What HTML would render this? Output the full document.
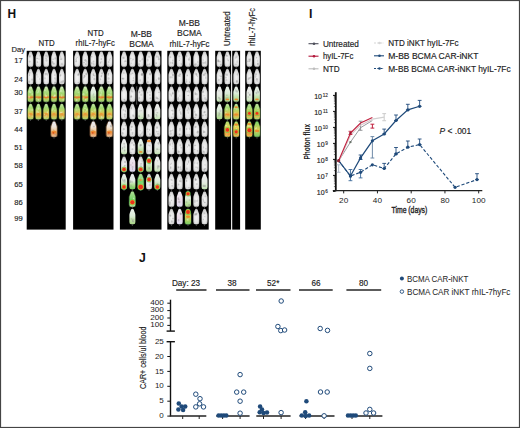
<!DOCTYPE html>
<html><head><meta charset="utf-8"><style>
html,body{margin:0;padding:0;background:#fff;}
svg{display:block;font-family:"Liberation Sans", sans-serif;}
</style></head><body>
<svg width="520" height="428" viewBox="0 0 520 428" font-family='"Liberation Sans", sans-serif'>
<defs>
<filter id="soft" x="-2%" y="-2%" width="104%" height="104%"><feGaussianBlur stdDeviation="0.3"/></filter>
<radialGradient id="gw" cx="0.5" cy="0.55" r="0.62">
 <stop offset="0" stop-color="#f4f4f4"/><stop offset="0.6" stop-color="#e2e2e2"/><stop offset="0.88" stop-color="#c2c2c2"/><stop offset="1" stop-color="#989898"/></radialGradient>
<linearGradient id="gwg" x1="0" y1="0" x2="0" y2="1">
 <stop offset="0" stop-color="#eaeaea"/><stop offset="0.45" stop-color="#e4ece4"/><stop offset="0.75" stop-color="#a8dc88"/><stop offset="1" stop-color="#70cc58"/></linearGradient>
<linearGradient id="gg" x1="0" y1="0" x2="0" y2="1">
 <stop offset="0" stop-color="#d8ecc8"/><stop offset="0.2" stop-color="#b8e090"/><stop offset="0.45" stop-color="#a2d872"/><stop offset="0.6" stop-color="#b4d062"/><stop offset="0.67" stop-color="#e0903a"/><stop offset="0.72" stop-color="#d88034"/><stop offset="0.78" stop-color="#b8cc58"/><stop offset="1" stop-color="#9cd072"/></linearGradient>
<linearGradient id="gk" x1="0" y1="0" x2="0" y2="1">
 <stop offset="0" stop-color="#ececec"/><stop offset="0.5" stop-color="#e6eae4"/><stop offset="0.85" stop-color="#d4e8c8"/><stop offset="1" stop-color="#b8dca8"/></linearGradient>
<linearGradient id="gn" x1="0" y1="0" x2="0" y2="1">
 <stop offset="0" stop-color="#ececf0"/><stop offset="0.5" stop-color="#ecdce8"/><stop offset="1" stop-color="#dcd8ec"/></linearGradient>
<linearGradient id="gq" x1="0" y1="0" x2="0" y2="1">
 <stop offset="0" stop-color="#eaf0ea"/><stop offset="0.45" stop-color="#dcecd8"/><stop offset="0.7" stop-color="#c0e0a8"/><stop offset="1" stop-color="#a8d488"/></linearGradient>
<linearGradient id="go" x1="0" y1="0" x2="0" y2="1">
 <stop offset="0" stop-color="#c4e6a4"/><stop offset="0.25" stop-color="#a2d872"/><stop offset="0.45" stop-color="#bcd462"/><stop offset="0.6" stop-color="#e0c052"/><stop offset="0.72" stop-color="#e0a444"/><stop offset="0.84" stop-color="#d4c455"/><stop offset="1" stop-color="#a4d474"/></linearGradient>
<linearGradient id="gp" x1="0" y1="0" x2="0" y2="1">
 <stop offset="0" stop-color="#e8e8f0"/><stop offset="0.35" stop-color="#f0e4d8"/><stop offset="0.6" stop-color="#f0c898"/><stop offset="0.8" stop-color="#e89858"/><stop offset="1" stop-color="#f0c8a0"/></linearGradient>
<linearGradient id="ggr" x1="0" y1="0" x2="0" y2="1">
 <stop offset="0" stop-color="#b0dc98"/><stop offset="0.5" stop-color="#78d468"/><stop offset="1" stop-color="#c0e4a8"/></linearGradient>
<linearGradient id="ggy" x1="0" y1="0" x2="0" y2="1">
 <stop offset="0" stop-color="#78d468"/><stop offset="0.5" stop-color="#d8d058"/><stop offset="1" stop-color="#78cc68"/></linearGradient>
<linearGradient id="gy" x1="0" y1="0" x2="0" y2="1">
 <stop offset="0" stop-color="#b0dc70"/><stop offset="0.35" stop-color="#e0d858"/><stop offset="0.6" stop-color="#f0b040"/><stop offset="0.85" stop-color="#f0a040"/><stop offset="1" stop-color="#e8c858"/></linearGradient>
</defs>
<rect x="0" y="0" width="520" height="428" fill="#fff"/>
<g filter="url(#soft)">
<rect x="26.7" y="50.8" width="39.00" height="178.80" fill="#000"/>
<path d="M29.48,51.80 Q30.60,51.30 31.72,51.80 L32.99,55.40 Q33.41,56.40 33.41,57.80 L33.41,64.40 Q33.41,66.80 31.86,66.80 L29.34,66.80 Q27.79,66.80 27.79,64.40 L27.79,57.80 Q27.79,56.40 28.21,55.40 Z" fill="url(#gw)"/>
<line x1="30.60" y1="66.60" x2="30.60" y2="68.60" stroke="#777" stroke-width="0.6"/>
<ellipse cx="30.00" cy="56.81" rx="0.89" ry="0.66" fill="#909090" opacity="0.38"/>
<ellipse cx="30.14" cy="55.88" rx="0.80" ry="0.63" fill="#909090" opacity="0.36"/>
<ellipse cx="29.14" cy="56.21" rx="0.75" ry="1.26" fill="#909090" opacity="0.28"/>
<ellipse cx="29.66" cy="61.57" rx="1.07" ry="1.06" fill="#909090" opacity="0.35"/>
<path d="M37.28,51.80 Q38.40,51.30 39.52,51.80 L40.79,55.40 Q41.21,56.40 41.21,57.80 L41.21,64.40 Q41.21,66.80 39.66,66.80 L37.14,66.80 Q35.59,66.80 35.59,64.40 L35.59,57.80 Q35.59,56.40 36.01,55.40 Z" fill="url(#gw)"/>
<line x1="38.40" y1="66.60" x2="38.40" y2="68.60" stroke="#777" stroke-width="0.6"/>
<ellipse cx="40.02" cy="55.77" rx="1.02" ry="0.83" fill="#909090" opacity="0.29"/>
<ellipse cx="37.10" cy="58.38" rx="0.99" ry="0.74" fill="#909090" opacity="0.40"/>
<ellipse cx="38.87" cy="59.02" rx="0.83" ry="0.65" fill="#909090" opacity="0.26"/>
<ellipse cx="37.40" cy="62.10" rx="0.76" ry="0.85" fill="#909090" opacity="0.40"/>
<path d="M45.08,51.80 Q46.20,51.30 47.32,51.80 L48.59,55.40 Q49.01,56.40 49.01,57.80 L49.01,64.40 Q49.01,66.80 47.46,66.80 L44.94,66.80 Q43.39,66.80 43.39,64.40 L43.39,57.80 Q43.39,56.40 43.81,55.40 Z" fill="url(#gw)"/>
<line x1="46.20" y1="66.60" x2="46.20" y2="68.60" stroke="#777" stroke-width="0.6"/>
<ellipse cx="46.04" cy="58.30" rx="0.98" ry="1.16" fill="#909090" opacity="0.31"/>
<ellipse cx="46.45" cy="60.55" rx="1.03" ry="1.18" fill="#909090" opacity="0.32"/>
<ellipse cx="47.83" cy="56.48" rx="0.75" ry="1.21" fill="#909090" opacity="0.29"/>
<ellipse cx="46.16" cy="55.69" rx="0.90" ry="1.21" fill="#909090" opacity="0.39"/>
<path d="M52.88,51.80 Q54.00,51.30 55.12,51.80 L56.39,55.40 Q56.81,56.40 56.81,57.80 L56.81,64.40 Q56.81,66.80 55.26,66.80 L52.74,66.80 Q51.19,66.80 51.19,64.40 L51.19,57.80 Q51.19,56.40 51.61,55.40 Z" fill="url(#gw)"/>
<line x1="54.00" y1="66.60" x2="54.00" y2="68.60" stroke="#777" stroke-width="0.6"/>
<ellipse cx="55.28" cy="58.44" rx="0.92" ry="1.08" fill="#909090" opacity="0.39"/>
<ellipse cx="53.85" cy="63.70" rx="1.07" ry="0.98" fill="#909090" opacity="0.42"/>
<ellipse cx="52.51" cy="62.31" rx="0.89" ry="1.39" fill="#909090" opacity="0.46"/>
<ellipse cx="53.27" cy="59.16" rx="0.90" ry="0.62" fill="#909090" opacity="0.37"/>
<path d="M60.68,51.80 Q61.80,51.30 62.92,51.80 L64.19,55.40 Q64.61,56.40 64.61,57.80 L64.61,64.40 Q64.61,66.80 63.06,66.80 L60.54,66.80 Q58.99,66.80 58.99,64.40 L58.99,57.80 Q58.99,56.40 59.41,55.40 Z" fill="url(#gw)"/>
<line x1="61.80" y1="66.60" x2="61.80" y2="68.60" stroke="#777" stroke-width="0.6"/>
<ellipse cx="60.67" cy="56.47" rx="0.54" ry="1.21" fill="#909090" opacity="0.28"/>
<ellipse cx="60.94" cy="59.21" rx="1.02" ry="0.66" fill="#909090" opacity="0.36"/>
<ellipse cx="61.97" cy="64.13" rx="0.99" ry="1.29" fill="#909090" opacity="0.32"/>
<ellipse cx="61.51" cy="58.89" rx="1.03" ry="1.37" fill="#909090" opacity="0.29"/>
<path d="M29.48,69.30 Q30.60,68.80 31.72,69.30 L32.99,72.90 Q33.41,73.90 33.41,75.30 L33.41,81.90 Q33.41,84.30 31.86,84.30 L29.34,84.30 Q27.79,84.30 27.79,81.90 L27.79,75.30 Q27.79,73.90 28.21,72.90 Z" fill="url(#gw)"/>
<line x1="30.60" y1="84.10" x2="30.60" y2="86.10" stroke="#777" stroke-width="0.6"/>
<ellipse cx="29.50" cy="75.12" rx="0.64" ry="0.99" fill="#909090" opacity="0.40"/>
<ellipse cx="29.79" cy="72.84" rx="0.75" ry="0.90" fill="#909090" opacity="0.39"/>
<ellipse cx="32.14" cy="79.70" rx="0.81" ry="1.09" fill="#909090" opacity="0.42"/>
<ellipse cx="29.08" cy="81.80" rx="0.97" ry="1.30" fill="#909090" opacity="0.45"/>
<path d="M37.28,69.30 Q38.40,68.80 39.52,69.30 L40.79,72.90 Q41.21,73.90 41.21,75.30 L41.21,81.90 Q41.21,84.30 39.66,84.30 L37.14,84.30 Q35.59,84.30 35.59,81.90 L35.59,75.30 Q35.59,73.90 36.01,72.90 Z" fill="url(#gw)"/>
<line x1="38.40" y1="84.10" x2="38.40" y2="86.10" stroke="#777" stroke-width="0.6"/>
<ellipse cx="38.03" cy="76.79" rx="0.56" ry="1.11" fill="#909090" opacity="0.27"/>
<ellipse cx="36.93" cy="74.89" rx="0.60" ry="0.87" fill="#909090" opacity="0.26"/>
<ellipse cx="36.70" cy="74.31" rx="0.56" ry="0.89" fill="#909090" opacity="0.26"/>
<ellipse cx="39.67" cy="78.94" rx="0.59" ry="0.80" fill="#909090" opacity="0.34"/>
<path d="M45.08,69.30 Q46.20,68.80 47.32,69.30 L48.59,72.90 Q49.01,73.90 49.01,75.30 L49.01,81.90 Q49.01,84.30 47.46,84.30 L44.94,84.30 Q43.39,84.30 43.39,81.90 L43.39,75.30 Q43.39,73.90 43.81,72.90 Z" fill="url(#gw)"/>
<line x1="46.20" y1="84.10" x2="46.20" y2="86.10" stroke="#777" stroke-width="0.6"/>
<ellipse cx="45.74" cy="74.03" rx="1.01" ry="1.39" fill="#909090" opacity="0.37"/>
<ellipse cx="46.15" cy="73.66" rx="0.56" ry="0.87" fill="#909090" opacity="0.32"/>
<ellipse cx="47.32" cy="74.41" rx="0.51" ry="1.36" fill="#909090" opacity="0.38"/>
<ellipse cx="45.00" cy="78.23" rx="0.52" ry="1.02" fill="#909090" opacity="0.49"/>
<path d="M52.88,69.30 Q54.00,68.80 55.12,69.30 L56.39,72.90 Q56.81,73.90 56.81,75.30 L56.81,81.90 Q56.81,84.30 55.26,84.30 L52.74,84.30 Q51.19,84.30 51.19,81.90 L51.19,75.30 Q51.19,73.90 51.61,72.90 Z" fill="url(#gw)"/>
<line x1="54.00" y1="84.10" x2="54.00" y2="86.10" stroke="#777" stroke-width="0.6"/>
<ellipse cx="55.24" cy="79.76" rx="0.66" ry="0.89" fill="#909090" opacity="0.29"/>
<ellipse cx="54.92" cy="78.13" rx="0.97" ry="0.86" fill="#909090" opacity="0.31"/>
<ellipse cx="55.06" cy="82.65" rx="1.01" ry="1.24" fill="#909090" opacity="0.45"/>
<ellipse cx="54.82" cy="75.07" rx="0.81" ry="0.88" fill="#909090" opacity="0.26"/>
<path d="M60.68,69.30 Q61.80,68.80 62.92,69.30 L64.19,72.90 Q64.61,73.90 64.61,75.30 L64.61,81.90 Q64.61,84.30 63.06,84.30 L60.54,84.30 Q58.99,84.30 58.99,81.90 L58.99,75.30 Q58.99,73.90 59.41,72.90 Z" fill="url(#gw)"/>
<line x1="61.80" y1="84.10" x2="61.80" y2="86.10" stroke="#777" stroke-width="0.6"/>
<ellipse cx="60.19" cy="75.59" rx="0.66" ry="1.15" fill="#909090" opacity="0.49"/>
<ellipse cx="61.62" cy="82.17" rx="1.09" ry="1.36" fill="#909090" opacity="0.34"/>
<ellipse cx="60.85" cy="75.07" rx="0.62" ry="0.76" fill="#909090" opacity="0.41"/>
<ellipse cx="63.16" cy="81.20" rx="0.79" ry="1.12" fill="#909090" opacity="0.45"/>
<path d="M29.20,86.50 Q30.60,86.00 32.00,86.50 L33.58,90.10 Q34.11,91.10 34.11,92.50 L34.11,99.90 Q34.11,102.30 32.18,102.30 L29.02,102.30 Q27.09,102.30 27.09,99.90 L27.09,92.50 Q27.09,91.10 27.62,90.10 Z" fill="#78cc58" opacity="0.3"/>
<path d="M29.48,86.80 Q30.60,86.30 31.72,86.80 L32.99,90.40 Q33.41,91.40 33.41,92.80 L33.41,99.40 Q33.41,101.80 31.86,101.80 L29.34,101.80 Q27.79,101.80 27.79,99.40 L27.79,92.80 Q27.79,91.40 28.21,90.40 Z" fill="url(#gg)"/>
<line x1="30.60" y1="101.60" x2="30.60" y2="103.60" stroke="#777" stroke-width="0.6"/>
<ellipse cx="29.19" cy="96.91" rx="1.05" ry="1.23" fill="#e8f4d8" opacity="0.44"/>
<ellipse cx="30.53" cy="92.09" rx="0.97" ry="0.87" fill="#e8f4d8" opacity="0.45"/>
<ellipse cx="32.20" cy="94.26" rx="0.74" ry="1.36" fill="#e8f4d8" opacity="0.43"/>
<ellipse cx="29.48" cy="91.57" rx="0.59" ry="1.32" fill="#e8f4d8" opacity="0.45"/>
<ellipse cx="30.60" cy="98.05" rx="1.30" ry="0.56" fill="#ec8a2c" opacity="0.95"/>
<path d="M37.00,86.50 Q38.40,86.00 39.80,86.50 L41.38,90.10 Q41.91,91.10 41.91,92.50 L41.91,99.90 Q41.91,102.30 39.98,102.30 L36.82,102.30 Q34.89,102.30 34.89,99.90 L34.89,92.50 Q34.89,91.10 35.42,90.10 Z" fill="#78cc58" opacity="0.3"/>
<path d="M37.28,86.80 Q38.40,86.30 39.52,86.80 L40.79,90.40 Q41.21,91.40 41.21,92.80 L41.21,99.40 Q41.21,101.80 39.66,101.80 L37.14,101.80 Q35.59,101.80 35.59,99.40 L35.59,92.80 Q35.59,91.40 36.01,90.40 Z" fill="url(#gg)"/>
<line x1="38.40" y1="101.60" x2="38.40" y2="103.60" stroke="#777" stroke-width="0.6"/>
<ellipse cx="37.20" cy="98.57" rx="1.09" ry="1.13" fill="#e8f4d8" opacity="0.34"/>
<ellipse cx="38.57" cy="91.61" rx="0.51" ry="1.38" fill="#e8f4d8" opacity="0.41"/>
<ellipse cx="38.49" cy="99.64" rx="0.76" ry="1.30" fill="#e8f4d8" opacity="0.46"/>
<ellipse cx="37.42" cy="92.82" rx="0.68" ry="0.79" fill="#e8f4d8" opacity="0.40"/>
<ellipse cx="38.40" cy="98.05" rx="1.30" ry="0.56" fill="#ec8a2c" opacity="0.95"/>
<path d="M44.80,86.50 Q46.20,86.00 47.60,86.50 L49.18,90.10 Q49.71,91.10 49.71,92.50 L49.71,99.90 Q49.71,102.30 47.78,102.30 L44.62,102.30 Q42.69,102.30 42.69,99.90 L42.69,92.50 Q42.69,91.10 43.22,90.10 Z" fill="#78cc58" opacity="0.3"/>
<path d="M45.08,86.80 Q46.20,86.30 47.32,86.80 L48.59,90.40 Q49.01,91.40 49.01,92.80 L49.01,99.40 Q49.01,101.80 47.46,101.80 L44.94,101.80 Q43.39,101.80 43.39,99.40 L43.39,92.80 Q43.39,91.40 43.81,90.40 Z" fill="url(#gg)"/>
<line x1="46.20" y1="101.60" x2="46.20" y2="103.60" stroke="#777" stroke-width="0.6"/>
<ellipse cx="45.38" cy="94.49" rx="0.58" ry="1.33" fill="#e8f4d8" opacity="0.34"/>
<ellipse cx="46.06" cy="96.13" rx="1.04" ry="0.94" fill="#e8f4d8" opacity="0.48"/>
<ellipse cx="46.21" cy="95.62" rx="0.81" ry="0.61" fill="#e8f4d8" opacity="0.36"/>
<ellipse cx="45.12" cy="90.34" rx="0.98" ry="0.74" fill="#e8f4d8" opacity="0.37"/>
<ellipse cx="46.20" cy="98.05" rx="1.30" ry="0.56" fill="#ec8a2c" opacity="0.95"/>
<path d="M52.60,86.50 Q54.00,86.00 55.40,86.50 L56.98,90.10 Q57.51,91.10 57.51,92.50 L57.51,99.90 Q57.51,102.30 55.58,102.30 L52.42,102.30 Q50.49,102.30 50.49,99.90 L50.49,92.50 Q50.49,91.10 51.02,90.10 Z" fill="#78cc58" opacity="0.3"/>
<path d="M52.88,86.80 Q54.00,86.30 55.12,86.80 L56.39,90.40 Q56.81,91.40 56.81,92.80 L56.81,99.40 Q56.81,101.80 55.26,101.80 L52.74,101.80 Q51.19,101.80 51.19,99.40 L51.19,92.80 Q51.19,91.40 51.61,90.40 Z" fill="url(#gg)"/>
<line x1="54.00" y1="101.60" x2="54.00" y2="103.60" stroke="#777" stroke-width="0.6"/>
<ellipse cx="54.77" cy="95.86" rx="0.70" ry="1.01" fill="#e8f4d8" opacity="0.39"/>
<ellipse cx="54.97" cy="91.36" rx="0.84" ry="0.80" fill="#e8f4d8" opacity="0.32"/>
<ellipse cx="54.93" cy="95.38" rx="0.84" ry="1.21" fill="#e8f4d8" opacity="0.48"/>
<ellipse cx="53.81" cy="96.43" rx="0.80" ry="1.01" fill="#e8f4d8" opacity="0.42"/>
<ellipse cx="54.00" cy="98.05" rx="1.30" ry="0.56" fill="#ec8a2c" opacity="0.95"/>
<path d="M60.40,86.50 Q61.80,86.00 63.20,86.50 L64.78,90.10 Q65.31,91.10 65.31,92.50 L65.31,99.90 Q65.31,102.30 63.38,102.30 L60.22,102.30 Q58.29,102.30 58.29,99.90 L58.29,92.50 Q58.29,91.10 58.82,90.10 Z" fill="#78cc58" opacity="0.3"/>
<path d="M60.68,86.80 Q61.80,86.30 62.92,86.80 L64.19,90.40 Q64.61,91.40 64.61,92.80 L64.61,99.40 Q64.61,101.80 63.06,101.80 L60.54,101.80 Q58.99,101.80 58.99,99.40 L58.99,92.80 Q58.99,91.40 59.41,90.40 Z" fill="url(#gg)"/>
<line x1="61.80" y1="101.60" x2="61.80" y2="103.60" stroke="#777" stroke-width="0.6"/>
<ellipse cx="61.64" cy="95.63" rx="0.79" ry="1.35" fill="#e8f4d8" opacity="0.42"/>
<ellipse cx="63.08" cy="99.72" rx="0.66" ry="1.05" fill="#e8f4d8" opacity="0.49"/>
<ellipse cx="62.96" cy="91.67" rx="0.57" ry="0.95" fill="#e8f4d8" opacity="0.27"/>
<ellipse cx="60.92" cy="91.03" rx="0.90" ry="1.23" fill="#e8f4d8" opacity="0.47"/>
<ellipse cx="61.80" cy="98.05" rx="1.30" ry="0.56" fill="#ec8a2c" opacity="0.95"/>
<path d="M29.20,104.00 Q30.60,103.50 32.00,104.00 L33.58,107.60 Q34.11,108.60 34.11,110.00 L34.11,117.40 Q34.11,119.80 32.18,119.80 L29.02,119.80 Q27.09,119.80 27.09,117.40 L27.09,110.00 Q27.09,108.60 27.62,107.60 Z" fill="#78cc58" opacity="0.3"/>
<path d="M29.48,104.30 Q30.60,103.80 31.72,104.30 L32.99,107.90 Q33.41,108.90 33.41,110.30 L33.41,116.90 Q33.41,119.30 31.86,119.30 L29.34,119.30 Q27.79,119.30 27.79,116.90 L27.79,110.30 Q27.79,108.90 28.21,107.90 Z" fill="url(#go)"/>
<line x1="30.60" y1="119.10" x2="30.60" y2="121.10" stroke="#777" stroke-width="0.6"/>
<ellipse cx="29.43" cy="114.96" rx="0.90" ry="0.71" fill="#e8f4d8" opacity="0.47"/>
<ellipse cx="32.19" cy="110.00" rx="1.07" ry="0.92" fill="#e8f4d8" opacity="0.37"/>
<ellipse cx="32.27" cy="116.12" rx="0.60" ry="0.95" fill="#e8f4d8" opacity="0.38"/>
<ellipse cx="30.05" cy="109.76" rx="0.69" ry="1.18" fill="#e8f4d8" opacity="0.25"/>
<ellipse cx="30.60" cy="113.90" rx="1.50" ry="0.72" fill="#ec8a2c" opacity="0.95"/>
<path d="M37.00,104.00 Q38.40,103.50 39.80,104.00 L41.38,107.60 Q41.91,108.60 41.91,110.00 L41.91,117.40 Q41.91,119.80 39.98,119.80 L36.82,119.80 Q34.89,119.80 34.89,117.40 L34.89,110.00 Q34.89,108.60 35.42,107.60 Z" fill="#78cc58" opacity="0.3"/>
<path d="M37.28,104.30 Q38.40,103.80 39.52,104.30 L40.79,107.90 Q41.21,108.90 41.21,110.30 L41.21,116.90 Q41.21,119.30 39.66,119.30 L37.14,119.30 Q35.59,119.30 35.59,116.90 L35.59,110.30 Q35.59,108.90 36.01,107.90 Z" fill="url(#go)"/>
<line x1="38.40" y1="119.10" x2="38.40" y2="121.10" stroke="#777" stroke-width="0.6"/>
<ellipse cx="38.58" cy="112.20" rx="0.51" ry="0.87" fill="#e8f4d8" opacity="0.41"/>
<ellipse cx="38.44" cy="108.44" rx="1.09" ry="1.23" fill="#e8f4d8" opacity="0.49"/>
<ellipse cx="37.06" cy="110.46" rx="0.52" ry="1.22" fill="#e8f4d8" opacity="0.32"/>
<ellipse cx="37.14" cy="112.02" rx="1.05" ry="1.26" fill="#e8f4d8" opacity="0.31"/>
<ellipse cx="38.40" cy="113.90" rx="1.50" ry="0.72" fill="#ec8a2c" opacity="0.95"/>
<path d="M44.80,104.00 Q46.20,103.50 47.60,104.00 L49.18,107.60 Q49.71,108.60 49.71,110.00 L49.71,117.40 Q49.71,119.80 47.78,119.80 L44.62,119.80 Q42.69,119.80 42.69,117.40 L42.69,110.00 Q42.69,108.60 43.22,107.60 Z" fill="#78cc58" opacity="0.3"/>
<path d="M45.08,104.30 Q46.20,103.80 47.32,104.30 L48.59,107.90 Q49.01,108.90 49.01,110.30 L49.01,116.90 Q49.01,119.30 47.46,119.30 L44.94,119.30 Q43.39,119.30 43.39,116.90 L43.39,110.30 Q43.39,108.90 43.81,107.90 Z" fill="url(#go)"/>
<line x1="46.20" y1="119.10" x2="46.20" y2="121.10" stroke="#777" stroke-width="0.6"/>
<ellipse cx="45.01" cy="116.99" rx="0.84" ry="1.16" fill="#e8f4d8" opacity="0.27"/>
<ellipse cx="44.70" cy="114.68" rx="0.76" ry="0.66" fill="#e8f4d8" opacity="0.48"/>
<ellipse cx="46.66" cy="115.82" rx="0.55" ry="1.28" fill="#e8f4d8" opacity="0.27"/>
<ellipse cx="47.43" cy="112.34" rx="0.70" ry="1.04" fill="#e8f4d8" opacity="0.48"/>
<ellipse cx="46.20" cy="113.90" rx="1.50" ry="0.72" fill="#ec8a2c" opacity="0.95"/>
<path d="M52.60,104.00 Q54.00,103.50 55.40,104.00 L56.98,107.60 Q57.51,108.60 57.51,110.00 L57.51,117.40 Q57.51,119.80 55.58,119.80 L52.42,119.80 Q50.49,119.80 50.49,117.40 L50.49,110.00 Q50.49,108.60 51.02,107.60 Z" fill="#78cc58" opacity="0.3"/>
<path d="M52.88,104.30 Q54.00,103.80 55.12,104.30 L56.39,107.90 Q56.81,108.90 56.81,110.30 L56.81,116.90 Q56.81,119.30 55.26,119.30 L52.74,119.30 Q51.19,119.30 51.19,116.90 L51.19,110.30 Q51.19,108.90 51.61,107.90 Z" fill="url(#go)"/>
<line x1="54.00" y1="119.10" x2="54.00" y2="121.10" stroke="#777" stroke-width="0.6"/>
<ellipse cx="53.21" cy="109.09" rx="0.82" ry="0.79" fill="#e8f4d8" opacity="0.28"/>
<ellipse cx="52.85" cy="108.30" rx="0.62" ry="0.85" fill="#e8f4d8" opacity="0.33"/>
<ellipse cx="54.88" cy="110.70" rx="0.80" ry="0.74" fill="#e8f4d8" opacity="0.34"/>
<ellipse cx="52.36" cy="110.30" rx="0.51" ry="1.19" fill="#e8f4d8" opacity="0.39"/>
<ellipse cx="54.00" cy="113.90" rx="1.50" ry="0.72" fill="#ec8a2c" opacity="0.95"/>
<path d="M60.40,104.00 Q61.80,103.50 63.20,104.00 L64.78,107.60 Q65.31,108.60 65.31,110.00 L65.31,117.40 Q65.31,119.80 63.38,119.80 L60.22,119.80 Q58.29,119.80 58.29,117.40 L58.29,110.00 Q58.29,108.60 58.82,107.60 Z" fill="#78cc58" opacity="0.3"/>
<path d="M60.68,104.30 Q61.80,103.80 62.92,104.30 L64.19,107.90 Q64.61,108.90 64.61,110.30 L64.61,116.90 Q64.61,119.30 63.06,119.30 L60.54,119.30 Q58.99,119.30 58.99,116.90 L58.99,110.30 Q58.99,108.90 59.41,107.90 Z" fill="url(#go)"/>
<line x1="61.80" y1="119.10" x2="61.80" y2="121.10" stroke="#777" stroke-width="0.6"/>
<ellipse cx="60.74" cy="112.55" rx="1.06" ry="0.69" fill="#e8f4d8" opacity="0.45"/>
<ellipse cx="61.57" cy="112.75" rx="1.00" ry="0.91" fill="#e8f4d8" opacity="0.38"/>
<ellipse cx="62.44" cy="117.62" rx="0.71" ry="1.27" fill="#e8f4d8" opacity="0.43"/>
<ellipse cx="62.26" cy="111.85" rx="0.71" ry="0.64" fill="#e8f4d8" opacity="0.28"/>
<ellipse cx="61.80" cy="113.90" rx="1.50" ry="0.72" fill="#ec8a2c" opacity="0.95"/>
<path d="M52.52,121.50 Q54.00,121.00 55.48,121.50 L57.15,125.10 Q57.71,126.10 57.71,127.50 L57.71,134.90 Q57.71,137.30 55.67,137.30 L52.33,137.30 Q50.29,137.30 50.29,134.90 L50.29,127.50 Q50.29,126.10 50.85,125.10 Z" fill="#f0b070" opacity="0.4"/>
<path d="M52.88,121.80 Q54.00,121.30 55.12,121.80 L56.39,125.40 Q56.81,126.40 56.81,127.80 L56.81,134.40 Q56.81,136.80 55.26,136.80 L52.74,136.80 Q51.19,136.80 51.19,134.40 L51.19,127.80 Q51.19,126.40 51.61,125.40 Z" fill="url(#gp)"/>
<line x1="54.00" y1="136.60" x2="54.00" y2="138.60" stroke="#777" stroke-width="0.6"/>
<ellipse cx="52.54" cy="132.71" rx="0.65" ry="0.73" fill="#909090" opacity="0.27"/>
<ellipse cx="55.16" cy="134.01" rx="0.90" ry="0.83" fill="#909090" opacity="0.31"/>
<ellipse cx="53.30" cy="129.89" rx="0.59" ry="0.96" fill="#909090" opacity="0.32"/>
<ellipse cx="55.57" cy="135.03" rx="0.83" ry="0.80" fill="#909090" opacity="0.49"/>
<ellipse cx="54.00" cy="132.00" rx="2.60" ry="1.60" fill="#ec8a2c" opacity="0.95"/>
<ellipse cx="53.40" cy="132.90" rx="0.90" ry="0.81" fill="#d84a20" opacity="0.9"/>
<rect x="73.1" y="50.8" width="40.40" height="178.80" fill="#000"/>
<path d="M75.98,51.80 Q77.14,51.30 78.30,51.80 L79.61,55.40 Q80.05,56.40 80.05,57.80 L80.05,64.40 Q80.05,66.80 78.45,66.80 L75.83,66.80 Q74.23,66.80 74.23,64.40 L74.23,57.80 Q74.23,56.40 74.67,55.40 Z" fill="url(#gw)"/>
<line x1="77.14" y1="66.60" x2="77.14" y2="68.60" stroke="#777" stroke-width="0.6"/>
<ellipse cx="76.49" cy="58.87" rx="0.50" ry="0.91" fill="#909090" opacity="0.37"/>
<ellipse cx="77.15" cy="57.31" rx="0.80" ry="0.60" fill="#909090" opacity="0.32"/>
<ellipse cx="75.75" cy="59.30" rx="0.53" ry="0.62" fill="#909090" opacity="0.33"/>
<ellipse cx="76.23" cy="61.16" rx="0.82" ry="1.20" fill="#909090" opacity="0.41"/>
<path d="M84.06,51.80 Q85.22,51.30 86.38,51.80 L87.69,55.40 Q88.13,56.40 88.13,57.80 L88.13,64.40 Q88.13,66.80 86.53,66.80 L83.91,66.80 Q82.31,66.80 82.31,64.40 L82.31,57.80 Q82.31,56.40 82.75,55.40 Z" fill="url(#gw)"/>
<line x1="85.22" y1="66.60" x2="85.22" y2="68.60" stroke="#777" stroke-width="0.6"/>
<ellipse cx="85.95" cy="64.09" rx="0.73" ry="0.86" fill="#909090" opacity="0.50"/>
<ellipse cx="84.03" cy="62.54" rx="0.89" ry="0.64" fill="#909090" opacity="0.46"/>
<ellipse cx="86.55" cy="61.57" rx="0.94" ry="1.25" fill="#909090" opacity="0.28"/>
<ellipse cx="85.30" cy="60.34" rx="1.00" ry="1.24" fill="#909090" opacity="0.46"/>
<path d="M92.14,51.80 Q93.30,51.30 94.46,51.80 L95.77,55.40 Q96.21,56.40 96.21,57.80 L96.21,64.40 Q96.21,66.80 94.61,66.80 L91.99,66.80 Q90.39,66.80 90.39,64.40 L90.39,57.80 Q90.39,56.40 90.83,55.40 Z" fill="url(#gw)"/>
<line x1="93.30" y1="66.60" x2="93.30" y2="68.60" stroke="#777" stroke-width="0.6"/>
<ellipse cx="93.59" cy="64.23" rx="0.91" ry="1.15" fill="#909090" opacity="0.31"/>
<ellipse cx="91.71" cy="56.63" rx="0.72" ry="0.68" fill="#909090" opacity="0.46"/>
<ellipse cx="93.50" cy="61.58" rx="0.88" ry="1.14" fill="#909090" opacity="0.37"/>
<ellipse cx="91.61" cy="63.28" rx="0.95" ry="1.00" fill="#909090" opacity="0.38"/>
<path d="M100.22,51.80 Q101.38,51.30 102.54,51.80 L103.85,55.40 Q104.29,56.40 104.29,57.80 L104.29,64.40 Q104.29,66.80 102.69,66.80 L100.07,66.80 Q98.47,66.80 98.47,64.40 L98.47,57.80 Q98.47,56.40 98.91,55.40 Z" fill="url(#gw)"/>
<line x1="101.38" y1="66.60" x2="101.38" y2="68.60" stroke="#777" stroke-width="0.6"/>
<ellipse cx="101.92" cy="55.96" rx="0.94" ry="0.80" fill="#909090" opacity="0.27"/>
<ellipse cx="100.58" cy="62.59" rx="0.62" ry="1.19" fill="#909090" opacity="0.49"/>
<ellipse cx="101.36" cy="59.13" rx="0.79" ry="1.15" fill="#909090" opacity="0.44"/>
<ellipse cx="101.78" cy="61.73" rx="0.55" ry="0.72" fill="#909090" opacity="0.31"/>
<path d="M108.30,51.80 Q109.46,51.30 110.62,51.80 L111.93,55.40 Q112.37,56.40 112.37,57.80 L112.37,64.40 Q112.37,66.80 110.77,66.80 L108.15,66.80 Q106.55,66.80 106.55,64.40 L106.55,57.80 Q106.55,56.40 106.99,55.40 Z" fill="url(#gw)"/>
<line x1="109.46" y1="66.60" x2="109.46" y2="68.60" stroke="#777" stroke-width="0.6"/>
<ellipse cx="110.29" cy="58.34" rx="0.84" ry="0.61" fill="#909090" opacity="0.27"/>
<ellipse cx="108.67" cy="62.02" rx="0.92" ry="1.14" fill="#909090" opacity="0.32"/>
<ellipse cx="109.52" cy="59.95" rx="0.78" ry="0.69" fill="#909090" opacity="0.47"/>
<ellipse cx="108.44" cy="65.08" rx="1.06" ry="0.61" fill="#909090" opacity="0.36"/>
<path d="M75.98,69.30 Q77.14,68.80 78.30,69.30 L79.61,72.90 Q80.05,73.90 80.05,75.30 L80.05,81.90 Q80.05,84.30 78.45,84.30 L75.83,84.30 Q74.23,84.30 74.23,81.90 L74.23,75.30 Q74.23,73.90 74.67,72.90 Z" fill="url(#gw)"/>
<line x1="77.14" y1="84.10" x2="77.14" y2="86.10" stroke="#777" stroke-width="0.6"/>
<ellipse cx="78.23" cy="82.48" rx="0.77" ry="0.81" fill="#909090" opacity="0.30"/>
<ellipse cx="78.65" cy="74.91" rx="0.85" ry="0.71" fill="#909090" opacity="0.38"/>
<ellipse cx="78.68" cy="74.13" rx="0.99" ry="1.01" fill="#909090" opacity="0.47"/>
<ellipse cx="77.83" cy="75.11" rx="1.04" ry="0.99" fill="#909090" opacity="0.26"/>
<path d="M84.06,69.30 Q85.22,68.80 86.38,69.30 L87.69,72.90 Q88.13,73.90 88.13,75.30 L88.13,81.90 Q88.13,84.30 86.53,84.30 L83.91,84.30 Q82.31,84.30 82.31,81.90 L82.31,75.30 Q82.31,73.90 82.75,72.90 Z" fill="url(#gw)"/>
<line x1="85.22" y1="84.10" x2="85.22" y2="86.10" stroke="#777" stroke-width="0.6"/>
<ellipse cx="83.53" cy="77.72" rx="0.77" ry="0.84" fill="#909090" opacity="0.29"/>
<ellipse cx="84.69" cy="75.96" rx="1.00" ry="0.60" fill="#909090" opacity="0.44"/>
<ellipse cx="86.37" cy="74.00" rx="1.06" ry="1.17" fill="#909090" opacity="0.48"/>
<ellipse cx="84.51" cy="76.52" rx="0.74" ry="1.40" fill="#909090" opacity="0.40"/>
<path d="M92.14,69.30 Q93.30,68.80 94.46,69.30 L95.77,72.90 Q96.21,73.90 96.21,75.30 L96.21,81.90 Q96.21,84.30 94.61,84.30 L91.99,84.30 Q90.39,84.30 90.39,81.90 L90.39,75.30 Q90.39,73.90 90.83,72.90 Z" fill="url(#gw)"/>
<line x1="93.30" y1="84.10" x2="93.30" y2="86.10" stroke="#777" stroke-width="0.6"/>
<ellipse cx="92.83" cy="77.08" rx="0.67" ry="0.64" fill="#909090" opacity="0.28"/>
<ellipse cx="94.44" cy="75.66" rx="1.06" ry="0.80" fill="#909090" opacity="0.32"/>
<ellipse cx="93.34" cy="74.70" rx="0.72" ry="1.36" fill="#909090" opacity="0.47"/>
<ellipse cx="94.36" cy="79.11" rx="1.05" ry="1.35" fill="#909090" opacity="0.39"/>
<path d="M100.22,69.30 Q101.38,68.80 102.54,69.30 L103.85,72.90 Q104.29,73.90 104.29,75.30 L104.29,81.90 Q104.29,84.30 102.69,84.30 L100.07,84.30 Q98.47,84.30 98.47,81.90 L98.47,75.30 Q98.47,73.90 98.91,72.90 Z" fill="url(#gw)"/>
<line x1="101.38" y1="84.10" x2="101.38" y2="86.10" stroke="#777" stroke-width="0.6"/>
<ellipse cx="102.13" cy="73.29" rx="0.94" ry="0.96" fill="#909090" opacity="0.44"/>
<ellipse cx="101.87" cy="75.66" rx="0.53" ry="1.34" fill="#909090" opacity="0.28"/>
<ellipse cx="101.29" cy="76.24" rx="0.68" ry="1.19" fill="#909090" opacity="0.49"/>
<ellipse cx="100.56" cy="79.36" rx="0.68" ry="1.05" fill="#909090" opacity="0.35"/>
<path d="M108.30,69.30 Q109.46,68.80 110.62,69.30 L111.93,72.90 Q112.37,73.90 112.37,75.30 L112.37,81.90 Q112.37,84.30 110.77,84.30 L108.15,84.30 Q106.55,84.30 106.55,81.90 L106.55,75.30 Q106.55,73.90 106.99,72.90 Z" fill="url(#gw)"/>
<line x1="109.46" y1="84.10" x2="109.46" y2="86.10" stroke="#777" stroke-width="0.6"/>
<ellipse cx="108.33" cy="74.42" rx="0.62" ry="1.32" fill="#909090" opacity="0.37"/>
<ellipse cx="108.51" cy="81.86" rx="1.10" ry="0.96" fill="#909090" opacity="0.28"/>
<ellipse cx="108.41" cy="73.71" rx="0.71" ry="0.67" fill="#909090" opacity="0.31"/>
<ellipse cx="108.64" cy="78.50" rx="1.03" ry="1.20" fill="#909090" opacity="0.35"/>
<path d="M75.70,86.50 Q77.14,86.00 78.58,86.50 L80.21,90.10 Q80.75,91.10 80.75,92.50 L80.75,99.90 Q80.75,102.30 78.76,102.30 L75.52,102.30 Q73.53,102.30 73.53,99.90 L73.53,92.50 Q73.53,91.10 74.07,90.10 Z" fill="#78cc58" opacity="0.3"/>
<path d="M75.98,86.80 Q77.14,86.30 78.30,86.80 L79.61,90.40 Q80.05,91.40 80.05,92.80 L80.05,99.40 Q80.05,101.80 78.45,101.80 L75.83,101.80 Q74.23,101.80 74.23,99.40 L74.23,92.80 Q74.23,91.40 74.67,90.40 Z" fill="url(#gg)"/>
<line x1="77.14" y1="101.60" x2="77.14" y2="103.60" stroke="#777" stroke-width="0.6"/>
<ellipse cx="76.85" cy="95.54" rx="0.73" ry="0.87" fill="#e8f4d8" opacity="0.27"/>
<ellipse cx="76.38" cy="99.98" rx="0.58" ry="1.00" fill="#e8f4d8" opacity="0.41"/>
<ellipse cx="78.37" cy="92.46" rx="0.66" ry="0.80" fill="#e8f4d8" opacity="0.35"/>
<ellipse cx="76.96" cy="99.84" rx="1.01" ry="1.30" fill="#e8f4d8" opacity="0.26"/>
<ellipse cx="77.14" cy="98.05" rx="1.30" ry="0.56" fill="#ec8a2c" opacity="0.95"/>
<path d="M83.78,86.50 Q85.22,86.00 86.66,86.50 L88.29,90.10 Q88.83,91.10 88.83,92.50 L88.83,99.90 Q88.83,102.30 86.84,102.30 L83.60,102.30 Q81.61,102.30 81.61,99.90 L81.61,92.50 Q81.61,91.10 82.15,90.10 Z" fill="#78cc58" opacity="0.3"/>
<path d="M84.06,86.80 Q85.22,86.30 86.38,86.80 L87.69,90.40 Q88.13,91.40 88.13,92.80 L88.13,99.40 Q88.13,101.80 86.53,101.80 L83.91,101.80 Q82.31,101.80 82.31,99.40 L82.31,92.80 Q82.31,91.40 82.75,90.40 Z" fill="url(#gg)"/>
<line x1="85.22" y1="101.60" x2="85.22" y2="103.60" stroke="#777" stroke-width="0.6"/>
<ellipse cx="83.63" cy="97.40" rx="1.04" ry="0.98" fill="#e8f4d8" opacity="0.40"/>
<ellipse cx="83.52" cy="94.22" rx="1.06" ry="1.26" fill="#e8f4d8" opacity="0.46"/>
<ellipse cx="86.83" cy="92.78" rx="0.57" ry="0.72" fill="#e8f4d8" opacity="0.38"/>
<ellipse cx="85.84" cy="99.71" rx="0.93" ry="1.12" fill="#e8f4d8" opacity="0.44"/>
<ellipse cx="85.22" cy="98.05" rx="1.30" ry="0.56" fill="#ec8a2c" opacity="0.95"/>
<path d="M92.14,86.80 Q93.30,86.30 94.46,86.80 L95.77,90.40 Q96.21,91.40 96.21,92.80 L96.21,99.40 Q96.21,101.80 94.61,101.80 L91.99,101.80 Q90.39,101.80 90.39,99.40 L90.39,92.80 Q90.39,91.40 90.83,90.40 Z" fill="url(#gq)"/>
<line x1="93.30" y1="101.60" x2="93.30" y2="103.60" stroke="#777" stroke-width="0.6"/>
<ellipse cx="93.15" cy="95.82" rx="0.52" ry="1.23" fill="#909090" opacity="0.31"/>
<ellipse cx="94.73" cy="96.76" rx="0.68" ry="0.70" fill="#909090" opacity="0.31"/>
<ellipse cx="93.76" cy="97.29" rx="0.57" ry="0.66" fill="#909090" opacity="0.38"/>
<ellipse cx="93.58" cy="94.18" rx="0.63" ry="1.08" fill="#909090" opacity="0.25"/>
<path d="M99.94,86.50 Q101.38,86.00 102.82,86.50 L104.45,90.10 Q104.99,91.10 104.99,92.50 L104.99,99.90 Q104.99,102.30 103.00,102.30 L99.76,102.30 Q97.77,102.30 97.77,99.90 L97.77,92.50 Q97.77,91.10 98.31,90.10 Z" fill="#78cc58" opacity="0.3"/>
<path d="M100.22,86.80 Q101.38,86.30 102.54,86.80 L103.85,90.40 Q104.29,91.40 104.29,92.80 L104.29,99.40 Q104.29,101.80 102.69,101.80 L100.07,101.80 Q98.47,101.80 98.47,99.40 L98.47,92.80 Q98.47,91.40 98.91,90.40 Z" fill="url(#gg)"/>
<line x1="101.38" y1="101.60" x2="101.38" y2="103.60" stroke="#777" stroke-width="0.6"/>
<ellipse cx="100.71" cy="94.91" rx="1.08" ry="1.12" fill="#e8f4d8" opacity="0.47"/>
<ellipse cx="101.30" cy="92.65" rx="0.65" ry="1.37" fill="#e8f4d8" opacity="0.43"/>
<ellipse cx="100.73" cy="90.52" rx="0.80" ry="1.14" fill="#e8f4d8" opacity="0.36"/>
<ellipse cx="100.55" cy="96.97" rx="1.06" ry="0.78" fill="#e8f4d8" opacity="0.26"/>
<ellipse cx="101.38" cy="98.05" rx="1.30" ry="0.56" fill="#ec8a2c" opacity="0.95"/>
<path d="M108.02,86.50 Q109.46,86.00 110.90,86.50 L112.53,90.10 Q113.07,91.10 113.07,92.50 L113.07,99.90 Q113.07,102.30 111.08,102.30 L107.84,102.30 Q105.85,102.30 105.85,99.90 L105.85,92.50 Q105.85,91.10 106.39,90.10 Z" fill="#78cc58" opacity="0.3"/>
<path d="M108.30,86.80 Q109.46,86.30 110.62,86.80 L111.93,90.40 Q112.37,91.40 112.37,92.80 L112.37,99.40 Q112.37,101.80 110.77,101.80 L108.15,101.80 Q106.55,101.80 106.55,99.40 L106.55,92.80 Q106.55,91.40 106.99,90.40 Z" fill="url(#gg)"/>
<line x1="109.46" y1="101.60" x2="109.46" y2="103.60" stroke="#777" stroke-width="0.6"/>
<ellipse cx="108.91" cy="94.51" rx="0.91" ry="0.76" fill="#e8f4d8" opacity="0.45"/>
<ellipse cx="110.27" cy="95.35" rx="0.62" ry="1.38" fill="#e8f4d8" opacity="0.33"/>
<ellipse cx="110.55" cy="92.61" rx="0.63" ry="1.21" fill="#e8f4d8" opacity="0.32"/>
<ellipse cx="111.00" cy="95.26" rx="0.61" ry="0.78" fill="#e8f4d8" opacity="0.35"/>
<ellipse cx="109.46" cy="98.05" rx="1.30" ry="0.56" fill="#ec8a2c" opacity="0.95"/>
<path d="M75.70,104.00 Q77.14,103.50 78.58,104.00 L80.21,107.60 Q80.75,108.60 80.75,110.00 L80.75,117.40 Q80.75,119.80 78.76,119.80 L75.52,119.80 Q73.53,119.80 73.53,117.40 L73.53,110.00 Q73.53,108.60 74.07,107.60 Z" fill="#78cc58" opacity="0.3"/>
<path d="M75.98,104.30 Q77.14,103.80 78.30,104.30 L79.61,107.90 Q80.05,108.90 80.05,110.30 L80.05,116.90 Q80.05,119.30 78.45,119.30 L75.83,119.30 Q74.23,119.30 74.23,116.90 L74.23,110.30 Q74.23,108.90 74.67,107.90 Z" fill="url(#go)"/>
<line x1="77.14" y1="119.10" x2="77.14" y2="121.10" stroke="#777" stroke-width="0.6"/>
<ellipse cx="77.70" cy="117.29" rx="0.59" ry="0.91" fill="#e8f4d8" opacity="0.30"/>
<ellipse cx="78.75" cy="109.22" rx="0.53" ry="0.65" fill="#e8f4d8" opacity="0.35"/>
<ellipse cx="78.49" cy="116.64" rx="0.94" ry="1.40" fill="#e8f4d8" opacity="0.48"/>
<ellipse cx="76.56" cy="109.66" rx="1.06" ry="1.20" fill="#e8f4d8" opacity="0.26"/>
<ellipse cx="77.14" cy="113.90" rx="1.50" ry="0.72" fill="#ec8a2c" opacity="0.95"/>
<path d="M83.78,104.00 Q85.22,103.50 86.66,104.00 L88.29,107.60 Q88.83,108.60 88.83,110.00 L88.83,117.40 Q88.83,119.80 86.84,119.80 L83.60,119.80 Q81.61,119.80 81.61,117.40 L81.61,110.00 Q81.61,108.60 82.15,107.60 Z" fill="#78cc58" opacity="0.3"/>
<path d="M84.06,104.30 Q85.22,103.80 86.38,104.30 L87.69,107.90 Q88.13,108.90 88.13,110.30 L88.13,116.90 Q88.13,119.30 86.53,119.30 L83.91,119.30 Q82.31,119.30 82.31,116.90 L82.31,110.30 Q82.31,108.90 82.75,107.90 Z" fill="url(#go)"/>
<line x1="85.22" y1="119.10" x2="85.22" y2="121.10" stroke="#777" stroke-width="0.6"/>
<ellipse cx="85.78" cy="111.59" rx="0.72" ry="0.87" fill="#e8f4d8" opacity="0.29"/>
<ellipse cx="83.53" cy="110.60" rx="0.71" ry="1.36" fill="#e8f4d8" opacity="0.28"/>
<ellipse cx="86.80" cy="109.87" rx="0.71" ry="1.26" fill="#e8f4d8" opacity="0.46"/>
<ellipse cx="84.99" cy="108.29" rx="0.78" ry="0.90" fill="#e8f4d8" opacity="0.48"/>
<ellipse cx="85.22" cy="113.90" rx="1.50" ry="0.72" fill="#ec8a2c" opacity="0.95"/>
<path d="M91.86,104.00 Q93.30,103.50 94.74,104.00 L96.37,107.60 Q96.91,108.60 96.91,110.00 L96.91,117.40 Q96.91,119.80 94.92,119.80 L91.68,119.80 Q89.69,119.80 89.69,117.40 L89.69,110.00 Q89.69,108.60 90.23,107.60 Z" fill="#78cc58" opacity="0.3"/>
<path d="M92.14,104.30 Q93.30,103.80 94.46,104.30 L95.77,107.90 Q96.21,108.90 96.21,110.30 L96.21,116.90 Q96.21,119.30 94.61,119.30 L91.99,119.30 Q90.39,119.30 90.39,116.90 L90.39,110.30 Q90.39,108.90 90.83,107.90 Z" fill="url(#go)"/>
<line x1="93.30" y1="119.10" x2="93.30" y2="121.10" stroke="#777" stroke-width="0.6"/>
<ellipse cx="92.26" cy="111.44" rx="1.04" ry="0.62" fill="#e8f4d8" opacity="0.35"/>
<ellipse cx="94.36" cy="115.47" rx="0.52" ry="0.63" fill="#e8f4d8" opacity="0.27"/>
<ellipse cx="94.73" cy="110.37" rx="0.95" ry="1.32" fill="#e8f4d8" opacity="0.33"/>
<ellipse cx="92.53" cy="117.38" rx="0.87" ry="0.81" fill="#e8f4d8" opacity="0.43"/>
<ellipse cx="93.30" cy="113.90" rx="1.50" ry="0.72" fill="#ec8a2c" opacity="0.95"/>
<path d="M99.94,104.00 Q101.38,103.50 102.82,104.00 L104.45,107.60 Q104.99,108.60 104.99,110.00 L104.99,117.40 Q104.99,119.80 103.00,119.80 L99.76,119.80 Q97.77,119.80 97.77,117.40 L97.77,110.00 Q97.77,108.60 98.31,107.60 Z" fill="#78cc58" opacity="0.3"/>
<path d="M100.22,104.30 Q101.38,103.80 102.54,104.30 L103.85,107.90 Q104.29,108.90 104.29,110.30 L104.29,116.90 Q104.29,119.30 102.69,119.30 L100.07,119.30 Q98.47,119.30 98.47,116.90 L98.47,110.30 Q98.47,108.90 98.91,107.90 Z" fill="url(#go)"/>
<line x1="101.38" y1="119.10" x2="101.38" y2="121.10" stroke="#777" stroke-width="0.6"/>
<ellipse cx="100.76" cy="110.56" rx="0.50" ry="1.20" fill="#e8f4d8" opacity="0.48"/>
<ellipse cx="101.84" cy="117.23" rx="0.51" ry="0.79" fill="#e8f4d8" opacity="0.37"/>
<ellipse cx="102.93" cy="117.34" rx="0.73" ry="0.80" fill="#e8f4d8" opacity="0.36"/>
<ellipse cx="101.36" cy="117.08" rx="0.61" ry="1.24" fill="#e8f4d8" opacity="0.43"/>
<ellipse cx="101.38" cy="113.90" rx="1.50" ry="0.72" fill="#ec8a2c" opacity="0.95"/>
<path d="M108.02,104.00 Q109.46,103.50 110.90,104.00 L112.53,107.60 Q113.07,108.60 113.07,110.00 L113.07,117.40 Q113.07,119.80 111.08,119.80 L107.84,119.80 Q105.85,119.80 105.85,117.40 L105.85,110.00 Q105.85,108.60 106.39,107.60 Z" fill="#78cc58" opacity="0.3"/>
<path d="M108.30,104.30 Q109.46,103.80 110.62,104.30 L111.93,107.90 Q112.37,108.90 112.37,110.30 L112.37,116.90 Q112.37,119.30 110.77,119.30 L108.15,119.30 Q106.55,119.30 106.55,116.90 L106.55,110.30 Q106.55,108.90 106.99,107.90 Z" fill="url(#go)"/>
<line x1="109.46" y1="119.10" x2="109.46" y2="121.10" stroke="#777" stroke-width="0.6"/>
<ellipse cx="110.56" cy="115.53" rx="0.86" ry="0.86" fill="#e8f4d8" opacity="0.33"/>
<ellipse cx="108.99" cy="115.62" rx="0.55" ry="0.76" fill="#e8f4d8" opacity="0.44"/>
<ellipse cx="108.60" cy="108.45" rx="0.52" ry="1.04" fill="#e8f4d8" opacity="0.33"/>
<ellipse cx="111.09" cy="116.63" rx="1.09" ry="0.81" fill="#e8f4d8" opacity="0.27"/>
<ellipse cx="109.46" cy="113.90" rx="1.50" ry="0.72" fill="#ec8a2c" opacity="0.95"/>
<path d="M91.78,121.50 Q93.30,121.00 94.82,121.50 L96.54,125.10 Q97.11,126.10 97.11,127.50 L97.11,134.90 Q97.11,137.30 95.01,137.30 L91.59,137.30 Q89.49,137.30 89.49,134.90 L89.49,127.50 Q89.49,126.10 90.06,125.10 Z" fill="#f0b070" opacity="0.4"/>
<path d="M92.14,121.80 Q93.30,121.30 94.46,121.80 L95.77,125.40 Q96.21,126.40 96.21,127.80 L96.21,134.40 Q96.21,136.80 94.61,136.80 L91.99,136.80 Q90.39,136.80 90.39,134.40 L90.39,127.80 Q90.39,126.40 90.83,125.40 Z" fill="url(#gp)"/>
<line x1="93.30" y1="136.60" x2="93.30" y2="138.60" stroke="#777" stroke-width="0.6"/>
<ellipse cx="91.93" cy="130.28" rx="0.93" ry="0.96" fill="#909090" opacity="0.31"/>
<ellipse cx="93.02" cy="131.50" rx="0.90" ry="1.20" fill="#909090" opacity="0.46"/>
<ellipse cx="93.86" cy="126.51" rx="1.00" ry="0.84" fill="#909090" opacity="0.39"/>
<ellipse cx="92.87" cy="132.68" rx="0.62" ry="0.80" fill="#909090" opacity="0.31"/>
<ellipse cx="93.30" cy="132.00" rx="2.60" ry="1.60" fill="#ec8a2c" opacity="0.95"/>
<ellipse cx="92.70" cy="132.90" rx="0.90" ry="0.81" fill="#d84a20" opacity="0.9"/>
<path d="M107.94,121.50 Q109.46,121.00 110.98,121.50 L112.70,125.10 Q113.27,126.10 113.27,127.50 L113.27,134.90 Q113.27,137.30 111.17,137.30 L107.75,137.30 Q105.65,137.30 105.65,134.90 L105.65,127.50 Q105.65,126.10 106.22,125.10 Z" fill="#f0b070" opacity="0.4"/>
<path d="M108.30,121.80 Q109.46,121.30 110.62,121.80 L111.93,125.40 Q112.37,126.40 112.37,127.80 L112.37,134.40 Q112.37,136.80 110.77,136.80 L108.15,136.80 Q106.55,136.80 106.55,134.40 L106.55,127.80 Q106.55,126.40 106.99,125.40 Z" fill="url(#gp)"/>
<line x1="109.46" y1="136.60" x2="109.46" y2="138.60" stroke="#777" stroke-width="0.6"/>
<ellipse cx="108.28" cy="134.14" rx="0.85" ry="0.86" fill="#909090" opacity="0.35"/>
<ellipse cx="111.13" cy="130.37" rx="0.64" ry="1.25" fill="#909090" opacity="0.41"/>
<ellipse cx="111.13" cy="126.32" rx="0.78" ry="1.26" fill="#909090" opacity="0.46"/>
<ellipse cx="110.87" cy="125.70" rx="0.68" ry="0.70" fill="#909090" opacity="0.30"/>
<ellipse cx="109.46" cy="132.00" rx="2.60" ry="1.60" fill="#ec8a2c" opacity="0.95"/>
<ellipse cx="108.86" cy="132.90" rx="0.90" ry="0.81" fill="#d84a20" opacity="0.9"/>
<rect x="119.9" y="50.8" width="41.60" height="178.80" fill="#000"/>
<path d="M122.86,51.80 Q124.06,51.30 125.26,51.80 L126.61,55.40 Q127.06,56.40 127.06,57.80 L127.06,64.40 Q127.06,66.80 125.41,66.80 L122.71,66.80 Q121.06,66.80 121.06,64.40 L121.06,57.80 Q121.06,56.40 121.51,55.40 Z" fill="url(#gw)"/>
<line x1="124.06" y1="66.60" x2="124.06" y2="68.60" stroke="#777" stroke-width="0.6"/>
<ellipse cx="125.67" cy="61.13" rx="1.06" ry="0.90" fill="#909090" opacity="0.47"/>
<ellipse cx="123.89" cy="57.90" rx="0.97" ry="1.36" fill="#909090" opacity="0.28"/>
<ellipse cx="124.39" cy="61.50" rx="0.63" ry="0.89" fill="#909090" opacity="0.29"/>
<ellipse cx="123.05" cy="57.85" rx="0.86" ry="1.12" fill="#909090" opacity="0.30"/>
<path d="M131.18,51.80 Q132.38,51.30 133.58,51.80 L134.93,55.40 Q135.38,56.40 135.38,57.80 L135.38,64.40 Q135.38,66.80 133.73,66.80 L131.03,66.80 Q129.38,66.80 129.38,64.40 L129.38,57.80 Q129.38,56.40 129.83,55.40 Z" fill="url(#gw)"/>
<line x1="132.38" y1="66.60" x2="132.38" y2="68.60" stroke="#777" stroke-width="0.6"/>
<ellipse cx="130.72" cy="58.57" rx="0.91" ry="0.75" fill="#909090" opacity="0.33"/>
<ellipse cx="131.37" cy="63.25" rx="0.83" ry="0.65" fill="#909090" opacity="0.28"/>
<ellipse cx="132.02" cy="60.80" rx="0.88" ry="0.67" fill="#909090" opacity="0.29"/>
<ellipse cx="133.04" cy="59.40" rx="0.67" ry="0.85" fill="#909090" opacity="0.49"/>
<path d="M139.50,51.80 Q140.70,51.30 141.90,51.80 L143.25,55.40 Q143.70,56.40 143.70,57.80 L143.70,64.40 Q143.70,66.80 142.05,66.80 L139.35,66.80 Q137.70,66.80 137.70,64.40 L137.70,57.80 Q137.70,56.40 138.15,55.40 Z" fill="url(#gw)"/>
<line x1="140.70" y1="66.60" x2="140.70" y2="68.60" stroke="#777" stroke-width="0.6"/>
<ellipse cx="140.06" cy="60.97" rx="0.71" ry="0.93" fill="#909090" opacity="0.47"/>
<ellipse cx="142.39" cy="58.94" rx="0.62" ry="1.18" fill="#909090" opacity="0.30"/>
<ellipse cx="139.02" cy="64.32" rx="0.75" ry="1.26" fill="#909090" opacity="0.35"/>
<ellipse cx="142.00" cy="59.91" rx="0.60" ry="0.61" fill="#909090" opacity="0.39"/>
<path d="M147.82,51.80 Q149.02,51.30 150.22,51.80 L151.57,55.40 Q152.02,56.40 152.02,57.80 L152.02,64.40 Q152.02,66.80 150.37,66.80 L147.67,66.80 Q146.02,66.80 146.02,64.40 L146.02,57.80 Q146.02,56.40 146.47,55.40 Z" fill="url(#gw)"/>
<line x1="149.02" y1="66.60" x2="149.02" y2="68.60" stroke="#777" stroke-width="0.6"/>
<ellipse cx="149.50" cy="64.40" rx="0.55" ry="1.10" fill="#909090" opacity="0.34"/>
<ellipse cx="149.04" cy="56.76" rx="0.67" ry="1.02" fill="#909090" opacity="0.48"/>
<ellipse cx="147.69" cy="60.21" rx="0.98" ry="1.37" fill="#909090" opacity="0.30"/>
<ellipse cx="147.75" cy="64.73" rx="1.09" ry="0.99" fill="#909090" opacity="0.26"/>
<path d="M156.14,51.80 Q157.34,51.30 158.54,51.80 L159.89,55.40 Q160.34,56.40 160.34,57.80 L160.34,64.40 Q160.34,66.80 158.69,66.80 L155.99,66.80 Q154.34,66.80 154.34,64.40 L154.34,57.80 Q154.34,56.40 154.79,55.40 Z" fill="url(#gw)"/>
<line x1="157.34" y1="66.60" x2="157.34" y2="68.60" stroke="#777" stroke-width="0.6"/>
<ellipse cx="158.79" cy="59.18" rx="1.04" ry="1.10" fill="#909090" opacity="0.46"/>
<ellipse cx="156.18" cy="63.16" rx="0.63" ry="0.92" fill="#909090" opacity="0.46"/>
<ellipse cx="158.46" cy="57.13" rx="0.63" ry="0.92" fill="#909090" opacity="0.38"/>
<ellipse cx="156.94" cy="56.53" rx="0.65" ry="1.18" fill="#909090" opacity="0.47"/>
<path d="M122.86,69.30 Q124.06,68.80 125.26,69.30 L126.61,72.90 Q127.06,73.90 127.06,75.30 L127.06,81.90 Q127.06,84.30 125.41,84.30 L122.71,84.30 Q121.06,84.30 121.06,81.90 L121.06,75.30 Q121.06,73.90 121.51,72.90 Z" fill="url(#gw)"/>
<line x1="124.06" y1="84.10" x2="124.06" y2="86.10" stroke="#777" stroke-width="0.6"/>
<ellipse cx="122.50" cy="78.42" rx="0.95" ry="0.63" fill="#909090" opacity="0.46"/>
<ellipse cx="122.76" cy="78.80" rx="0.83" ry="1.10" fill="#909090" opacity="0.33"/>
<ellipse cx="123.79" cy="78.63" rx="0.76" ry="1.13" fill="#909090" opacity="0.36"/>
<ellipse cx="123.85" cy="73.03" rx="0.87" ry="0.99" fill="#909090" opacity="0.31"/>
<path d="M131.18,69.30 Q132.38,68.80 133.58,69.30 L134.93,72.90 Q135.38,73.90 135.38,75.30 L135.38,81.90 Q135.38,84.30 133.73,84.30 L131.03,84.30 Q129.38,84.30 129.38,81.90 L129.38,75.30 Q129.38,73.90 129.83,72.90 Z" fill="url(#gw)"/>
<line x1="132.38" y1="84.10" x2="132.38" y2="86.10" stroke="#777" stroke-width="0.6"/>
<ellipse cx="133.28" cy="80.60" rx="0.77" ry="0.74" fill="#909090" opacity="0.37"/>
<ellipse cx="131.04" cy="74.08" rx="0.76" ry="0.67" fill="#909090" opacity="0.36"/>
<ellipse cx="132.41" cy="73.21" rx="0.88" ry="0.67" fill="#909090" opacity="0.43"/>
<ellipse cx="133.32" cy="77.91" rx="0.53" ry="1.00" fill="#909090" opacity="0.34"/>
<path d="M139.50,69.30 Q140.70,68.80 141.90,69.30 L143.25,72.90 Q143.70,73.90 143.70,75.30 L143.70,81.90 Q143.70,84.30 142.05,84.30 L139.35,84.30 Q137.70,84.30 137.70,81.90 L137.70,75.30 Q137.70,73.90 138.15,72.90 Z" fill="url(#gw)"/>
<line x1="140.70" y1="84.10" x2="140.70" y2="86.10" stroke="#777" stroke-width="0.6"/>
<ellipse cx="142.23" cy="74.16" rx="1.01" ry="1.40" fill="#909090" opacity="0.43"/>
<ellipse cx="141.77" cy="74.74" rx="1.09" ry="0.99" fill="#909090" opacity="0.49"/>
<ellipse cx="142.11" cy="74.45" rx="0.97" ry="1.34" fill="#909090" opacity="0.27"/>
<ellipse cx="140.19" cy="80.36" rx="0.60" ry="1.32" fill="#909090" opacity="0.32"/>
<path d="M147.82,69.30 Q149.02,68.80 150.22,69.30 L151.57,72.90 Q152.02,73.90 152.02,75.30 L152.02,81.90 Q152.02,84.30 150.37,84.30 L147.67,84.30 Q146.02,84.30 146.02,81.90 L146.02,75.30 Q146.02,73.90 146.47,72.90 Z" fill="url(#gw)"/>
<line x1="149.02" y1="84.10" x2="149.02" y2="86.10" stroke="#777" stroke-width="0.6"/>
<ellipse cx="150.09" cy="74.24" rx="0.80" ry="1.34" fill="#909090" opacity="0.30"/>
<ellipse cx="148.21" cy="77.86" rx="0.69" ry="0.63" fill="#909090" opacity="0.30"/>
<ellipse cx="147.87" cy="82.16" rx="0.91" ry="1.32" fill="#909090" opacity="0.29"/>
<ellipse cx="149.99" cy="73.95" rx="0.82" ry="1.11" fill="#909090" opacity="0.34"/>
<path d="M156.14,69.30 Q157.34,68.80 158.54,69.30 L159.89,72.90 Q160.34,73.90 160.34,75.30 L160.34,81.90 Q160.34,84.30 158.69,84.30 L155.99,84.30 Q154.34,84.30 154.34,81.90 L154.34,75.30 Q154.34,73.90 154.79,72.90 Z" fill="url(#gw)"/>
<line x1="157.34" y1="84.10" x2="157.34" y2="86.10" stroke="#777" stroke-width="0.6"/>
<ellipse cx="158.61" cy="78.35" rx="0.85" ry="1.31" fill="#909090" opacity="0.28"/>
<ellipse cx="159.02" cy="79.10" rx="0.74" ry="1.24" fill="#909090" opacity="0.32"/>
<ellipse cx="159.01" cy="78.57" rx="0.72" ry="1.21" fill="#909090" opacity="0.36"/>
<ellipse cx="156.24" cy="80.24" rx="0.53" ry="1.26" fill="#909090" opacity="0.31"/>
<path d="M122.86,86.80 Q124.06,86.30 125.26,86.80 L126.61,90.40 Q127.06,91.40 127.06,92.80 L127.06,99.40 Q127.06,101.80 125.41,101.80 L122.71,101.80 Q121.06,101.80 121.06,99.40 L121.06,92.80 Q121.06,91.40 121.51,90.40 Z" fill="url(#gw)"/>
<line x1="124.06" y1="101.60" x2="124.06" y2="103.60" stroke="#777" stroke-width="0.6"/>
<ellipse cx="124.53" cy="100.14" rx="0.85" ry="1.13" fill="#909090" opacity="0.33"/>
<ellipse cx="122.37" cy="90.64" rx="0.59" ry="1.09" fill="#909090" opacity="0.36"/>
<ellipse cx="124.10" cy="99.26" rx="0.58" ry="0.78" fill="#909090" opacity="0.41"/>
<ellipse cx="122.44" cy="90.33" rx="0.71" ry="0.69" fill="#909090" opacity="0.34"/>
<path d="M131.18,86.80 Q132.38,86.30 133.58,86.80 L134.93,90.40 Q135.38,91.40 135.38,92.80 L135.38,99.40 Q135.38,101.80 133.73,101.80 L131.03,101.80 Q129.38,101.80 129.38,99.40 L129.38,92.80 Q129.38,91.40 129.83,90.40 Z" fill="url(#gw)"/>
<line x1="132.38" y1="101.60" x2="132.38" y2="103.60" stroke="#777" stroke-width="0.6"/>
<ellipse cx="131.44" cy="96.14" rx="0.85" ry="0.76" fill="#909090" opacity="0.41"/>
<ellipse cx="132.29" cy="91.65" rx="1.06" ry="0.79" fill="#909090" opacity="0.29"/>
<ellipse cx="131.01" cy="96.68" rx="1.02" ry="1.23" fill="#909090" opacity="0.35"/>
<ellipse cx="131.58" cy="90.41" rx="0.89" ry="1.05" fill="#909090" opacity="0.34"/>
<path d="M139.50,86.80 Q140.70,86.30 141.90,86.80 L143.25,90.40 Q143.70,91.40 143.70,92.80 L143.70,99.40 Q143.70,101.80 142.05,101.80 L139.35,101.80 Q137.70,101.80 137.70,99.40 L137.70,92.80 Q137.70,91.40 138.15,90.40 Z" fill="url(#gw)"/>
<line x1="140.70" y1="101.60" x2="140.70" y2="103.60" stroke="#777" stroke-width="0.6"/>
<ellipse cx="141.20" cy="94.74" rx="1.06" ry="1.19" fill="#909090" opacity="0.31"/>
<ellipse cx="142.07" cy="90.74" rx="0.82" ry="0.92" fill="#909090" opacity="0.31"/>
<ellipse cx="139.20" cy="98.09" rx="0.51" ry="1.04" fill="#909090" opacity="0.49"/>
<ellipse cx="139.48" cy="92.30" rx="0.86" ry="1.01" fill="#909090" opacity="0.41"/>
<path d="M147.82,86.80 Q149.02,86.30 150.22,86.80 L151.57,90.40 Q152.02,91.40 152.02,92.80 L152.02,99.40 Q152.02,101.80 150.37,101.80 L147.67,101.80 Q146.02,101.80 146.02,99.40 L146.02,92.80 Q146.02,91.40 146.47,90.40 Z" fill="url(#gw)"/>
<line x1="149.02" y1="101.60" x2="149.02" y2="103.60" stroke="#777" stroke-width="0.6"/>
<ellipse cx="150.09" cy="92.05" rx="0.69" ry="0.84" fill="#909090" opacity="0.26"/>
<ellipse cx="150.34" cy="98.13" rx="0.93" ry="0.61" fill="#909090" opacity="0.46"/>
<ellipse cx="149.85" cy="94.95" rx="0.95" ry="0.96" fill="#909090" opacity="0.31"/>
<ellipse cx="147.68" cy="92.62" rx="0.52" ry="0.87" fill="#909090" opacity="0.44"/>
<path d="M156.14,86.80 Q157.34,86.30 158.54,86.80 L159.89,90.40 Q160.34,91.40 160.34,92.80 L160.34,99.40 Q160.34,101.80 158.69,101.80 L155.99,101.80 Q154.34,101.80 154.34,99.40 L154.34,92.80 Q154.34,91.40 154.79,90.40 Z" fill="url(#gw)"/>
<line x1="157.34" y1="101.60" x2="157.34" y2="103.60" stroke="#777" stroke-width="0.6"/>
<ellipse cx="158.00" cy="98.75" rx="0.93" ry="0.81" fill="#909090" opacity="0.39"/>
<ellipse cx="157.12" cy="98.18" rx="0.81" ry="0.81" fill="#909090" opacity="0.41"/>
<ellipse cx="158.92" cy="92.47" rx="1.03" ry="0.61" fill="#909090" opacity="0.32"/>
<ellipse cx="156.44" cy="97.74" rx="1.07" ry="1.20" fill="#909090" opacity="0.33"/>
<path d="M122.86,104.30 Q124.06,103.80 125.26,104.30 L126.61,107.90 Q127.06,108.90 127.06,110.30 L127.06,116.90 Q127.06,119.30 125.41,119.30 L122.71,119.30 Q121.06,119.30 121.06,116.90 L121.06,110.30 Q121.06,108.90 121.51,107.90 Z" fill="url(#gw)"/>
<line x1="124.06" y1="119.10" x2="124.06" y2="121.10" stroke="#777" stroke-width="0.6"/>
<ellipse cx="125.35" cy="111.09" rx="0.64" ry="1.33" fill="#909090" opacity="0.41"/>
<ellipse cx="124.72" cy="114.45" rx="1.09" ry="0.98" fill="#909090" opacity="0.46"/>
<ellipse cx="124.73" cy="116.38" rx="0.76" ry="1.18" fill="#909090" opacity="0.39"/>
<ellipse cx="123.41" cy="109.92" rx="0.87" ry="0.66" fill="#909090" opacity="0.48"/>
<path d="M131.18,104.30 Q132.38,103.80 133.58,104.30 L134.93,107.90 Q135.38,108.90 135.38,110.30 L135.38,116.90 Q135.38,119.30 133.73,119.30 L131.03,119.30 Q129.38,119.30 129.38,116.90 L129.38,110.30 Q129.38,108.90 129.83,107.90 Z" fill="url(#gw)"/>
<line x1="132.38" y1="119.10" x2="132.38" y2="121.10" stroke="#777" stroke-width="0.6"/>
<ellipse cx="131.17" cy="108.07" rx="0.56" ry="1.34" fill="#909090" opacity="0.34"/>
<ellipse cx="131.16" cy="108.09" rx="0.52" ry="1.15" fill="#909090" opacity="0.41"/>
<ellipse cx="133.05" cy="115.17" rx="0.54" ry="1.07" fill="#909090" opacity="0.34"/>
<ellipse cx="133.46" cy="116.00" rx="1.03" ry="0.65" fill="#909090" opacity="0.47"/>
<path d="M139.50,104.30 Q140.70,103.80 141.90,104.30 L143.25,107.90 Q143.70,108.90 143.70,110.30 L143.70,116.90 Q143.70,119.30 142.05,119.30 L139.35,119.30 Q137.70,119.30 137.70,116.90 L137.70,110.30 Q137.70,108.90 138.15,107.90 Z" fill="url(#gk)"/>
<line x1="140.70" y1="119.10" x2="140.70" y2="121.10" stroke="#777" stroke-width="0.6"/>
<ellipse cx="142.11" cy="117.24" rx="0.56" ry="0.76" fill="#909090" opacity="0.28"/>
<ellipse cx="139.12" cy="116.28" rx="0.99" ry="1.11" fill="#909090" opacity="0.46"/>
<ellipse cx="141.15" cy="110.67" rx="0.56" ry="0.68" fill="#909090" opacity="0.44"/>
<ellipse cx="139.70" cy="110.99" rx="0.75" ry="0.62" fill="#909090" opacity="0.31"/>
<path d="M147.82,104.30 Q149.02,103.80 150.22,104.30 L151.57,107.90 Q152.02,108.90 152.02,110.30 L152.02,116.90 Q152.02,119.30 150.37,119.30 L147.67,119.30 Q146.02,119.30 146.02,116.90 L146.02,110.30 Q146.02,108.90 146.47,107.90 Z" fill="url(#gw)"/>
<line x1="149.02" y1="119.10" x2="149.02" y2="121.10" stroke="#777" stroke-width="0.6"/>
<ellipse cx="148.28" cy="114.96" rx="0.72" ry="0.86" fill="#909090" opacity="0.49"/>
<ellipse cx="149.03" cy="116.31" rx="0.87" ry="0.62" fill="#909090" opacity="0.35"/>
<ellipse cx="148.80" cy="115.53" rx="0.71" ry="1.16" fill="#909090" opacity="0.38"/>
<ellipse cx="148.06" cy="116.42" rx="0.55" ry="1.26" fill="#909090" opacity="0.29"/>
<path d="M156.14,104.30 Q157.34,103.80 158.54,104.30 L159.89,107.90 Q160.34,108.90 160.34,110.30 L160.34,116.90 Q160.34,119.30 158.69,119.30 L155.99,119.30 Q154.34,119.30 154.34,116.90 L154.34,110.30 Q154.34,108.90 154.79,107.90 Z" fill="url(#gk)"/>
<line x1="157.34" y1="119.10" x2="157.34" y2="121.10" stroke="#777" stroke-width="0.6"/>
<ellipse cx="155.64" cy="109.82" rx="0.96" ry="1.38" fill="#909090" opacity="0.25"/>
<ellipse cx="157.31" cy="112.71" rx="0.98" ry="0.75" fill="#909090" opacity="0.37"/>
<ellipse cx="156.82" cy="116.12" rx="0.66" ry="1.36" fill="#909090" opacity="0.32"/>
<ellipse cx="156.37" cy="114.79" rx="0.80" ry="0.69" fill="#909090" opacity="0.41"/>
<path d="M122.86,121.80 Q124.06,121.30 125.26,121.80 L126.61,125.40 Q127.06,126.40 127.06,127.80 L127.06,134.40 Q127.06,136.80 125.41,136.80 L122.71,136.80 Q121.06,136.80 121.06,134.40 L121.06,127.80 Q121.06,126.40 121.51,125.40 Z" fill="url(#gw)"/>
<line x1="124.06" y1="136.60" x2="124.06" y2="138.60" stroke="#777" stroke-width="0.6"/>
<ellipse cx="122.64" cy="133.18" rx="0.92" ry="1.23" fill="#909090" opacity="0.41"/>
<ellipse cx="123.57" cy="129.31" rx="0.74" ry="1.31" fill="#909090" opacity="0.27"/>
<ellipse cx="125.38" cy="125.55" rx="0.62" ry="0.81" fill="#909090" opacity="0.48"/>
<ellipse cx="124.06" cy="129.09" rx="1.03" ry="0.79" fill="#909090" opacity="0.37"/>
<path d="M131.18,121.80 Q132.38,121.30 133.58,121.80 L134.93,125.40 Q135.38,126.40 135.38,127.80 L135.38,134.40 Q135.38,136.80 133.73,136.80 L131.03,136.80 Q129.38,136.80 129.38,134.40 L129.38,127.80 Q129.38,126.40 129.83,125.40 Z" fill="url(#gw)"/>
<line x1="132.38" y1="136.60" x2="132.38" y2="138.60" stroke="#777" stroke-width="0.6"/>
<ellipse cx="132.49" cy="132.84" rx="0.95" ry="1.12" fill="#909090" opacity="0.34"/>
<ellipse cx="131.79" cy="126.85" rx="1.01" ry="1.13" fill="#909090" opacity="0.44"/>
<ellipse cx="131.26" cy="129.69" rx="0.96" ry="1.06" fill="#909090" opacity="0.28"/>
<ellipse cx="132.25" cy="134.15" rx="0.64" ry="0.75" fill="#909090" opacity="0.33"/>
<path d="M139.50,121.80 Q140.70,121.30 141.90,121.80 L143.25,125.40 Q143.70,126.40 143.70,127.80 L143.70,134.40 Q143.70,136.80 142.05,136.80 L139.35,136.80 Q137.70,136.80 137.70,134.40 L137.70,127.80 Q137.70,126.40 138.15,125.40 Z" fill="url(#gw)"/>
<line x1="140.70" y1="136.60" x2="140.70" y2="138.60" stroke="#777" stroke-width="0.6"/>
<ellipse cx="141.39" cy="133.74" rx="0.59" ry="0.72" fill="#909090" opacity="0.31"/>
<ellipse cx="140.11" cy="130.52" rx="0.60" ry="0.86" fill="#909090" opacity="0.30"/>
<ellipse cx="142.32" cy="132.59" rx="0.56" ry="1.37" fill="#909090" opacity="0.28"/>
<ellipse cx="140.31" cy="135.14" rx="0.98" ry="1.19" fill="#909090" opacity="0.36"/>
<path d="M147.82,121.80 Q149.02,121.30 150.22,121.80 L151.57,125.40 Q152.02,126.40 152.02,127.80 L152.02,134.40 Q152.02,136.80 150.37,136.80 L147.67,136.80 Q146.02,136.80 146.02,134.40 L146.02,127.80 Q146.02,126.40 146.47,125.40 Z" fill="url(#gw)"/>
<line x1="149.02" y1="136.60" x2="149.02" y2="138.60" stroke="#777" stroke-width="0.6"/>
<ellipse cx="147.99" cy="131.68" rx="0.56" ry="0.77" fill="#909090" opacity="0.35"/>
<ellipse cx="147.44" cy="129.29" rx="0.97" ry="1.15" fill="#909090" opacity="0.38"/>
<ellipse cx="149.47" cy="129.93" rx="0.59" ry="1.08" fill="#909090" opacity="0.35"/>
<ellipse cx="149.84" cy="134.38" rx="0.76" ry="1.06" fill="#909090" opacity="0.44"/>
<path d="M156.14,121.80 Q157.34,121.30 158.54,121.80 L159.89,125.40 Q160.34,126.40 160.34,127.80 L160.34,134.40 Q160.34,136.80 158.69,136.80 L155.99,136.80 Q154.34,136.80 154.34,134.40 L154.34,127.80 Q154.34,126.40 154.79,125.40 Z" fill="url(#gw)"/>
<line x1="157.34" y1="136.60" x2="157.34" y2="138.60" stroke="#777" stroke-width="0.6"/>
<ellipse cx="157.07" cy="127.59" rx="0.93" ry="1.30" fill="#909090" opacity="0.44"/>
<ellipse cx="158.02" cy="133.82" rx="0.91" ry="1.11" fill="#909090" opacity="0.36"/>
<ellipse cx="156.70" cy="131.58" rx="0.56" ry="0.94" fill="#909090" opacity="0.45"/>
<ellipse cx="158.06" cy="131.60" rx="0.65" ry="0.94" fill="#909090" opacity="0.36"/>
<path d="M122.86,139.30 Q124.06,138.80 125.26,139.30 L126.61,142.90 Q127.06,143.90 127.06,145.30 L127.06,151.90 Q127.06,154.30 125.41,154.30 L122.71,154.30 Q121.06,154.30 121.06,151.90 L121.06,145.30 Q121.06,143.90 121.51,142.90 Z" fill="url(#gk)"/>
<line x1="124.06" y1="154.10" x2="124.06" y2="156.10" stroke="#777" stroke-width="0.6"/>
<ellipse cx="124.47" cy="146.89" rx="0.91" ry="1.34" fill="#909090" opacity="0.30"/>
<ellipse cx="124.59" cy="150.58" rx="0.73" ry="0.99" fill="#909090" opacity="0.49"/>
<ellipse cx="122.49" cy="148.23" rx="0.60" ry="1.23" fill="#909090" opacity="0.49"/>
<ellipse cx="124.13" cy="143.81" rx="0.84" ry="1.03" fill="#909090" opacity="0.43"/>
<path d="M131.18,139.30 Q132.38,138.80 133.58,139.30 L134.93,142.90 Q135.38,143.90 135.38,145.30 L135.38,151.90 Q135.38,154.30 133.73,154.30 L131.03,154.30 Q129.38,154.30 129.38,151.90 L129.38,145.30 Q129.38,143.90 129.83,142.90 Z" fill="url(#gw)"/>
<line x1="132.38" y1="154.10" x2="132.38" y2="156.10" stroke="#777" stroke-width="0.6"/>
<ellipse cx="132.42" cy="149.19" rx="1.00" ry="1.02" fill="#909090" opacity="0.35"/>
<ellipse cx="133.90" cy="144.90" rx="0.91" ry="0.91" fill="#909090" opacity="0.44"/>
<ellipse cx="131.10" cy="152.64" rx="0.71" ry="0.65" fill="#909090" opacity="0.32"/>
<ellipse cx="132.04" cy="142.93" rx="0.75" ry="0.94" fill="#909090" opacity="0.42"/>
<path d="M139.50,139.30 Q140.70,138.80 141.90,139.30 L143.25,142.90 Q143.70,143.90 143.70,145.30 L143.70,151.90 Q143.70,154.30 142.05,154.30 L139.35,154.30 Q137.70,154.30 137.70,151.90 L137.70,145.30 Q137.70,143.90 138.15,142.90 Z" fill="url(#gq)"/>
<line x1="140.70" y1="154.10" x2="140.70" y2="156.10" stroke="#777" stroke-width="0.6"/>
<ellipse cx="140.20" cy="145.45" rx="0.63" ry="1.19" fill="#909090" opacity="0.48"/>
<ellipse cx="140.79" cy="144.99" rx="0.98" ry="0.91" fill="#909090" opacity="0.30"/>
<ellipse cx="139.44" cy="150.57" rx="0.99" ry="1.11" fill="#909090" opacity="0.37"/>
<ellipse cx="140.91" cy="145.06" rx="1.08" ry="0.88" fill="#909090" opacity="0.41"/>
<ellipse cx="140.70" cy="151.90" rx="1.80" ry="0.96" fill="#ec8a2c" opacity="0.95"/>
<path d="M147.82,139.30 Q149.02,138.80 150.22,139.30 L151.57,142.90 Q152.02,143.90 152.02,145.30 L152.02,151.90 Q152.02,154.30 150.37,154.30 L147.67,154.30 Q146.02,154.30 146.02,151.90 L146.02,145.30 Q146.02,143.90 146.47,142.90 Z" fill="url(#gw)"/>
<line x1="149.02" y1="154.10" x2="149.02" y2="156.10" stroke="#777" stroke-width="0.6"/>
<ellipse cx="150.10" cy="150.96" rx="0.78" ry="0.84" fill="#909090" opacity="0.39"/>
<ellipse cx="147.75" cy="151.14" rx="0.71" ry="1.28" fill="#909090" opacity="0.32"/>
<ellipse cx="148.60" cy="145.34" rx="0.76" ry="0.75" fill="#909090" opacity="0.25"/>
<ellipse cx="149.77" cy="145.61" rx="0.65" ry="0.84" fill="#909090" opacity="0.37"/>
<ellipse cx="149.02" cy="140.95" rx="2.20" ry="1.28" fill="#ec8a2c" opacity="0.95"/>
<path d="M156.14,139.30 Q157.34,138.80 158.54,139.30 L159.89,142.90 Q160.34,143.90 160.34,145.30 L160.34,151.90 Q160.34,154.30 158.69,154.30 L155.99,154.30 Q154.34,154.30 154.34,151.90 L154.34,145.30 Q154.34,143.90 154.79,142.90 Z" fill="url(#gk)"/>
<line x1="157.34" y1="154.10" x2="157.34" y2="156.10" stroke="#777" stroke-width="0.6"/>
<ellipse cx="157.10" cy="149.17" rx="0.90" ry="0.89" fill="#909090" opacity="0.48"/>
<ellipse cx="158.55" cy="143.37" rx="1.00" ry="1.32" fill="#909090" opacity="0.45"/>
<ellipse cx="156.12" cy="151.11" rx="0.88" ry="0.61" fill="#909090" opacity="0.25"/>
<ellipse cx="158.88" cy="149.36" rx="0.65" ry="0.68" fill="#909090" opacity="0.29"/>
<path d="M122.86,156.80 Q124.06,156.30 125.26,156.80 L126.61,160.40 Q127.06,161.40 127.06,162.80 L127.06,169.40 Q127.06,171.80 125.41,171.80 L122.71,171.80 Q121.06,171.80 121.06,169.40 L121.06,162.80 Q121.06,161.40 121.51,160.40 Z" fill="url(#gw)"/>
<line x1="124.06" y1="171.60" x2="124.06" y2="173.60" stroke="#777" stroke-width="0.6"/>
<ellipse cx="123.15" cy="168.06" rx="0.71" ry="0.72" fill="#909090" opacity="0.48"/>
<ellipse cx="125.05" cy="161.98" rx="1.03" ry="1.09" fill="#909090" opacity="0.45"/>
<ellipse cx="124.63" cy="169.24" rx="0.97" ry="1.27" fill="#909090" opacity="0.30"/>
<ellipse cx="124.72" cy="165.61" rx="0.95" ry="0.95" fill="#909090" opacity="0.47"/>
<ellipse cx="124.06" cy="169.40" rx="2.70" ry="2.90" fill="#58d050" opacity="0.75"/>
<ellipse cx="124.06" cy="169.40" rx="2.20" ry="2.20" fill="#f0a030"/>
<ellipse cx="124.06" cy="169.40" rx="1.70" ry="1.70" fill="#e8321c"/>
<path d="M131.18,156.80 Q132.38,156.30 133.58,156.80 L134.93,160.40 Q135.38,161.40 135.38,162.80 L135.38,169.40 Q135.38,171.80 133.73,171.80 L131.03,171.80 Q129.38,171.80 129.38,169.40 L129.38,162.80 Q129.38,161.40 129.83,160.40 Z" fill="url(#gn)"/>
<line x1="132.38" y1="171.60" x2="132.38" y2="173.60" stroke="#777" stroke-width="0.6"/>
<ellipse cx="132.57" cy="162.94" rx="0.64" ry="0.71" fill="#909090" opacity="0.37"/>
<ellipse cx="130.88" cy="164.97" rx="0.59" ry="0.99" fill="#909090" opacity="0.37"/>
<ellipse cx="132.51" cy="168.93" rx="0.50" ry="1.27" fill="#909090" opacity="0.37"/>
<ellipse cx="132.59" cy="166.95" rx="1.00" ry="0.90" fill="#909090" opacity="0.35"/>
<path d="M139.50,156.80 Q140.70,156.30 141.90,156.80 L143.25,160.40 Q143.70,161.40 143.70,162.80 L143.70,169.40 Q143.70,171.80 142.05,171.80 L139.35,171.80 Q137.70,171.80 137.70,169.40 L137.70,162.80 Q137.70,161.40 138.15,160.40 Z" fill="url(#gw)"/>
<line x1="140.70" y1="171.60" x2="140.70" y2="173.60" stroke="#777" stroke-width="0.6"/>
<ellipse cx="142.27" cy="161.05" rx="0.88" ry="1.11" fill="#909090" opacity="0.26"/>
<ellipse cx="141.07" cy="167.13" rx="1.06" ry="0.86" fill="#909090" opacity="0.50"/>
<ellipse cx="140.74" cy="165.15" rx="1.04" ry="0.63" fill="#909090" opacity="0.43"/>
<ellipse cx="141.13" cy="163.69" rx="1.02" ry="0.89" fill="#909090" opacity="0.37"/>
<ellipse cx="140.70" cy="169.40" rx="2.70" ry="2.90" fill="#58d050" opacity="0.75"/>
<ellipse cx="140.70" cy="169.40" rx="2.20" ry="2.20" fill="#f0a030"/>
<ellipse cx="140.70" cy="169.40" rx="1.70" ry="1.70" fill="#e8321c"/>
<path d="M147.82,156.80 Q149.02,156.30 150.22,156.80 L151.57,160.40 Q152.02,161.40 152.02,162.80 L152.02,169.40 Q152.02,171.80 150.37,171.80 L147.67,171.80 Q146.02,171.80 146.02,169.40 L146.02,162.80 Q146.02,161.40 146.47,160.40 Z" fill="url(#gq)"/>
<line x1="149.02" y1="171.60" x2="149.02" y2="173.60" stroke="#777" stroke-width="0.6"/>
<ellipse cx="149.11" cy="168.01" rx="0.63" ry="0.95" fill="#909090" opacity="0.36"/>
<ellipse cx="149.20" cy="168.57" rx="0.68" ry="1.26" fill="#909090" opacity="0.35"/>
<ellipse cx="149.03" cy="163.02" rx="0.80" ry="1.38" fill="#909090" opacity="0.41"/>
<ellipse cx="150.01" cy="163.61" rx="0.69" ry="0.84" fill="#909090" opacity="0.40"/>
<ellipse cx="149.02" cy="160.85" rx="2.90" ry="3.10" fill="#58d050" opacity="0.75"/>
<ellipse cx="149.02" cy="160.85" rx="2.40" ry="2.40" fill="#f0a030"/>
<ellipse cx="149.02" cy="160.85" rx="1.90" ry="1.90" fill="#e8321c"/>
<path d="M156.14,156.80 Q157.34,156.30 158.54,156.80 L159.89,160.40 Q160.34,161.40 160.34,162.80 L160.34,169.40 Q160.34,171.80 158.69,171.80 L155.99,171.80 Q154.34,171.80 154.34,169.40 L154.34,162.80 Q154.34,161.40 154.79,160.40 Z" fill="url(#gk)"/>
<line x1="157.34" y1="171.60" x2="157.34" y2="173.60" stroke="#777" stroke-width="0.6"/>
<ellipse cx="157.80" cy="168.14" rx="0.52" ry="1.18" fill="#909090" opacity="0.47"/>
<ellipse cx="157.49" cy="160.80" rx="0.68" ry="0.60" fill="#909090" opacity="0.30"/>
<ellipse cx="158.77" cy="166.39" rx="0.89" ry="1.23" fill="#909090" opacity="0.48"/>
<ellipse cx="157.72" cy="166.47" rx="0.88" ry="1.16" fill="#909090" opacity="0.40"/>
<path d="M122.86,174.30 Q124.06,173.80 125.26,174.30 L126.61,177.90 Q127.06,178.90 127.06,180.30 L127.06,186.90 Q127.06,189.30 125.41,189.30 L122.71,189.30 Q121.06,189.30 121.06,186.90 L121.06,180.30 Q121.06,178.90 121.51,177.90 Z" fill="url(#gq)"/>
<line x1="124.06" y1="189.10" x2="124.06" y2="191.10" stroke="#777" stroke-width="0.6"/>
<ellipse cx="124.68" cy="179.93" rx="0.90" ry="0.97" fill="#909090" opacity="0.44"/>
<ellipse cx="122.70" cy="179.61" rx="0.52" ry="1.22" fill="#909090" opacity="0.48"/>
<ellipse cx="124.59" cy="181.49" rx="0.99" ry="1.23" fill="#909090" opacity="0.39"/>
<ellipse cx="123.24" cy="180.82" rx="0.75" ry="0.85" fill="#909090" opacity="0.36"/>
<ellipse cx="124.06" cy="187.05" rx="2.70" ry="2.90" fill="#58d050" opacity="0.75"/>
<ellipse cx="124.06" cy="187.05" rx="2.20" ry="2.20" fill="#f0a030"/>
<ellipse cx="124.06" cy="187.05" rx="1.70" ry="1.70" fill="#e8321c"/>
<path d="M131.18,174.30 Q132.38,173.80 133.58,174.30 L134.93,177.90 Q135.38,178.90 135.38,180.30 L135.38,186.90 Q135.38,189.30 133.73,189.30 L131.03,189.30 Q129.38,189.30 129.38,186.90 L129.38,180.30 Q129.38,178.90 129.83,177.90 Z" fill="url(#gwg)"/>
<line x1="132.38" y1="189.10" x2="132.38" y2="191.10" stroke="#777" stroke-width="0.6"/>
<ellipse cx="132.86" cy="187.14" rx="0.53" ry="1.05" fill="#909090" opacity="0.26"/>
<ellipse cx="131.08" cy="185.90" rx="0.85" ry="1.33" fill="#909090" opacity="0.36"/>
<ellipse cx="130.73" cy="181.67" rx="0.86" ry="1.35" fill="#909090" opacity="0.50"/>
<ellipse cx="132.30" cy="181.92" rx="0.56" ry="1.12" fill="#909090" opacity="0.30"/>
<path d="M139.22,174.00 Q140.70,173.50 142.18,174.00 L143.84,177.60 Q144.40,178.60 144.40,180.00 L144.40,187.40 Q144.40,189.80 142.36,189.80 L139.04,189.80 Q137.00,189.80 137.00,187.40 L137.00,180.00 Q137.00,178.60 137.56,177.60 Z" fill="#78cc58" opacity="0.3"/>
<path d="M139.50,174.30 Q140.70,173.80 141.90,174.30 L143.25,177.90 Q143.70,178.90 143.70,180.30 L143.70,186.90 Q143.70,189.30 142.05,189.30 L139.35,189.30 Q137.70,189.30 137.70,186.90 L137.70,180.30 Q137.70,178.90 138.15,177.90 Z" fill="url(#ggr)"/>
<line x1="140.70" y1="189.10" x2="140.70" y2="191.10" stroke="#777" stroke-width="0.6"/>
<ellipse cx="139.52" cy="177.96" rx="0.50" ry="1.15" fill="#e8f4d8" opacity="0.28"/>
<ellipse cx="142.29" cy="178.68" rx="1.02" ry="0.70" fill="#e8f4d8" opacity="0.25"/>
<ellipse cx="141.45" cy="180.22" rx="0.94" ry="0.75" fill="#e8f4d8" opacity="0.26"/>
<ellipse cx="141.63" cy="184.94" rx="1.01" ry="1.18" fill="#e8f4d8" opacity="0.27"/>
<ellipse cx="140.70" cy="180.00" rx="1.60" ry="0.80" fill="#ec8a2c" opacity="0.95"/>
<ellipse cx="140.70" cy="187.05" rx="3.00" ry="3.50" fill="#58d050" opacity="0.75"/>
<ellipse cx="140.70" cy="187.05" rx="2.80" ry="2.80" fill="#f0a030"/>
<ellipse cx="140.70" cy="187.05" rx="2.30" ry="2.30" fill="#e8321c"/>
<path d="M147.82,174.30 Q149.02,173.80 150.22,174.30 L151.57,177.90 Q152.02,178.90 152.02,180.30 L152.02,186.90 Q152.02,189.30 150.37,189.30 L147.67,189.30 Q146.02,189.30 146.02,186.90 L146.02,180.30 Q146.02,178.90 146.47,177.90 Z" fill="url(#gw)"/>
<line x1="149.02" y1="189.10" x2="149.02" y2="191.10" stroke="#777" stroke-width="0.6"/>
<ellipse cx="149.46" cy="184.89" rx="0.78" ry="1.35" fill="#909090" opacity="0.31"/>
<ellipse cx="150.60" cy="184.97" rx="0.51" ry="0.61" fill="#909090" opacity="0.41"/>
<ellipse cx="150.10" cy="178.60" rx="0.69" ry="1.18" fill="#909090" opacity="0.29"/>
<ellipse cx="150.25" cy="182.66" rx="0.54" ry="0.89" fill="#909090" opacity="0.39"/>
<ellipse cx="149.02" cy="179.55" rx="2.70" ry="2.90" fill="#58d050" opacity="0.75"/>
<ellipse cx="149.02" cy="179.55" rx="2.20" ry="2.20" fill="#f0a030"/>
<ellipse cx="149.02" cy="179.55" rx="1.70" ry="1.70" fill="#e8321c"/>
<path d="M156.14,174.30 Q157.34,173.80 158.54,174.30 L159.89,177.90 Q160.34,178.90 160.34,180.30 L160.34,186.90 Q160.34,189.30 158.69,189.30 L155.99,189.30 Q154.34,189.30 154.34,186.90 L154.34,180.30 Q154.34,178.90 154.79,177.90 Z" fill="url(#gq)"/>
<line x1="157.34" y1="189.10" x2="157.34" y2="191.10" stroke="#777" stroke-width="0.6"/>
<ellipse cx="157.13" cy="184.57" rx="0.59" ry="1.24" fill="#909090" opacity="0.34"/>
<ellipse cx="157.83" cy="184.10" rx="0.75" ry="0.91" fill="#909090" opacity="0.45"/>
<ellipse cx="158.85" cy="185.65" rx="0.84" ry="0.83" fill="#909090" opacity="0.27"/>
<ellipse cx="158.95" cy="184.83" rx="1.00" ry="0.87" fill="#909090" opacity="0.40"/>
<ellipse cx="157.34" cy="187.05" rx="2.70" ry="2.90" fill="#58d050" opacity="0.75"/>
<ellipse cx="157.34" cy="187.05" rx="2.20" ry="2.20" fill="#f0a030"/>
<ellipse cx="157.34" cy="187.05" rx="1.70" ry="1.70" fill="#e8321c"/>
<path d="M130.90,191.50 Q132.38,191.00 133.86,191.50 L135.52,195.10 Q136.08,196.10 136.08,197.50 L136.08,204.90 Q136.08,207.30 134.04,207.30 L130.72,207.30 Q128.68,207.30 128.68,204.90 L128.68,197.50 Q128.68,196.10 129.24,195.10 Z" fill="#78cc58" opacity="0.3"/>
<path d="M131.18,191.80 Q132.38,191.30 133.58,191.80 L134.93,195.40 Q135.38,196.40 135.38,197.80 L135.38,204.40 Q135.38,206.80 133.73,206.80 L131.03,206.80 Q129.38,206.80 129.38,204.40 L129.38,197.80 Q129.38,196.40 129.83,195.40 Z" fill="url(#ggr)"/>
<line x1="132.38" y1="206.60" x2="132.38" y2="208.60" stroke="#777" stroke-width="0.6"/>
<ellipse cx="134.00" cy="203.61" rx="0.86" ry="0.85" fill="#e8f4d8" opacity="0.36"/>
<ellipse cx="133.70" cy="199.07" rx="0.91" ry="1.08" fill="#e8f4d8" opacity="0.47"/>
<ellipse cx="133.43" cy="198.13" rx="0.50" ry="0.81" fill="#e8f4d8" opacity="0.36"/>
<ellipse cx="132.67" cy="203.46" rx="1.03" ry="0.63" fill="#e8f4d8" opacity="0.46"/>
<ellipse cx="132.38" cy="202.30" rx="3.00" ry="3.20" fill="#58d050" opacity="0.75"/>
<ellipse cx="132.38" cy="202.30" rx="2.50" ry="2.50" fill="#f0a030"/>
<ellipse cx="132.38" cy="202.30" rx="2.00" ry="2.00" fill="#e8321c"/>
<path d="M131.18,209.30 Q132.38,208.80 133.58,209.30 L134.93,212.90 Q135.38,213.90 135.38,215.30 L135.38,221.90 Q135.38,224.30 133.73,224.30 L131.03,224.30 Q129.38,224.30 129.38,221.90 L129.38,215.30 Q129.38,213.90 129.83,212.90 Z" fill="url(#gq)"/>
<line x1="132.38" y1="224.10" x2="132.38" y2="226.10" stroke="#777" stroke-width="0.6"/>
<ellipse cx="133.44" cy="221.47" rx="0.84" ry="0.82" fill="#909090" opacity="0.46"/>
<ellipse cx="133.42" cy="219.65" rx="1.05" ry="0.88" fill="#909090" opacity="0.27"/>
<ellipse cx="132.56" cy="220.77" rx="0.62" ry="1.20" fill="#909090" opacity="0.48"/>
<ellipse cx="131.48" cy="218.87" rx="0.91" ry="0.97" fill="#909090" opacity="0.30"/>
<rect x="167.3" y="50.8" width="41.40" height="178.80" fill="#000"/>
<path d="M170.25,51.80 Q171.44,51.30 172.63,51.80 L173.97,55.40 Q174.42,56.40 174.42,57.80 L174.42,64.40 Q174.42,66.80 172.78,66.80 L170.10,66.80 Q168.46,66.80 168.46,64.40 L168.46,57.80 Q168.46,56.40 168.91,55.40 Z" fill="url(#gw)"/>
<line x1="171.44" y1="66.60" x2="171.44" y2="68.60" stroke="#777" stroke-width="0.6"/>
<ellipse cx="170.61" cy="62.81" rx="0.97" ry="0.97" fill="#909090" opacity="0.27"/>
<ellipse cx="172.48" cy="63.02" rx="0.64" ry="1.06" fill="#909090" opacity="0.47"/>
<ellipse cx="172.75" cy="60.52" rx="0.79" ry="1.07" fill="#909090" opacity="0.30"/>
<ellipse cx="170.39" cy="57.11" rx="0.92" ry="0.89" fill="#909090" opacity="0.39"/>
<path d="M178.53,51.80 Q179.72,51.30 180.91,51.80 L182.25,55.40 Q182.70,56.40 182.70,57.80 L182.70,64.40 Q182.70,66.80 181.06,66.80 L178.38,66.80 Q176.74,66.80 176.74,64.40 L176.74,57.80 Q176.74,56.40 177.19,55.40 Z" fill="url(#gw)"/>
<line x1="179.72" y1="66.60" x2="179.72" y2="68.60" stroke="#777" stroke-width="0.6"/>
<ellipse cx="179.39" cy="60.47" rx="0.59" ry="0.64" fill="#909090" opacity="0.50"/>
<ellipse cx="179.29" cy="56.36" rx="0.88" ry="1.23" fill="#909090" opacity="0.29"/>
<ellipse cx="180.05" cy="58.75" rx="0.81" ry="0.62" fill="#909090" opacity="0.26"/>
<ellipse cx="181.39" cy="63.96" rx="0.79" ry="1.05" fill="#909090" opacity="0.32"/>
<path d="M186.81,51.80 Q188.00,51.30 189.19,51.80 L190.53,55.40 Q190.98,56.40 190.98,57.80 L190.98,64.40 Q190.98,66.80 189.34,66.80 L186.66,66.80 Q185.02,66.80 185.02,64.40 L185.02,57.80 Q185.02,56.40 185.47,55.40 Z" fill="url(#gw)"/>
<line x1="188.00" y1="66.60" x2="188.00" y2="68.60" stroke="#777" stroke-width="0.6"/>
<ellipse cx="188.95" cy="59.56" rx="1.07" ry="1.21" fill="#909090" opacity="0.45"/>
<ellipse cx="189.58" cy="57.84" rx="0.52" ry="0.76" fill="#909090" opacity="0.30"/>
<ellipse cx="186.58" cy="55.81" rx="0.83" ry="1.30" fill="#909090" opacity="0.36"/>
<ellipse cx="189.52" cy="64.40" rx="0.54" ry="1.08" fill="#909090" opacity="0.35"/>
<path d="M195.09,51.80 Q196.28,51.30 197.47,51.80 L198.81,55.40 Q199.26,56.40 199.26,57.80 L199.26,64.40 Q199.26,66.80 197.62,66.80 L194.94,66.80 Q193.30,66.80 193.30,64.40 L193.30,57.80 Q193.30,56.40 193.75,55.40 Z" fill="url(#gw)"/>
<line x1="196.28" y1="66.60" x2="196.28" y2="68.60" stroke="#777" stroke-width="0.6"/>
<ellipse cx="194.99" cy="64.89" rx="0.65" ry="1.05" fill="#909090" opacity="0.41"/>
<ellipse cx="197.83" cy="62.00" rx="0.74" ry="0.96" fill="#909090" opacity="0.29"/>
<ellipse cx="197.86" cy="65.22" rx="0.63" ry="0.63" fill="#909090" opacity="0.31"/>
<ellipse cx="195.78" cy="64.33" rx="1.04" ry="1.27" fill="#909090" opacity="0.26"/>
<path d="M203.37,51.80 Q204.56,51.30 205.75,51.80 L207.09,55.40 Q207.54,56.40 207.54,57.80 L207.54,64.40 Q207.54,66.80 205.90,66.80 L203.22,66.80 Q201.58,66.80 201.58,64.40 L201.58,57.80 Q201.58,56.40 202.03,55.40 Z" fill="url(#gw)"/>
<line x1="204.56" y1="66.60" x2="204.56" y2="68.60" stroke="#777" stroke-width="0.6"/>
<ellipse cx="205.53" cy="62.40" rx="0.89" ry="1.39" fill="#909090" opacity="0.26"/>
<ellipse cx="203.35" cy="62.85" rx="1.06" ry="1.14" fill="#909090" opacity="0.32"/>
<ellipse cx="204.87" cy="62.88" rx="0.56" ry="0.86" fill="#909090" opacity="0.31"/>
<ellipse cx="203.28" cy="60.11" rx="0.60" ry="0.79" fill="#909090" opacity="0.29"/>
<path d="M170.25,69.30 Q171.44,68.80 172.63,69.30 L173.97,72.90 Q174.42,73.90 174.42,75.30 L174.42,81.90 Q174.42,84.30 172.78,84.30 L170.10,84.30 Q168.46,84.30 168.46,81.90 L168.46,75.30 Q168.46,73.90 168.91,72.90 Z" fill="url(#gw)"/>
<line x1="171.44" y1="84.10" x2="171.44" y2="86.10" stroke="#777" stroke-width="0.6"/>
<ellipse cx="172.04" cy="72.93" rx="0.93" ry="0.76" fill="#909090" opacity="0.26"/>
<ellipse cx="172.89" cy="75.01" rx="1.06" ry="1.29" fill="#909090" opacity="0.47"/>
<ellipse cx="170.22" cy="77.27" rx="0.56" ry="1.34" fill="#909090" opacity="0.46"/>
<ellipse cx="171.88" cy="77.32" rx="0.70" ry="1.26" fill="#909090" opacity="0.37"/>
<path d="M178.53,69.30 Q179.72,68.80 180.91,69.30 L182.25,72.90 Q182.70,73.90 182.70,75.30 L182.70,81.90 Q182.70,84.30 181.06,84.30 L178.38,84.30 Q176.74,84.30 176.74,81.90 L176.74,75.30 Q176.74,73.90 177.19,72.90 Z" fill="url(#gw)"/>
<line x1="179.72" y1="84.10" x2="179.72" y2="86.10" stroke="#777" stroke-width="0.6"/>
<ellipse cx="180.16" cy="74.23" rx="0.63" ry="0.65" fill="#909090" opacity="0.43"/>
<ellipse cx="179.90" cy="74.25" rx="1.02" ry="0.81" fill="#909090" opacity="0.35"/>
<ellipse cx="178.55" cy="75.51" rx="1.00" ry="0.87" fill="#909090" opacity="0.29"/>
<ellipse cx="179.69" cy="75.98" rx="1.04" ry="0.69" fill="#909090" opacity="0.49"/>
<path d="M186.81,69.30 Q188.00,68.80 189.19,69.30 L190.53,72.90 Q190.98,73.90 190.98,75.30 L190.98,81.90 Q190.98,84.30 189.34,84.30 L186.66,84.30 Q185.02,84.30 185.02,81.90 L185.02,75.30 Q185.02,73.90 185.47,72.90 Z" fill="url(#gw)"/>
<line x1="188.00" y1="84.10" x2="188.00" y2="86.10" stroke="#777" stroke-width="0.6"/>
<ellipse cx="186.49" cy="81.75" rx="0.90" ry="0.77" fill="#909090" opacity="0.37"/>
<ellipse cx="187.27" cy="75.38" rx="0.62" ry="0.89" fill="#909090" opacity="0.50"/>
<ellipse cx="189.69" cy="82.05" rx="0.56" ry="0.83" fill="#909090" opacity="0.47"/>
<ellipse cx="186.50" cy="80.06" rx="0.68" ry="1.38" fill="#909090" opacity="0.25"/>
<path d="M195.09,69.30 Q196.28,68.80 197.47,69.30 L198.81,72.90 Q199.26,73.90 199.26,75.30 L199.26,81.90 Q199.26,84.30 197.62,84.30 L194.94,84.30 Q193.30,84.30 193.30,81.90 L193.30,75.30 Q193.30,73.90 193.75,72.90 Z" fill="url(#gw)"/>
<line x1="196.28" y1="84.10" x2="196.28" y2="86.10" stroke="#777" stroke-width="0.6"/>
<ellipse cx="197.32" cy="76.21" rx="0.58" ry="0.60" fill="#909090" opacity="0.46"/>
<ellipse cx="196.37" cy="74.66" rx="0.76" ry="1.33" fill="#909090" opacity="0.30"/>
<ellipse cx="196.52" cy="74.18" rx="0.61" ry="1.22" fill="#909090" opacity="0.43"/>
<ellipse cx="195.25" cy="73.59" rx="0.55" ry="1.09" fill="#909090" opacity="0.37"/>
<path d="M203.37,69.30 Q204.56,68.80 205.75,69.30 L207.09,72.90 Q207.54,73.90 207.54,75.30 L207.54,81.90 Q207.54,84.30 205.90,84.30 L203.22,84.30 Q201.58,84.30 201.58,81.90 L201.58,75.30 Q201.58,73.90 202.03,72.90 Z" fill="url(#gw)"/>
<line x1="204.56" y1="84.10" x2="204.56" y2="86.10" stroke="#777" stroke-width="0.6"/>
<ellipse cx="203.79" cy="74.86" rx="0.87" ry="1.17" fill="#909090" opacity="0.45"/>
<ellipse cx="204.84" cy="74.82" rx="0.54" ry="1.19" fill="#909090" opacity="0.35"/>
<ellipse cx="205.31" cy="73.35" rx="0.99" ry="0.87" fill="#909090" opacity="0.46"/>
<ellipse cx="205.80" cy="77.73" rx="0.51" ry="1.33" fill="#909090" opacity="0.37"/>
<path d="M170.25,86.80 Q171.44,86.30 172.63,86.80 L173.97,90.40 Q174.42,91.40 174.42,92.80 L174.42,99.40 Q174.42,101.80 172.78,101.80 L170.10,101.80 Q168.46,101.80 168.46,99.40 L168.46,92.80 Q168.46,91.40 168.91,90.40 Z" fill="url(#gw)"/>
<line x1="171.44" y1="101.60" x2="171.44" y2="103.60" stroke="#777" stroke-width="0.6"/>
<ellipse cx="172.70" cy="92.96" rx="0.61" ry="1.27" fill="#909090" opacity="0.34"/>
<ellipse cx="170.30" cy="94.01" rx="0.86" ry="0.60" fill="#909090" opacity="0.38"/>
<ellipse cx="171.26" cy="95.46" rx="0.57" ry="1.17" fill="#909090" opacity="0.45"/>
<ellipse cx="172.68" cy="93.51" rx="0.93" ry="0.91" fill="#909090" opacity="0.44"/>
<path d="M178.53,86.80 Q179.72,86.30 180.91,86.80 L182.25,90.40 Q182.70,91.40 182.70,92.80 L182.70,99.40 Q182.70,101.80 181.06,101.80 L178.38,101.80 Q176.74,101.80 176.74,99.40 L176.74,92.80 Q176.74,91.40 177.19,90.40 Z" fill="url(#gw)"/>
<line x1="179.72" y1="101.60" x2="179.72" y2="103.60" stroke="#777" stroke-width="0.6"/>
<ellipse cx="178.23" cy="99.03" rx="1.07" ry="1.00" fill="#909090" opacity="0.38"/>
<ellipse cx="179.82" cy="95.67" rx="0.51" ry="1.37" fill="#909090" opacity="0.31"/>
<ellipse cx="178.64" cy="91.33" rx="0.65" ry="1.25" fill="#909090" opacity="0.26"/>
<ellipse cx="178.35" cy="97.29" rx="0.62" ry="0.61" fill="#909090" opacity="0.40"/>
<path d="M186.81,86.80 Q188.00,86.30 189.19,86.80 L190.53,90.40 Q190.98,91.40 190.98,92.80 L190.98,99.40 Q190.98,101.80 189.34,101.80 L186.66,101.80 Q185.02,101.80 185.02,99.40 L185.02,92.80 Q185.02,91.40 185.47,90.40 Z" fill="url(#gw)"/>
<line x1="188.00" y1="101.60" x2="188.00" y2="103.60" stroke="#777" stroke-width="0.6"/>
<ellipse cx="188.26" cy="95.53" rx="0.92" ry="0.68" fill="#909090" opacity="0.47"/>
<ellipse cx="188.74" cy="90.75" rx="0.57" ry="0.99" fill="#909090" opacity="0.38"/>
<ellipse cx="187.25" cy="91.52" rx="0.74" ry="0.71" fill="#909090" opacity="0.40"/>
<ellipse cx="189.23" cy="91.77" rx="0.84" ry="1.20" fill="#909090" opacity="0.29"/>
<path d="M195.09,86.80 Q196.28,86.30 197.47,86.80 L198.81,90.40 Q199.26,91.40 199.26,92.80 L199.26,99.40 Q199.26,101.80 197.62,101.80 L194.94,101.80 Q193.30,101.80 193.30,99.40 L193.30,92.80 Q193.30,91.40 193.75,90.40 Z" fill="url(#gw)"/>
<line x1="196.28" y1="101.60" x2="196.28" y2="103.60" stroke="#777" stroke-width="0.6"/>
<ellipse cx="197.39" cy="99.68" rx="0.73" ry="0.94" fill="#909090" opacity="0.46"/>
<ellipse cx="196.37" cy="94.26" rx="1.06" ry="1.22" fill="#909090" opacity="0.33"/>
<ellipse cx="195.40" cy="93.65" rx="0.76" ry="1.38" fill="#909090" opacity="0.45"/>
<ellipse cx="197.68" cy="98.45" rx="1.01" ry="0.64" fill="#909090" opacity="0.38"/>
<path d="M203.37,86.80 Q204.56,86.30 205.75,86.80 L207.09,90.40 Q207.54,91.40 207.54,92.80 L207.54,99.40 Q207.54,101.80 205.90,101.80 L203.22,101.80 Q201.58,101.80 201.58,99.40 L201.58,92.80 Q201.58,91.40 202.03,90.40 Z" fill="url(#gw)"/>
<line x1="204.56" y1="101.60" x2="204.56" y2="103.60" stroke="#777" stroke-width="0.6"/>
<ellipse cx="206.12" cy="99.64" rx="0.65" ry="0.94" fill="#909090" opacity="0.41"/>
<ellipse cx="204.10" cy="95.61" rx="0.54" ry="0.95" fill="#909090" opacity="0.38"/>
<ellipse cx="202.93" cy="91.69" rx="1.08" ry="1.22" fill="#909090" opacity="0.48"/>
<ellipse cx="205.01" cy="98.39" rx="1.03" ry="1.31" fill="#909090" opacity="0.26"/>
<path d="M170.25,104.30 Q171.44,103.80 172.63,104.30 L173.97,107.90 Q174.42,108.90 174.42,110.30 L174.42,116.90 Q174.42,119.30 172.78,119.30 L170.10,119.30 Q168.46,119.30 168.46,116.90 L168.46,110.30 Q168.46,108.90 168.91,107.90 Z" fill="url(#gw)"/>
<line x1="171.44" y1="119.10" x2="171.44" y2="121.10" stroke="#777" stroke-width="0.6"/>
<ellipse cx="171.92" cy="110.46" rx="0.91" ry="0.82" fill="#909090" opacity="0.39"/>
<ellipse cx="172.88" cy="114.01" rx="0.65" ry="1.02" fill="#909090" opacity="0.36"/>
<ellipse cx="172.97" cy="110.68" rx="0.68" ry="1.12" fill="#909090" opacity="0.28"/>
<ellipse cx="171.76" cy="117.36" rx="0.81" ry="0.81" fill="#909090" opacity="0.37"/>
<path d="M178.53,104.30 Q179.72,103.80 180.91,104.30 L182.25,107.90 Q182.70,108.90 182.70,110.30 L182.70,116.90 Q182.70,119.30 181.06,119.30 L178.38,119.30 Q176.74,119.30 176.74,116.90 L176.74,110.30 Q176.74,108.90 177.19,107.90 Z" fill="url(#gw)"/>
<line x1="179.72" y1="119.10" x2="179.72" y2="121.10" stroke="#777" stroke-width="0.6"/>
<ellipse cx="179.84" cy="109.28" rx="0.57" ry="0.71" fill="#909090" opacity="0.32"/>
<ellipse cx="179.40" cy="110.68" rx="0.65" ry="0.67" fill="#909090" opacity="0.39"/>
<ellipse cx="180.88" cy="113.90" rx="0.84" ry="1.12" fill="#909090" opacity="0.30"/>
<ellipse cx="180.44" cy="112.41" rx="0.83" ry="1.09" fill="#909090" opacity="0.37"/>
<path d="M186.81,104.30 Q188.00,103.80 189.19,104.30 L190.53,107.90 Q190.98,108.90 190.98,110.30 L190.98,116.90 Q190.98,119.30 189.34,119.30 L186.66,119.30 Q185.02,119.30 185.02,116.90 L185.02,110.30 Q185.02,108.90 185.47,107.90 Z" fill="url(#gw)"/>
<line x1="188.00" y1="119.10" x2="188.00" y2="121.10" stroke="#777" stroke-width="0.6"/>
<ellipse cx="187.36" cy="110.22" rx="0.63" ry="1.01" fill="#909090" opacity="0.35"/>
<ellipse cx="188.29" cy="107.92" rx="0.71" ry="1.29" fill="#909090" opacity="0.31"/>
<ellipse cx="188.19" cy="112.71" rx="0.67" ry="1.39" fill="#909090" opacity="0.32"/>
<ellipse cx="188.93" cy="109.39" rx="0.54" ry="1.30" fill="#909090" opacity="0.36"/>
<path d="M195.09,104.30 Q196.28,103.80 197.47,104.30 L198.81,107.90 Q199.26,108.90 199.26,110.30 L199.26,116.90 Q199.26,119.30 197.62,119.30 L194.94,119.30 Q193.30,119.30 193.30,116.90 L193.30,110.30 Q193.30,108.90 193.75,107.90 Z" fill="url(#gw)"/>
<line x1="196.28" y1="119.10" x2="196.28" y2="121.10" stroke="#777" stroke-width="0.6"/>
<ellipse cx="194.79" cy="111.68" rx="0.76" ry="1.19" fill="#909090" opacity="0.28"/>
<ellipse cx="195.35" cy="117.39" rx="0.94" ry="0.72" fill="#909090" opacity="0.33"/>
<ellipse cx="195.78" cy="114.55" rx="0.87" ry="1.28" fill="#909090" opacity="0.46"/>
<ellipse cx="196.34" cy="115.19" rx="0.95" ry="1.21" fill="#909090" opacity="0.37"/>
<path d="M203.37,104.30 Q204.56,103.80 205.75,104.30 L207.09,107.90 Q207.54,108.90 207.54,110.30 L207.54,116.90 Q207.54,119.30 205.90,119.30 L203.22,119.30 Q201.58,119.30 201.58,116.90 L201.58,110.30 Q201.58,108.90 202.03,107.90 Z" fill="url(#gw)"/>
<line x1="204.56" y1="119.10" x2="204.56" y2="121.10" stroke="#777" stroke-width="0.6"/>
<ellipse cx="205.53" cy="114.89" rx="1.05" ry="0.70" fill="#909090" opacity="0.47"/>
<ellipse cx="202.87" cy="115.46" rx="0.85" ry="1.00" fill="#909090" opacity="0.49"/>
<ellipse cx="204.80" cy="111.98" rx="0.97" ry="1.30" fill="#909090" opacity="0.40"/>
<ellipse cx="204.15" cy="112.32" rx="0.77" ry="1.18" fill="#909090" opacity="0.32"/>
<path d="M170.25,121.80 Q171.44,121.30 172.63,121.80 L173.97,125.40 Q174.42,126.40 174.42,127.80 L174.42,134.40 Q174.42,136.80 172.78,136.80 L170.10,136.80 Q168.46,136.80 168.46,134.40 L168.46,127.80 Q168.46,126.40 168.91,125.40 Z" fill="url(#gw)"/>
<line x1="171.44" y1="136.60" x2="171.44" y2="138.60" stroke="#777" stroke-width="0.6"/>
<ellipse cx="171.07" cy="130.85" rx="0.73" ry="0.86" fill="#909090" opacity="0.45"/>
<ellipse cx="172.63" cy="130.30" rx="0.77" ry="0.75" fill="#909090" opacity="0.33"/>
<ellipse cx="170.23" cy="131.05" rx="0.85" ry="0.67" fill="#909090" opacity="0.48"/>
<ellipse cx="170.84" cy="133.73" rx="1.00" ry="1.37" fill="#909090" opacity="0.30"/>
<path d="M178.53,121.80 Q179.72,121.30 180.91,121.80 L182.25,125.40 Q182.70,126.40 182.70,127.80 L182.70,134.40 Q182.70,136.80 181.06,136.80 L178.38,136.80 Q176.74,136.80 176.74,134.40 L176.74,127.80 Q176.74,126.40 177.19,125.40 Z" fill="url(#gw)"/>
<line x1="179.72" y1="136.60" x2="179.72" y2="138.60" stroke="#777" stroke-width="0.6"/>
<ellipse cx="179.47" cy="134.41" rx="0.51" ry="0.64" fill="#909090" opacity="0.39"/>
<ellipse cx="179.71" cy="134.50" rx="0.96" ry="1.03" fill="#909090" opacity="0.50"/>
<ellipse cx="179.78" cy="130.47" rx="0.91" ry="0.91" fill="#909090" opacity="0.34"/>
<ellipse cx="180.04" cy="128.81" rx="1.07" ry="1.14" fill="#909090" opacity="0.38"/>
<path d="M186.81,121.80 Q188.00,121.30 189.19,121.80 L190.53,125.40 Q190.98,126.40 190.98,127.80 L190.98,134.40 Q190.98,136.80 189.34,136.80 L186.66,136.80 Q185.02,136.80 185.02,134.40 L185.02,127.80 Q185.02,126.40 185.47,125.40 Z" fill="url(#gw)"/>
<line x1="188.00" y1="136.60" x2="188.00" y2="138.60" stroke="#777" stroke-width="0.6"/>
<ellipse cx="186.64" cy="129.04" rx="0.74" ry="1.05" fill="#909090" opacity="0.39"/>
<ellipse cx="189.29" cy="134.94" rx="0.79" ry="0.95" fill="#909090" opacity="0.41"/>
<ellipse cx="189.69" cy="128.73" rx="0.82" ry="1.25" fill="#909090" opacity="0.29"/>
<ellipse cx="187.38" cy="135.08" rx="1.00" ry="1.01" fill="#909090" opacity="0.28"/>
<path d="M195.09,121.80 Q196.28,121.30 197.47,121.80 L198.81,125.40 Q199.26,126.40 199.26,127.80 L199.26,134.40 Q199.26,136.80 197.62,136.80 L194.94,136.80 Q193.30,136.80 193.30,134.40 L193.30,127.80 Q193.30,126.40 193.75,125.40 Z" fill="url(#gw)"/>
<line x1="196.28" y1="136.60" x2="196.28" y2="138.60" stroke="#777" stroke-width="0.6"/>
<ellipse cx="197.62" cy="132.20" rx="0.99" ry="1.39" fill="#909090" opacity="0.47"/>
<ellipse cx="196.01" cy="126.86" rx="0.67" ry="1.01" fill="#909090" opacity="0.38"/>
<ellipse cx="195.22" cy="127.12" rx="0.88" ry="1.08" fill="#909090" opacity="0.34"/>
<ellipse cx="197.96" cy="131.67" rx="0.53" ry="0.93" fill="#909090" opacity="0.45"/>
<path d="M203.37,121.80 Q204.56,121.30 205.75,121.80 L207.09,125.40 Q207.54,126.40 207.54,127.80 L207.54,134.40 Q207.54,136.80 205.90,136.80 L203.22,136.80 Q201.58,136.80 201.58,134.40 L201.58,127.80 Q201.58,126.40 202.03,125.40 Z" fill="url(#gw)"/>
<line x1="204.56" y1="136.60" x2="204.56" y2="138.60" stroke="#777" stroke-width="0.6"/>
<ellipse cx="203.90" cy="132.21" rx="0.50" ry="0.84" fill="#909090" opacity="0.46"/>
<ellipse cx="204.85" cy="131.98" rx="0.62" ry="1.00" fill="#909090" opacity="0.39"/>
<ellipse cx="203.76" cy="131.77" rx="0.82" ry="1.40" fill="#909090" opacity="0.39"/>
<ellipse cx="204.26" cy="126.52" rx="0.59" ry="1.21" fill="#909090" opacity="0.28"/>
<path d="M170.25,139.30 Q171.44,138.80 172.63,139.30 L173.97,142.90 Q174.42,143.90 174.42,145.30 L174.42,151.90 Q174.42,154.30 172.78,154.30 L170.10,154.30 Q168.46,154.30 168.46,151.90 L168.46,145.30 Q168.46,143.90 168.91,142.90 Z" fill="url(#gw)"/>
<line x1="171.44" y1="154.10" x2="171.44" y2="156.10" stroke="#777" stroke-width="0.6"/>
<ellipse cx="170.08" cy="144.51" rx="0.81" ry="1.26" fill="#909090" opacity="0.40"/>
<ellipse cx="172.48" cy="143.42" rx="0.51" ry="1.22" fill="#909090" opacity="0.33"/>
<ellipse cx="172.17" cy="146.34" rx="0.60" ry="0.81" fill="#909090" opacity="0.27"/>
<ellipse cx="172.81" cy="148.62" rx="0.71" ry="0.96" fill="#909090" opacity="0.35"/>
<path d="M178.53,139.30 Q179.72,138.80 180.91,139.30 L182.25,142.90 Q182.70,143.90 182.70,145.30 L182.70,151.90 Q182.70,154.30 181.06,154.30 L178.38,154.30 Q176.74,154.30 176.74,151.90 L176.74,145.30 Q176.74,143.90 177.19,142.90 Z" fill="url(#gw)"/>
<line x1="179.72" y1="154.10" x2="179.72" y2="156.10" stroke="#777" stroke-width="0.6"/>
<ellipse cx="178.21" cy="151.71" rx="0.85" ry="1.37" fill="#909090" opacity="0.36"/>
<ellipse cx="180.13" cy="145.29" rx="0.53" ry="1.34" fill="#909090" opacity="0.46"/>
<ellipse cx="179.09" cy="151.79" rx="0.99" ry="0.84" fill="#909090" opacity="0.40"/>
<ellipse cx="181.28" cy="147.76" rx="1.07" ry="0.79" fill="#909090" opacity="0.35"/>
<path d="M186.81,139.30 Q188.00,138.80 189.19,139.30 L190.53,142.90 Q190.98,143.90 190.98,145.30 L190.98,151.90 Q190.98,154.30 189.34,154.30 L186.66,154.30 Q185.02,154.30 185.02,151.90 L185.02,145.30 Q185.02,143.90 185.47,142.90 Z" fill="url(#gw)"/>
<line x1="188.00" y1="154.10" x2="188.00" y2="156.10" stroke="#777" stroke-width="0.6"/>
<ellipse cx="188.74" cy="145.01" rx="0.69" ry="1.30" fill="#909090" opacity="0.37"/>
<ellipse cx="189.00" cy="145.23" rx="0.60" ry="0.89" fill="#909090" opacity="0.30"/>
<ellipse cx="189.60" cy="145.71" rx="0.84" ry="0.69" fill="#909090" opacity="0.38"/>
<ellipse cx="187.61" cy="146.83" rx="0.54" ry="0.70" fill="#909090" opacity="0.46"/>
<path d="M195.09,139.30 Q196.28,138.80 197.47,139.30 L198.81,142.90 Q199.26,143.90 199.26,145.30 L199.26,151.90 Q199.26,154.30 197.62,154.30 L194.94,154.30 Q193.30,154.30 193.30,151.90 L193.30,145.30 Q193.30,143.90 193.75,142.90 Z" fill="url(#gw)"/>
<line x1="196.28" y1="154.10" x2="196.28" y2="156.10" stroke="#777" stroke-width="0.6"/>
<ellipse cx="195.77" cy="145.25" rx="0.61" ry="0.83" fill="#909090" opacity="0.31"/>
<ellipse cx="194.70" cy="149.44" rx="0.70" ry="0.72" fill="#909090" opacity="0.43"/>
<ellipse cx="194.89" cy="145.50" rx="1.00" ry="0.70" fill="#909090" opacity="0.36"/>
<ellipse cx="197.42" cy="150.85" rx="0.60" ry="0.88" fill="#909090" opacity="0.43"/>
<path d="M203.37,139.30 Q204.56,138.80 205.75,139.30 L207.09,142.90 Q207.54,143.90 207.54,145.30 L207.54,151.90 Q207.54,154.30 205.90,154.30 L203.22,154.30 Q201.58,154.30 201.58,151.90 L201.58,145.30 Q201.58,143.90 202.03,142.90 Z" fill="url(#gw)"/>
<line x1="204.56" y1="154.10" x2="204.56" y2="156.10" stroke="#777" stroke-width="0.6"/>
<ellipse cx="204.14" cy="152.38" rx="0.62" ry="1.36" fill="#909090" opacity="0.38"/>
<ellipse cx="203.63" cy="147.33" rx="0.58" ry="1.17" fill="#909090" opacity="0.32"/>
<ellipse cx="205.92" cy="148.68" rx="0.72" ry="0.80" fill="#909090" opacity="0.40"/>
<ellipse cx="203.58" cy="151.52" rx="0.57" ry="1.01" fill="#909090" opacity="0.39"/>
<path d="M170.25,156.80 Q171.44,156.30 172.63,156.80 L173.97,160.40 Q174.42,161.40 174.42,162.80 L174.42,169.40 Q174.42,171.80 172.78,171.80 L170.10,171.80 Q168.46,171.80 168.46,169.40 L168.46,162.80 Q168.46,161.40 168.91,160.40 Z" fill="url(#gw)"/>
<line x1="171.44" y1="171.60" x2="171.44" y2="173.60" stroke="#777" stroke-width="0.6"/>
<ellipse cx="170.66" cy="168.02" rx="0.73" ry="1.13" fill="#909090" opacity="0.39"/>
<ellipse cx="170.80" cy="164.20" rx="0.55" ry="0.74" fill="#909090" opacity="0.46"/>
<ellipse cx="170.83" cy="166.93" rx="0.57" ry="1.05" fill="#909090" opacity="0.34"/>
<ellipse cx="171.44" cy="163.27" rx="0.54" ry="0.85" fill="#909090" opacity="0.31"/>
<path d="M178.53,156.80 Q179.72,156.30 180.91,156.80 L182.25,160.40 Q182.70,161.40 182.70,162.80 L182.70,169.40 Q182.70,171.80 181.06,171.80 L178.38,171.80 Q176.74,171.80 176.74,169.40 L176.74,162.80 Q176.74,161.40 177.19,160.40 Z" fill="url(#gw)"/>
<line x1="179.72" y1="171.60" x2="179.72" y2="173.60" stroke="#777" stroke-width="0.6"/>
<ellipse cx="178.45" cy="167.47" rx="0.67" ry="0.92" fill="#909090" opacity="0.48"/>
<ellipse cx="180.65" cy="169.13" rx="1.02" ry="0.71" fill="#909090" opacity="0.32"/>
<ellipse cx="178.12" cy="167.10" rx="0.90" ry="0.88" fill="#909090" opacity="0.35"/>
<ellipse cx="180.26" cy="167.29" rx="0.65" ry="1.28" fill="#909090" opacity="0.34"/>
<path d="M186.81,156.80 Q188.00,156.30 189.19,156.80 L190.53,160.40 Q190.98,161.40 190.98,162.80 L190.98,169.40 Q190.98,171.80 189.34,171.80 L186.66,171.80 Q185.02,171.80 185.02,169.40 L185.02,162.80 Q185.02,161.40 185.47,160.40 Z" fill="url(#gw)"/>
<line x1="188.00" y1="171.60" x2="188.00" y2="173.60" stroke="#777" stroke-width="0.6"/>
<ellipse cx="188.44" cy="162.12" rx="0.57" ry="1.33" fill="#909090" opacity="0.43"/>
<ellipse cx="188.72" cy="160.70" rx="0.52" ry="0.73" fill="#909090" opacity="0.30"/>
<ellipse cx="187.33" cy="164.11" rx="0.52" ry="0.85" fill="#909090" opacity="0.41"/>
<ellipse cx="186.91" cy="168.69" rx="0.84" ry="1.17" fill="#909090" opacity="0.31"/>
<path d="M195.09,156.80 Q196.28,156.30 197.47,156.80 L198.81,160.40 Q199.26,161.40 199.26,162.80 L199.26,169.40 Q199.26,171.80 197.62,171.80 L194.94,171.80 Q193.30,171.80 193.30,169.40 L193.30,162.80 Q193.30,161.40 193.75,160.40 Z" fill="url(#gw)"/>
<line x1="196.28" y1="171.60" x2="196.28" y2="173.60" stroke="#777" stroke-width="0.6"/>
<ellipse cx="196.06" cy="167.14" rx="0.71" ry="0.60" fill="#909090" opacity="0.46"/>
<ellipse cx="197.22" cy="163.16" rx="0.53" ry="1.28" fill="#909090" opacity="0.40"/>
<ellipse cx="194.74" cy="162.74" rx="0.57" ry="1.23" fill="#909090" opacity="0.30"/>
<ellipse cx="197.69" cy="167.80" rx="0.55" ry="1.16" fill="#909090" opacity="0.35"/>
<path d="M203.37,156.80 Q204.56,156.30 205.75,156.80 L207.09,160.40 Q207.54,161.40 207.54,162.80 L207.54,169.40 Q207.54,171.80 205.90,171.80 L203.22,171.80 Q201.58,171.80 201.58,169.40 L201.58,162.80 Q201.58,161.40 202.03,160.40 Z" fill="url(#gw)"/>
<line x1="204.56" y1="171.60" x2="204.56" y2="173.60" stroke="#777" stroke-width="0.6"/>
<ellipse cx="205.40" cy="168.59" rx="0.67" ry="0.67" fill="#909090" opacity="0.49"/>
<ellipse cx="204.30" cy="169.60" rx="0.91" ry="1.19" fill="#909090" opacity="0.46"/>
<ellipse cx="205.00" cy="164.83" rx="0.53" ry="1.16" fill="#909090" opacity="0.36"/>
<ellipse cx="204.60" cy="169.58" rx="0.58" ry="1.21" fill="#909090" opacity="0.26"/>
<path d="M170.25,174.30 Q171.44,173.80 172.63,174.30 L173.97,177.90 Q174.42,178.90 174.42,180.30 L174.42,186.90 Q174.42,189.30 172.78,189.30 L170.10,189.30 Q168.46,189.30 168.46,186.90 L168.46,180.30 Q168.46,178.90 168.91,177.90 Z" fill="url(#gw)"/>
<line x1="171.44" y1="189.10" x2="171.44" y2="191.10" stroke="#777" stroke-width="0.6"/>
<ellipse cx="172.13" cy="185.86" rx="0.66" ry="1.04" fill="#909090" opacity="0.49"/>
<ellipse cx="171.91" cy="183.24" rx="0.65" ry="0.65" fill="#909090" opacity="0.34"/>
<ellipse cx="171.14" cy="179.81" rx="0.69" ry="0.71" fill="#909090" opacity="0.43"/>
<ellipse cx="172.02" cy="180.18" rx="0.65" ry="1.01" fill="#909090" opacity="0.36"/>
<path d="M178.53,174.30 Q179.72,173.80 180.91,174.30 L182.25,177.90 Q182.70,178.90 182.70,180.30 L182.70,186.90 Q182.70,189.30 181.06,189.30 L178.38,189.30 Q176.74,189.30 176.74,186.90 L176.74,180.30 Q176.74,178.90 177.19,177.90 Z" fill="url(#gw)"/>
<line x1="179.72" y1="189.10" x2="179.72" y2="191.10" stroke="#777" stroke-width="0.6"/>
<ellipse cx="181.20" cy="181.31" rx="0.68" ry="1.31" fill="#909090" opacity="0.29"/>
<ellipse cx="179.94" cy="181.14" rx="0.99" ry="1.04" fill="#909090" opacity="0.44"/>
<ellipse cx="178.60" cy="184.47" rx="0.86" ry="0.97" fill="#909090" opacity="0.44"/>
<ellipse cx="180.85" cy="178.94" rx="0.67" ry="0.89" fill="#909090" opacity="0.30"/>
<path d="M186.81,174.30 Q188.00,173.80 189.19,174.30 L190.53,177.90 Q190.98,178.90 190.98,180.30 L190.98,186.90 Q190.98,189.30 189.34,189.30 L186.66,189.30 Q185.02,189.30 185.02,186.90 L185.02,180.30 Q185.02,178.90 185.47,177.90 Z" fill="url(#gw)"/>
<line x1="188.00" y1="189.10" x2="188.00" y2="191.10" stroke="#777" stroke-width="0.6"/>
<ellipse cx="186.51" cy="180.61" rx="0.62" ry="1.16" fill="#909090" opacity="0.36"/>
<ellipse cx="186.68" cy="181.04" rx="0.78" ry="0.89" fill="#909090" opacity="0.29"/>
<ellipse cx="186.54" cy="177.91" rx="1.10" ry="1.20" fill="#909090" opacity="0.27"/>
<ellipse cx="188.74" cy="187.60" rx="0.84" ry="0.69" fill="#909090" opacity="0.37"/>
<path d="M195.09,174.30 Q196.28,173.80 197.47,174.30 L198.81,177.90 Q199.26,178.90 199.26,180.30 L199.26,186.90 Q199.26,189.30 197.62,189.30 L194.94,189.30 Q193.30,189.30 193.30,186.90 L193.30,180.30 Q193.30,178.90 193.75,177.90 Z" fill="url(#gw)"/>
<line x1="196.28" y1="189.10" x2="196.28" y2="191.10" stroke="#777" stroke-width="0.6"/>
<ellipse cx="196.06" cy="179.70" rx="0.83" ry="0.61" fill="#909090" opacity="0.48"/>
<ellipse cx="196.77" cy="184.08" rx="1.06" ry="1.12" fill="#909090" opacity="0.31"/>
<ellipse cx="195.42" cy="179.19" rx="0.52" ry="1.22" fill="#909090" opacity="0.46"/>
<ellipse cx="195.59" cy="179.66" rx="0.88" ry="1.28" fill="#909090" opacity="0.48"/>
<path d="M203.37,174.30 Q204.56,173.80 205.75,174.30 L207.09,177.90 Q207.54,178.90 207.54,180.30 L207.54,186.90 Q207.54,189.30 205.90,189.30 L203.22,189.30 Q201.58,189.30 201.58,186.90 L201.58,180.30 Q201.58,178.90 202.03,177.90 Z" fill="url(#gk)"/>
<line x1="204.56" y1="189.10" x2="204.56" y2="191.10" stroke="#777" stroke-width="0.6"/>
<ellipse cx="203.43" cy="185.65" rx="1.00" ry="1.19" fill="#909090" opacity="0.33"/>
<ellipse cx="203.49" cy="186.05" rx="0.69" ry="0.89" fill="#909090" opacity="0.39"/>
<ellipse cx="204.12" cy="186.11" rx="0.64" ry="0.63" fill="#909090" opacity="0.39"/>
<ellipse cx="205.00" cy="186.00" rx="0.92" ry="1.32" fill="#909090" opacity="0.49"/>
<path d="M170.25,191.80 Q171.44,191.30 172.63,191.80 L173.97,195.40 Q174.42,196.40 174.42,197.80 L174.42,204.40 Q174.42,206.80 172.78,206.80 L170.10,206.80 Q168.46,206.80 168.46,204.40 L168.46,197.80 Q168.46,196.40 168.91,195.40 Z" fill="url(#gw)"/>
<line x1="171.44" y1="206.60" x2="171.44" y2="208.60" stroke="#777" stroke-width="0.6"/>
<ellipse cx="171.42" cy="200.30" rx="0.59" ry="0.84" fill="#909090" opacity="0.40"/>
<ellipse cx="170.01" cy="202.18" rx="0.60" ry="0.95" fill="#909090" opacity="0.49"/>
<ellipse cx="170.04" cy="195.70" rx="0.76" ry="0.75" fill="#909090" opacity="0.43"/>
<ellipse cx="169.75" cy="203.71" rx="1.01" ry="1.23" fill="#909090" opacity="0.36"/>
<path d="M178.53,191.80 Q179.72,191.30 180.91,191.80 L182.25,195.40 Q182.70,196.40 182.70,197.80 L182.70,204.40 Q182.70,206.80 181.06,206.80 L178.38,206.80 Q176.74,206.80 176.74,204.40 L176.74,197.80 Q176.74,196.40 177.19,195.40 Z" fill="url(#gn)"/>
<line x1="179.72" y1="206.60" x2="179.72" y2="208.60" stroke="#777" stroke-width="0.6"/>
<ellipse cx="178.98" cy="201.92" rx="0.81" ry="0.94" fill="#909090" opacity="0.33"/>
<ellipse cx="179.51" cy="201.96" rx="1.00" ry="1.32" fill="#909090" opacity="0.29"/>
<ellipse cx="179.03" cy="199.73" rx="0.84" ry="0.88" fill="#909090" opacity="0.30"/>
<ellipse cx="178.31" cy="198.54" rx="0.78" ry="1.38" fill="#909090" opacity="0.48"/>
<path d="M186.81,191.80 Q188.00,191.30 189.19,191.80 L190.53,195.40 Q190.98,196.40 190.98,197.80 L190.98,204.40 Q190.98,206.80 189.34,206.80 L186.66,206.80 Q185.02,206.80 185.02,204.40 L185.02,197.80 Q185.02,196.40 185.47,195.40 Z" fill="url(#gq)"/>
<line x1="188.00" y1="206.60" x2="188.00" y2="208.60" stroke="#777" stroke-width="0.6"/>
<ellipse cx="189.24" cy="205.04" rx="1.08" ry="1.10" fill="#909090" opacity="0.45"/>
<ellipse cx="186.50" cy="202.06" rx="0.87" ry="0.84" fill="#909090" opacity="0.39"/>
<ellipse cx="189.54" cy="200.11" rx="0.89" ry="0.84" fill="#909090" opacity="0.34"/>
<ellipse cx="189.31" cy="195.58" rx="0.61" ry="1.14" fill="#909090" opacity="0.36"/>
<ellipse cx="188.00" cy="193.75" rx="2.60" ry="2.80" fill="#58d050" opacity="0.75"/>
<ellipse cx="188.00" cy="193.75" rx="2.10" ry="2.10" fill="#f0a030"/>
<ellipse cx="188.00" cy="193.75" rx="1.60" ry="1.60" fill="#e8321c"/>
<path d="M195.09,191.80 Q196.28,191.30 197.47,191.80 L198.81,195.40 Q199.26,196.40 199.26,197.80 L199.26,204.40 Q199.26,206.80 197.62,206.80 L194.94,206.80 Q193.30,206.80 193.30,204.40 L193.30,197.80 Q193.30,196.40 193.75,195.40 Z" fill="url(#gw)"/>
<line x1="196.28" y1="206.60" x2="196.28" y2="208.60" stroke="#777" stroke-width="0.6"/>
<ellipse cx="194.87" cy="201.90" rx="0.72" ry="1.06" fill="#909090" opacity="0.35"/>
<ellipse cx="196.38" cy="200.95" rx="0.74" ry="0.69" fill="#909090" opacity="0.30"/>
<ellipse cx="197.61" cy="200.78" rx="0.57" ry="1.29" fill="#909090" opacity="0.31"/>
<ellipse cx="194.90" cy="200.61" rx="0.65" ry="0.99" fill="#909090" opacity="0.39"/>
<path d="M203.37,191.80 Q204.56,191.30 205.75,191.80 L207.09,195.40 Q207.54,196.40 207.54,197.80 L207.54,204.40 Q207.54,206.80 205.90,206.80 L203.22,206.80 Q201.58,206.80 201.58,204.40 L201.58,197.80 Q201.58,196.40 202.03,195.40 Z" fill="url(#gw)"/>
<line x1="204.56" y1="206.60" x2="204.56" y2="208.60" stroke="#777" stroke-width="0.6"/>
<ellipse cx="203.63" cy="201.03" rx="0.57" ry="1.01" fill="#909090" opacity="0.40"/>
<ellipse cx="203.13" cy="199.38" rx="0.54" ry="0.95" fill="#909090" opacity="0.47"/>
<ellipse cx="204.73" cy="202.45" rx="0.95" ry="0.69" fill="#909090" opacity="0.50"/>
<ellipse cx="205.31" cy="196.32" rx="1.00" ry="0.91" fill="#909090" opacity="0.29"/>
<path d="M170.25,209.30 Q171.44,208.80 172.63,209.30 L173.97,212.90 Q174.42,213.90 174.42,215.30 L174.42,221.90 Q174.42,224.30 172.78,224.30 L170.10,224.30 Q168.46,224.30 168.46,221.90 L168.46,215.30 Q168.46,213.90 168.91,212.90 Z" fill="url(#gw)"/>
<line x1="171.44" y1="224.10" x2="171.44" y2="226.10" stroke="#777" stroke-width="0.6"/>
<ellipse cx="173.00" cy="218.43" rx="0.96" ry="0.71" fill="#909090" opacity="0.44"/>
<ellipse cx="169.94" cy="215.17" rx="0.72" ry="0.61" fill="#909090" opacity="0.40"/>
<ellipse cx="170.46" cy="215.80" rx="0.92" ry="0.94" fill="#909090" opacity="0.47"/>
<ellipse cx="171.85" cy="221.52" rx="0.84" ry="1.33" fill="#909090" opacity="0.47"/>
<path d="M178.53,209.30 Q179.72,208.80 180.91,209.30 L182.25,212.90 Q182.70,213.90 182.70,215.30 L182.70,221.90 Q182.70,224.30 181.06,224.30 L178.38,224.30 Q176.74,224.30 176.74,221.90 L176.74,215.30 Q176.74,213.90 177.19,212.90 Z" fill="url(#gn)"/>
<line x1="179.72" y1="224.10" x2="179.72" y2="226.10" stroke="#777" stroke-width="0.6"/>
<ellipse cx="178.59" cy="220.25" rx="0.70" ry="1.21" fill="#909090" opacity="0.42"/>
<ellipse cx="180.83" cy="214.03" rx="0.72" ry="1.19" fill="#909090" opacity="0.49"/>
<ellipse cx="180.47" cy="213.24" rx="0.86" ry="0.68" fill="#909090" opacity="0.39"/>
<ellipse cx="180.75" cy="213.93" rx="1.06" ry="1.14" fill="#909090" opacity="0.31"/>
<path d="M186.53,209.00 Q188.00,208.50 189.47,209.00 L191.13,212.60 Q191.68,213.60 191.68,215.00 L191.68,222.40 Q191.68,224.80 189.66,224.80 L186.34,224.80 Q184.32,224.80 184.32,222.40 L184.32,215.00 Q184.32,213.60 184.87,212.60 Z" fill="#78cc58" opacity="0.3"/>
<path d="M186.81,209.30 Q188.00,208.80 189.19,209.30 L190.53,212.90 Q190.98,213.90 190.98,215.30 L190.98,221.90 Q190.98,224.30 189.34,224.30 L186.66,224.30 Q185.02,224.30 185.02,221.90 L185.02,215.30 Q185.02,213.90 185.47,212.90 Z" fill="url(#ggy)"/>
<line x1="188.00" y1="224.10" x2="188.00" y2="226.10" stroke="#777" stroke-width="0.6"/>
<ellipse cx="186.96" cy="217.27" rx="1.00" ry="1.07" fill="#e8f4d8" opacity="0.28"/>
<ellipse cx="186.37" cy="213.90" rx="0.98" ry="0.75" fill="#e8f4d8" opacity="0.39"/>
<ellipse cx="187.29" cy="219.67" rx="0.73" ry="0.72" fill="#e8f4d8" opacity="0.47"/>
<ellipse cx="188.13" cy="219.70" rx="0.98" ry="1.36" fill="#e8f4d8" opacity="0.25"/>
<ellipse cx="188.00" cy="212.00" rx="2.90" ry="3.10" fill="#58d050" opacity="0.75"/>
<ellipse cx="188.00" cy="212.00" rx="2.40" ry="2.40" fill="#f0a030"/>
<ellipse cx="188.00" cy="212.00" rx="1.90" ry="1.90" fill="#e8321c"/>
<ellipse cx="188.00" cy="216.80" rx="2.10" ry="1.20" fill="#ec8a2c" opacity="0.95"/>
<path d="M195.09,209.30 Q196.28,208.80 197.47,209.30 L198.81,212.90 Q199.26,213.90 199.26,215.30 L199.26,221.90 Q199.26,224.30 197.62,224.30 L194.94,224.30 Q193.30,224.30 193.30,221.90 L193.30,215.30 Q193.30,213.90 193.75,212.90 Z" fill="url(#gw)"/>
<line x1="196.28" y1="224.10" x2="196.28" y2="226.10" stroke="#777" stroke-width="0.6"/>
<ellipse cx="195.74" cy="214.31" rx="0.80" ry="1.30" fill="#909090" opacity="0.45"/>
<ellipse cx="194.70" cy="214.62" rx="0.99" ry="1.14" fill="#909090" opacity="0.35"/>
<ellipse cx="196.20" cy="214.38" rx="1.01" ry="0.91" fill="#909090" opacity="0.47"/>
<ellipse cx="196.66" cy="213.56" rx="0.70" ry="0.77" fill="#909090" opacity="0.47"/>
<path d="M203.37,209.30 Q204.56,208.80 205.75,209.30 L207.09,212.90 Q207.54,213.90 207.54,215.30 L207.54,221.90 Q207.54,224.30 205.90,224.30 L203.22,224.30 Q201.58,224.30 201.58,221.90 L201.58,215.30 Q201.58,213.90 202.03,212.90 Z" fill="url(#gw)"/>
<line x1="204.56" y1="224.10" x2="204.56" y2="226.10" stroke="#777" stroke-width="0.6"/>
<ellipse cx="204.86" cy="213.24" rx="0.60" ry="0.89" fill="#909090" opacity="0.37"/>
<ellipse cx="204.82" cy="216.68" rx="0.71" ry="0.60" fill="#909090" opacity="0.39"/>
<ellipse cx="203.99" cy="213.01" rx="0.78" ry="1.39" fill="#909090" opacity="0.26"/>
<ellipse cx="203.36" cy="219.51" rx="0.66" ry="0.82" fill="#909090" opacity="0.38"/>
<rect x="215.2" y="50.8" width="15.90" height="178.80" fill="#000"/>
<path d="M218.34,51.80 Q219.50,51.30 220.66,51.80 L221.97,55.40 Q222.40,56.40 222.40,57.80 L222.40,64.40 Q222.40,66.80 220.81,66.80 L218.19,66.80 Q216.60,66.80 216.60,64.40 L216.60,57.80 Q216.60,56.40 217.03,55.40 Z" fill="url(#gw)"/>
<line x1="219.50" y1="66.60" x2="219.50" y2="68.60" stroke="#777" stroke-width="0.6"/>
<ellipse cx="218.69" cy="60.99" rx="0.82" ry="1.37" fill="#909090" opacity="0.50"/>
<ellipse cx="217.92" cy="60.91" rx="0.96" ry="1.30" fill="#909090" opacity="0.44"/>
<ellipse cx="219.95" cy="61.65" rx="0.72" ry="0.83" fill="#909090" opacity="0.45"/>
<ellipse cx="220.77" cy="64.69" rx="0.91" ry="0.84" fill="#909090" opacity="0.44"/>
<path d="M226.24,51.80 Q227.40,51.30 228.56,51.80 L229.87,55.40 Q230.30,56.40 230.30,57.80 L230.30,64.40 Q230.30,66.80 228.71,66.80 L226.09,66.80 Q224.50,66.80 224.50,64.40 L224.50,57.80 Q224.50,56.40 224.94,55.40 Z" fill="url(#gw)"/>
<line x1="227.40" y1="66.60" x2="227.40" y2="68.60" stroke="#777" stroke-width="0.6"/>
<ellipse cx="228.21" cy="60.39" rx="0.88" ry="0.88" fill="#909090" opacity="0.39"/>
<ellipse cx="227.08" cy="55.90" rx="0.70" ry="0.86" fill="#909090" opacity="0.50"/>
<ellipse cx="227.34" cy="58.97" rx="0.65" ry="0.79" fill="#909090" opacity="0.34"/>
<ellipse cx="226.16" cy="55.37" rx="1.02" ry="0.96" fill="#909090" opacity="0.36"/>
<path d="M218.34,69.30 Q219.50,68.80 220.66,69.30 L221.97,72.90 Q222.40,73.90 222.40,75.30 L222.40,81.90 Q222.40,84.30 220.81,84.30 L218.19,84.30 Q216.60,84.30 216.60,81.90 L216.60,75.30 Q216.60,73.90 217.03,72.90 Z" fill="url(#gw)"/>
<line x1="219.50" y1="84.10" x2="219.50" y2="86.10" stroke="#777" stroke-width="0.6"/>
<ellipse cx="219.73" cy="75.82" rx="0.60" ry="0.65" fill="#909090" opacity="0.33"/>
<ellipse cx="218.85" cy="80.07" rx="0.83" ry="1.35" fill="#909090" opacity="0.34"/>
<ellipse cx="220.93" cy="78.63" rx="0.55" ry="0.74" fill="#909090" opacity="0.40"/>
<ellipse cx="221.16" cy="76.37" rx="0.96" ry="0.94" fill="#909090" opacity="0.47"/>
<path d="M226.24,69.30 Q227.40,68.80 228.56,69.30 L229.87,72.90 Q230.30,73.90 230.30,75.30 L230.30,81.90 Q230.30,84.30 228.71,84.30 L226.09,84.30 Q224.50,84.30 224.50,81.90 L224.50,75.30 Q224.50,73.90 224.94,72.90 Z" fill="url(#gw)"/>
<line x1="227.40" y1="84.10" x2="227.40" y2="86.10" stroke="#777" stroke-width="0.6"/>
<ellipse cx="225.93" cy="77.65" rx="1.04" ry="0.82" fill="#909090" opacity="0.31"/>
<ellipse cx="225.78" cy="74.45" rx="0.66" ry="1.16" fill="#909090" opacity="0.30"/>
<ellipse cx="227.06" cy="74.80" rx="0.86" ry="1.29" fill="#909090" opacity="0.41"/>
<ellipse cx="226.37" cy="80.14" rx="1.08" ry="1.08" fill="#909090" opacity="0.27"/>
<path d="M218.34,86.80 Q219.50,86.30 220.66,86.80 L221.97,90.40 Q222.40,91.40 222.40,92.80 L222.40,99.40 Q222.40,101.80 220.81,101.80 L218.19,101.80 Q216.60,101.80 216.60,99.40 L216.60,92.80 Q216.60,91.40 217.03,90.40 Z" fill="url(#gk)"/>
<line x1="219.50" y1="101.60" x2="219.50" y2="103.60" stroke="#777" stroke-width="0.6"/>
<ellipse cx="220.55" cy="99.06" rx="0.70" ry="0.71" fill="#909090" opacity="0.30"/>
<ellipse cx="219.63" cy="99.05" rx="0.88" ry="1.34" fill="#909090" opacity="0.30"/>
<ellipse cx="218.91" cy="97.79" rx="0.89" ry="0.92" fill="#909090" opacity="0.42"/>
<ellipse cx="218.95" cy="90.87" rx="0.75" ry="0.64" fill="#909090" opacity="0.41"/>
<path d="M226.24,86.80 Q227.40,86.30 228.56,86.80 L229.87,90.40 Q230.30,91.40 230.30,92.80 L230.30,99.40 Q230.30,101.80 228.71,101.80 L226.09,101.80 Q224.50,101.80 224.50,99.40 L224.50,92.80 Q224.50,91.40 224.94,90.40 Z" fill="url(#gq)"/>
<line x1="227.40" y1="101.60" x2="227.40" y2="103.60" stroke="#777" stroke-width="0.6"/>
<ellipse cx="226.84" cy="95.24" rx="0.86" ry="0.81" fill="#909090" opacity="0.37"/>
<ellipse cx="225.75" cy="99.55" rx="0.84" ry="1.39" fill="#909090" opacity="0.26"/>
<ellipse cx="227.79" cy="97.54" rx="0.70" ry="0.67" fill="#909090" opacity="0.29"/>
<ellipse cx="226.19" cy="97.97" rx="0.55" ry="1.25" fill="#909090" opacity="0.36"/>
<ellipse cx="227.40" cy="99.40" rx="1.80" ry="0.96" fill="#ec8a2c" opacity="0.95"/>
<path d="M218.34,104.30 Q219.50,103.80 220.66,104.30 L221.97,107.90 Q222.40,108.90 222.40,110.30 L222.40,116.90 Q222.40,119.30 220.81,119.30 L218.19,119.30 Q216.60,119.30 216.60,116.90 L216.60,110.30 Q216.60,108.90 217.03,107.90 Z" fill="url(#gq)"/>
<line x1="219.50" y1="119.10" x2="219.50" y2="121.10" stroke="#777" stroke-width="0.6"/>
<ellipse cx="219.63" cy="113.68" rx="0.83" ry="1.13" fill="#909090" opacity="0.40"/>
<ellipse cx="218.92" cy="115.21" rx="0.65" ry="1.17" fill="#909090" opacity="0.44"/>
<ellipse cx="220.44" cy="110.89" rx="0.96" ry="1.38" fill="#909090" opacity="0.36"/>
<ellipse cx="218.75" cy="113.03" rx="1.06" ry="0.71" fill="#909090" opacity="0.25"/>
<path d="M225.96,104.00 Q227.40,103.50 228.84,104.00 L230.46,107.60 Q231.00,108.60 231.00,110.00 L231.00,117.40 Q231.00,119.80 229.02,119.80 L225.78,119.80 Q223.80,119.80 223.80,117.40 L223.80,110.00 Q223.80,108.60 224.34,107.60 Z" fill="#78cc58" opacity="0.3"/>
<path d="M226.24,104.30 Q227.40,103.80 228.56,104.30 L229.87,107.90 Q230.30,108.90 230.30,110.30 L230.30,116.90 Q230.30,119.30 228.71,119.30 L226.09,119.30 Q224.50,119.30 224.50,116.90 L224.50,110.30 Q224.50,108.90 224.94,107.90 Z" fill="url(#go)"/>
<line x1="227.40" y1="119.10" x2="227.40" y2="121.10" stroke="#777" stroke-width="0.6"/>
<ellipse cx="227.32" cy="114.35" rx="0.96" ry="0.89" fill="#e8f4d8" opacity="0.50"/>
<ellipse cx="226.48" cy="115.37" rx="0.55" ry="0.62" fill="#e8f4d8" opacity="0.28"/>
<ellipse cx="225.90" cy="112.82" rx="0.83" ry="0.75" fill="#e8f4d8" opacity="0.48"/>
<ellipse cx="226.94" cy="109.29" rx="0.61" ry="1.19" fill="#e8f4d8" opacity="0.48"/>
<ellipse cx="227.40" cy="114.50" rx="1.90" ry="1.04" fill="#ec8a2c" opacity="0.95"/>
<path d="M225.96,121.50 Q227.40,121.00 228.84,121.50 L230.46,125.10 Q231.00,126.10 231.00,127.50 L231.00,134.90 Q231.00,137.30 229.02,137.30 L225.78,137.30 Q223.80,137.30 223.80,134.90 L223.80,127.50 Q223.80,126.10 224.34,125.10 Z" fill="#78cc58" opacity="0.3"/>
<path d="M226.24,121.80 Q227.40,121.30 228.56,121.80 L229.87,125.40 Q230.30,126.40 230.30,127.80 L230.30,134.40 Q230.30,136.80 228.71,136.80 L226.09,136.80 Q224.50,136.80 224.50,134.40 L224.50,127.80 Q224.50,126.40 224.94,125.40 Z" fill="url(#gy)"/>
<line x1="227.40" y1="136.60" x2="227.40" y2="138.60" stroke="#777" stroke-width="0.6"/>
<ellipse cx="226.25" cy="125.59" rx="0.97" ry="0.79" fill="#e8f4d8" opacity="0.50"/>
<ellipse cx="227.40" cy="131.66" rx="0.71" ry="1.24" fill="#e8f4d8" opacity="0.37"/>
<ellipse cx="226.80" cy="134.34" rx="0.56" ry="1.19" fill="#e8f4d8" opacity="0.27"/>
<ellipse cx="227.89" cy="129.32" rx="1.02" ry="0.65" fill="#e8f4d8" opacity="0.39"/>
<ellipse cx="227.40" cy="129.90" rx="2.80" ry="3.00" fill="#58d050" opacity="0.75"/>
<ellipse cx="227.40" cy="129.90" rx="2.30" ry="2.30" fill="#f0a030"/>
<ellipse cx="227.40" cy="129.90" rx="1.80" ry="1.80" fill="#e8321c"/>
<rect x="232.2" y="50.8" width="7.90" height="178.80" fill="#000"/>
<path d="M235.04,51.80 Q236.20,51.30 237.36,51.80 L238.66,55.40 Q239.10,56.40 239.10,57.80 L239.10,64.40 Q239.10,66.80 237.50,66.80 L234.89,66.80 Q233.30,66.80 233.30,64.40 L233.30,57.80 Q233.30,56.40 233.73,55.40 Z" fill="url(#gw)"/>
<line x1="236.20" y1="66.60" x2="236.20" y2="68.60" stroke="#777" stroke-width="0.6"/>
<ellipse cx="235.89" cy="64.49" rx="1.07" ry="1.10" fill="#909090" opacity="0.31"/>
<ellipse cx="235.36" cy="57.92" rx="0.76" ry="0.79" fill="#909090" opacity="0.30"/>
<ellipse cx="237.08" cy="61.73" rx="0.68" ry="1.40" fill="#909090" opacity="0.30"/>
<ellipse cx="236.44" cy="56.87" rx="1.02" ry="1.30" fill="#909090" opacity="0.32"/>
<path d="M235.04,69.30 Q236.20,68.80 237.36,69.30 L238.66,72.90 Q239.10,73.90 239.10,75.30 L239.10,81.90 Q239.10,84.30 237.50,84.30 L234.89,84.30 Q233.30,84.30 233.30,81.90 L233.30,75.30 Q233.30,73.90 233.73,72.90 Z" fill="url(#gw)"/>
<line x1="236.20" y1="84.10" x2="236.20" y2="86.10" stroke="#777" stroke-width="0.6"/>
<ellipse cx="237.06" cy="81.03" rx="0.67" ry="0.87" fill="#909090" opacity="0.37"/>
<ellipse cx="237.53" cy="74.42" rx="0.91" ry="1.08" fill="#909090" opacity="0.36"/>
<ellipse cx="236.47" cy="81.63" rx="0.63" ry="1.31" fill="#909090" opacity="0.34"/>
<ellipse cx="237.15" cy="81.43" rx="0.61" ry="1.29" fill="#909090" opacity="0.50"/>
<path d="M235.04,86.80 Q236.20,86.30 237.36,86.80 L238.66,90.40 Q239.10,91.40 239.10,92.80 L239.10,99.40 Q239.10,101.80 237.50,101.80 L234.89,101.80 Q233.30,101.80 233.30,99.40 L233.30,92.80 Q233.30,91.40 233.73,90.40 Z" fill="url(#gq)"/>
<line x1="236.20" y1="101.60" x2="236.20" y2="103.60" stroke="#777" stroke-width="0.6"/>
<ellipse cx="235.51" cy="90.54" rx="0.57" ry="1.38" fill="#909090" opacity="0.25"/>
<ellipse cx="237.60" cy="91.81" rx="0.94" ry="0.68" fill="#909090" opacity="0.29"/>
<ellipse cx="236.82" cy="91.20" rx="0.70" ry="1.33" fill="#909090" opacity="0.43"/>
<ellipse cx="237.50" cy="100.10" rx="0.52" ry="0.79" fill="#909090" opacity="0.45"/>
<ellipse cx="236.20" cy="99.40" rx="1.80" ry="0.96" fill="#ec8a2c" opacity="0.95"/>
<path d="M234.76,104.00 Q236.20,103.50 237.64,104.00 L239.26,107.60 Q239.80,108.60 239.80,110.00 L239.80,117.40 Q239.80,119.80 237.82,119.80 L234.58,119.80 Q232.60,119.80 232.60,117.40 L232.60,110.00 Q232.60,108.60 233.14,107.60 Z" fill="#78cc58" opacity="0.3"/>
<path d="M235.04,104.30 Q236.20,103.80 237.36,104.30 L238.66,107.90 Q239.10,108.90 239.10,110.30 L239.10,116.90 Q239.10,119.30 237.50,119.30 L234.89,119.30 Q233.30,119.30 233.30,116.90 L233.30,110.30 Q233.30,108.90 233.73,107.90 Z" fill="url(#go)"/>
<line x1="236.20" y1="119.10" x2="236.20" y2="121.10" stroke="#777" stroke-width="0.6"/>
<ellipse cx="236.84" cy="108.18" rx="0.80" ry="0.79" fill="#e8f4d8" opacity="0.36"/>
<ellipse cx="234.86" cy="108.00" rx="1.09" ry="0.85" fill="#e8f4d8" opacity="0.47"/>
<ellipse cx="234.91" cy="112.67" rx="0.58" ry="0.94" fill="#e8f4d8" opacity="0.29"/>
<ellipse cx="236.83" cy="109.28" rx="0.94" ry="1.00" fill="#e8f4d8" opacity="0.28"/>
<ellipse cx="236.20" cy="107.30" rx="1.80" ry="0.96" fill="#ec8a2c" opacity="0.95"/>
<ellipse cx="236.20" cy="114.50" rx="1.90" ry="1.04" fill="#ec8a2c" opacity="0.95"/>
<path d="M234.76,121.50 Q236.20,121.00 237.64,121.50 L239.26,125.10 Q239.80,126.10 239.80,127.50 L239.80,134.90 Q239.80,137.30 237.82,137.30 L234.58,137.30 Q232.60,137.30 232.60,134.90 L232.60,127.50 Q232.60,126.10 233.14,125.10 Z" fill="#78cc58" opacity="0.3"/>
<path d="M235.04,121.80 Q236.20,121.30 237.36,121.80 L238.66,125.40 Q239.10,126.40 239.10,127.80 L239.10,134.40 Q239.10,136.80 237.50,136.80 L234.89,136.80 Q233.30,136.80 233.30,134.40 L233.30,127.80 Q233.30,126.40 233.73,125.40 Z" fill="url(#gy)"/>
<line x1="236.20" y1="136.60" x2="236.20" y2="138.60" stroke="#777" stroke-width="0.6"/>
<ellipse cx="235.70" cy="130.26" rx="1.05" ry="0.88" fill="#e8f4d8" opacity="0.30"/>
<ellipse cx="237.79" cy="134.13" rx="0.94" ry="0.82" fill="#e8f4d8" opacity="0.29"/>
<ellipse cx="235.40" cy="125.99" rx="0.53" ry="1.01" fill="#e8f4d8" opacity="0.35"/>
<ellipse cx="236.39" cy="128.93" rx="0.51" ry="1.15" fill="#e8f4d8" opacity="0.41"/>
<ellipse cx="236.20" cy="124.65" rx="2.00" ry="1.12" fill="#ec8a2c" opacity="0.95"/>
<ellipse cx="236.20" cy="131.85" rx="2.60" ry="2.80" fill="#58d050" opacity="0.75"/>
<ellipse cx="236.20" cy="131.85" rx="2.10" ry="2.10" fill="#f0a030"/>
<ellipse cx="236.20" cy="131.85" rx="1.60" ry="1.60" fill="#e8321c"/>
<rect x="245.2" y="50.8" width="15.60" height="178.80" fill="#000"/>
<path d="M248.24,51.80 Q249.40,51.30 250.56,51.80 L251.87,55.40 Q252.30,56.40 252.30,57.80 L252.30,64.40 Q252.30,66.80 250.71,66.80 L248.09,66.80 Q246.50,66.80 246.50,64.40 L246.50,57.80 Q246.50,56.40 246.94,55.40 Z" fill="url(#gw)"/>
<line x1="249.40" y1="66.60" x2="249.40" y2="68.60" stroke="#777" stroke-width="0.6"/>
<ellipse cx="249.55" cy="60.79" rx="0.91" ry="1.39" fill="#909090" opacity="0.47"/>
<ellipse cx="250.14" cy="59.29" rx="0.69" ry="0.94" fill="#909090" opacity="0.49"/>
<ellipse cx="249.02" cy="59.15" rx="0.75" ry="0.71" fill="#909090" opacity="0.50"/>
<ellipse cx="247.72" cy="61.38" rx="1.06" ry="0.80" fill="#909090" opacity="0.40"/>
<path d="M255.84,51.80 Q257.00,51.30 258.16,51.80 L259.46,55.40 Q259.90,56.40 259.90,57.80 L259.90,64.40 Q259.90,66.80 258.31,66.80 L255.69,66.80 Q254.10,66.80 254.10,64.40 L254.10,57.80 Q254.10,56.40 254.53,55.40 Z" fill="url(#gw)"/>
<line x1="257.00" y1="66.60" x2="257.00" y2="68.60" stroke="#777" stroke-width="0.6"/>
<ellipse cx="256.58" cy="57.71" rx="0.62" ry="0.69" fill="#909090" opacity="0.46"/>
<ellipse cx="257.97" cy="64.39" rx="0.53" ry="1.16" fill="#909090" opacity="0.33"/>
<ellipse cx="257.50" cy="60.79" rx="0.69" ry="1.38" fill="#909090" opacity="0.25"/>
<ellipse cx="257.84" cy="63.83" rx="0.81" ry="1.07" fill="#909090" opacity="0.50"/>
<path d="M248.24,69.30 Q249.40,68.80 250.56,69.30 L251.87,72.90 Q252.30,73.90 252.30,75.30 L252.30,81.90 Q252.30,84.30 250.71,84.30 L248.09,84.30 Q246.50,84.30 246.50,81.90 L246.50,75.30 Q246.50,73.90 246.94,72.90 Z" fill="url(#gw)"/>
<line x1="249.40" y1="84.10" x2="249.40" y2="86.10" stroke="#777" stroke-width="0.6"/>
<ellipse cx="248.50" cy="79.10" rx="0.95" ry="0.90" fill="#909090" opacity="0.43"/>
<ellipse cx="249.04" cy="78.06" rx="0.87" ry="1.14" fill="#909090" opacity="0.33"/>
<ellipse cx="249.84" cy="78.23" rx="0.63" ry="1.09" fill="#909090" opacity="0.32"/>
<ellipse cx="250.79" cy="77.53" rx="0.93" ry="1.02" fill="#909090" opacity="0.37"/>
<path d="M255.84,69.30 Q257.00,68.80 258.16,69.30 L259.46,72.90 Q259.90,73.90 259.90,75.30 L259.90,81.90 Q259.90,84.30 258.31,84.30 L255.69,84.30 Q254.10,84.30 254.10,81.90 L254.10,75.30 Q254.10,73.90 254.53,72.90 Z" fill="url(#gw)"/>
<line x1="257.00" y1="84.10" x2="257.00" y2="86.10" stroke="#777" stroke-width="0.6"/>
<ellipse cx="256.05" cy="74.22" rx="1.06" ry="1.02" fill="#909090" opacity="0.38"/>
<ellipse cx="257.09" cy="80.93" rx="0.64" ry="0.74" fill="#909090" opacity="0.46"/>
<ellipse cx="256.87" cy="79.21" rx="1.00" ry="1.32" fill="#909090" opacity="0.47"/>
<ellipse cx="255.45" cy="76.61" rx="1.00" ry="1.25" fill="#909090" opacity="0.28"/>
<path d="M248.24,86.80 Q249.40,86.30 250.56,86.80 L251.87,90.40 Q252.30,91.40 252.30,92.80 L252.30,99.40 Q252.30,101.80 250.71,101.80 L248.09,101.80 Q246.50,101.80 246.50,99.40 L246.50,92.80 Q246.50,91.40 246.94,90.40 Z" fill="url(#gk)"/>
<line x1="249.40" y1="101.60" x2="249.40" y2="103.60" stroke="#777" stroke-width="0.6"/>
<ellipse cx="248.22" cy="92.81" rx="0.56" ry="0.89" fill="#909090" opacity="0.45"/>
<ellipse cx="249.47" cy="94.83" rx="0.55" ry="0.92" fill="#909090" opacity="0.50"/>
<ellipse cx="250.06" cy="94.79" rx="0.79" ry="1.24" fill="#909090" opacity="0.44"/>
<ellipse cx="248.21" cy="97.10" rx="0.72" ry="1.02" fill="#909090" opacity="0.31"/>
<path d="M255.84,86.80 Q257.00,86.30 258.16,86.80 L259.46,90.40 Q259.90,91.40 259.90,92.80 L259.90,99.40 Q259.90,101.80 258.31,101.80 L255.69,101.80 Q254.10,101.80 254.10,99.40 L254.10,92.80 Q254.10,91.40 254.53,90.40 Z" fill="url(#gq)"/>
<line x1="257.00" y1="101.60" x2="257.00" y2="103.60" stroke="#777" stroke-width="0.6"/>
<ellipse cx="256.56" cy="93.70" rx="0.73" ry="0.61" fill="#909090" opacity="0.30"/>
<ellipse cx="257.24" cy="90.88" rx="0.61" ry="1.17" fill="#909090" opacity="0.32"/>
<ellipse cx="256.40" cy="92.72" rx="1.00" ry="0.67" fill="#909090" opacity="0.41"/>
<ellipse cx="258.22" cy="92.32" rx="0.75" ry="1.23" fill="#909090" opacity="0.40"/>
<ellipse cx="257.00" cy="99.40" rx="1.80" ry="0.96" fill="#ec8a2c" opacity="0.95"/>
<path d="M247.96,104.00 Q249.40,103.50 250.84,104.00 L252.46,107.60 Q253.00,108.60 253.00,110.00 L253.00,117.40 Q253.00,119.80 251.02,119.80 L247.78,119.80 Q245.80,119.80 245.80,117.40 L245.80,110.00 Q245.80,108.60 246.34,107.60 Z" fill="#78cc58" opacity="0.3"/>
<path d="M248.24,104.30 Q249.40,103.80 250.56,104.30 L251.87,107.90 Q252.30,108.90 252.30,110.30 L252.30,116.90 Q252.30,119.30 250.71,119.30 L248.09,119.30 Q246.50,119.30 246.50,116.90 L246.50,110.30 Q246.50,108.90 246.94,107.90 Z" fill="url(#go)"/>
<line x1="249.40" y1="119.10" x2="249.40" y2="121.10" stroke="#777" stroke-width="0.6"/>
<ellipse cx="248.96" cy="108.24" rx="0.77" ry="0.89" fill="#e8f4d8" opacity="0.43"/>
<ellipse cx="248.70" cy="111.88" rx="0.89" ry="1.25" fill="#e8f4d8" opacity="0.34"/>
<ellipse cx="249.01" cy="113.59" rx="1.05" ry="0.75" fill="#e8f4d8" opacity="0.49"/>
<ellipse cx="250.12" cy="111.52" rx="0.90" ry="0.86" fill="#e8f4d8" opacity="0.27"/>
<ellipse cx="249.40" cy="113.45" rx="2.40" ry="2.60" fill="#58d050" opacity="0.75"/>
<ellipse cx="249.40" cy="113.45" rx="1.90" ry="1.90" fill="#f0a030"/>
<ellipse cx="249.40" cy="113.45" rx="1.40" ry="1.40" fill="#e8321c"/>
<path d="M255.56,104.00 Q257.00,103.50 258.44,104.00 L260.06,107.60 Q260.60,108.60 260.60,110.00 L260.60,117.40 Q260.60,119.80 258.62,119.80 L255.38,119.80 Q253.40,119.80 253.40,117.40 L253.40,110.00 Q253.40,108.60 253.94,107.60 Z" fill="#78cc58" opacity="0.3"/>
<path d="M255.84,104.30 Q257.00,103.80 258.16,104.30 L259.46,107.90 Q259.90,108.90 259.90,110.30 L259.90,116.90 Q259.90,119.30 258.31,119.30 L255.69,119.30 Q254.10,119.30 254.10,116.90 L254.10,110.30 Q254.10,108.90 254.53,107.90 Z" fill="url(#go)"/>
<line x1="257.00" y1="119.10" x2="257.00" y2="121.10" stroke="#777" stroke-width="0.6"/>
<ellipse cx="257.87" cy="111.59" rx="0.82" ry="1.00" fill="#e8f4d8" opacity="0.48"/>
<ellipse cx="257.87" cy="108.06" rx="0.86" ry="0.97" fill="#e8f4d8" opacity="0.37"/>
<ellipse cx="258.15" cy="111.95" rx="0.78" ry="1.31" fill="#e8f4d8" opacity="0.36"/>
<ellipse cx="256.97" cy="112.92" rx="0.99" ry="1.14" fill="#e8f4d8" opacity="0.44"/>
<ellipse cx="257.00" cy="113.45" rx="2.40" ry="2.60" fill="#58d050" opacity="0.75"/>
<ellipse cx="257.00" cy="113.45" rx="1.90" ry="1.90" fill="#f0a030"/>
<ellipse cx="257.00" cy="113.45" rx="1.40" ry="1.40" fill="#e8321c"/>
<path d="M247.96,121.50 Q249.40,121.00 250.84,121.50 L252.46,125.10 Q253.00,126.10 253.00,127.50 L253.00,134.90 Q253.00,137.30 251.02,137.30 L247.78,137.30 Q245.80,137.30 245.80,134.90 L245.80,127.50 Q245.80,126.10 246.34,125.10 Z" fill="#78cc58" opacity="0.3"/>
<path d="M248.24,121.80 Q249.40,121.30 250.56,121.80 L251.87,125.40 Q252.30,126.40 252.30,127.80 L252.30,134.40 Q252.30,136.80 250.71,136.80 L248.09,136.80 Q246.50,136.80 246.50,134.40 L246.50,127.80 Q246.50,126.40 246.94,125.40 Z" fill="url(#gy)"/>
<line x1="249.40" y1="136.60" x2="249.40" y2="138.60" stroke="#777" stroke-width="0.6"/>
<ellipse cx="249.07" cy="125.71" rx="0.91" ry="1.04" fill="#e8f4d8" opacity="0.44"/>
<ellipse cx="250.32" cy="126.48" rx="0.63" ry="0.66" fill="#e8f4d8" opacity="0.45"/>
<ellipse cx="248.05" cy="126.18" rx="0.95" ry="1.05" fill="#e8f4d8" opacity="0.26"/>
<ellipse cx="250.02" cy="132.41" rx="0.79" ry="0.64" fill="#e8f4d8" opacity="0.42"/>
<ellipse cx="249.40" cy="124.05" rx="2.00" ry="1.12" fill="#ec8a2c" opacity="0.95"/>
<ellipse cx="249.40" cy="130.35" rx="3.00" ry="3.20" fill="#58d050" opacity="0.75"/>
<ellipse cx="249.40" cy="130.35" rx="2.50" ry="2.50" fill="#f0a030"/>
<ellipse cx="249.40" cy="130.35" rx="2.00" ry="2.00" fill="#e8321c"/>
<path d="M255.56,121.50 Q257.00,121.00 258.44,121.50 L260.06,125.10 Q260.60,126.10 260.60,127.50 L260.60,134.90 Q260.60,137.30 258.62,137.30 L255.38,137.30 Q253.40,137.30 253.40,134.90 L253.40,127.50 Q253.40,126.10 253.94,125.10 Z" fill="#78cc58" opacity="0.3"/>
<path d="M255.84,121.80 Q257.00,121.30 258.16,121.80 L259.46,125.40 Q259.90,126.40 259.90,127.80 L259.90,134.40 Q259.90,136.80 258.31,136.80 L255.69,136.80 Q254.10,136.80 254.10,134.40 L254.10,127.80 Q254.10,126.40 254.53,125.40 Z" fill="url(#ggy)"/>
<line x1="257.00" y1="136.60" x2="257.00" y2="138.60" stroke="#777" stroke-width="0.6"/>
<ellipse cx="256.72" cy="131.14" rx="1.10" ry="1.25" fill="#e8f4d8" opacity="0.47"/>
<ellipse cx="255.79" cy="128.64" rx="0.81" ry="0.60" fill="#e8f4d8" opacity="0.50"/>
<ellipse cx="256.23" cy="127.92" rx="0.69" ry="0.80" fill="#e8f4d8" opacity="0.46"/>
<ellipse cx="257.19" cy="130.41" rx="0.75" ry="0.64" fill="#e8f4d8" opacity="0.33"/>
<ellipse cx="257.00" cy="130.95" rx="2.20" ry="1.28" fill="#ec8a2c" opacity="0.95"/>
<line x1="136.7" y1="86.5" x2="136.7" y2="104.5" stroke="#666" stroke-width="0.8"/>
</g>
<text x="7.6" y="17.8" font-size="12.3" text-anchor="start" font-weight="bold" fill="#111" textLength="8.6" lengthAdjust="spacingAndGlyphs">H</text>
<text x="11.5" y="51.7" font-size="7.6" text-anchor="start" font-weight="normal" fill="#222" stroke="#222" stroke-width="0.15">Day</text>
<text x="22.8" y="63.3" font-size="7.6" text-anchor="end" font-weight="normal" fill="#222" stroke="#222" stroke-width="0.15">17</text>
<text x="22.8" y="81.5" font-size="7.6" text-anchor="end" font-weight="normal" fill="#222" stroke="#222" stroke-width="0.15">24</text>
<text x="22.8" y="95.1" font-size="7.6" text-anchor="end" font-weight="normal" fill="#222" stroke="#222" stroke-width="0.15">30</text>
<text x="22.8" y="113.6" font-size="7.6" text-anchor="end" font-weight="normal" fill="#222" stroke="#222" stroke-width="0.15">37</text>
<text x="22.8" y="131.5" font-size="7.6" text-anchor="end" font-weight="normal" fill="#222" stroke="#222" stroke-width="0.15">44</text>
<text x="22.8" y="149.6" font-size="7.6" text-anchor="end" font-weight="normal" fill="#222" stroke="#222" stroke-width="0.15">51</text>
<text x="22.8" y="168.1" font-size="7.6" text-anchor="end" font-weight="normal" fill="#222" stroke="#222" stroke-width="0.15">58</text>
<text x="22.8" y="187.1" font-size="7.6" text-anchor="end" font-weight="normal" fill="#222" stroke="#222" stroke-width="0.15">65</text>
<text x="22.8" y="204.7" font-size="7.6" text-anchor="end" font-weight="normal" fill="#222" stroke="#222" stroke-width="0.15">86</text>
<text x="22.8" y="220.7" font-size="7.6" text-anchor="end" font-weight="normal" fill="#222" stroke="#222" stroke-width="0.15">99</text>
<text x="46.6" y="46.0" font-size="8.3" text-anchor="middle" font-weight="normal" fill="#222" textLength="16.2" lengthAdjust="spacingAndGlyphs" stroke="#222" stroke-width="0.15">NTD</text>
<text x="95.6" y="35.9" font-size="8.3" text-anchor="middle" font-weight="normal" fill="#222" textLength="16.2" lengthAdjust="spacingAndGlyphs" stroke="#222" stroke-width="0.15">NTD</text>
<text x="95.2" y="46.0" font-size="8.4" text-anchor="middle" font-weight="normal" fill="#222" textLength="39.2" lengthAdjust="spacingAndGlyphs" stroke="#222" stroke-width="0.15">rhIL-7-hyFc</text>
<text x="141.4" y="36.5" font-size="8.5" text-anchor="middle" font-weight="normal" fill="#222" stroke="#222" stroke-width="0.15">M-BB</text>
<text x="141.5" y="46.5" font-size="8.5" text-anchor="middle" font-weight="normal" fill="#222" stroke="#222" stroke-width="0.15">BCMA</text>
<text x="189.4" y="26.1" font-size="8.5" text-anchor="middle" font-weight="normal" fill="#222" stroke="#222" stroke-width="0.15">M-BB</text>
<text x="189.4" y="36.2" font-size="8.5" text-anchor="middle" font-weight="normal" fill="#222" stroke="#222" stroke-width="0.15">BCMA</text>
<text x="189.5" y="46.5" font-size="8.5" text-anchor="middle" font-weight="normal" fill="#222" textLength="40.0" lengthAdjust="spacingAndGlyphs" stroke="#222" stroke-width="0.15">rhIL-7-hyFc</text>
<text x="229.9" y="46.0" font-size="8.7" text-anchor="start" font-weight="normal" fill="#222" textLength="34.6" lengthAdjust="spacingAndGlyphs" transform="rotate(-90 229.9 46.0)" stroke="#222" stroke-width="0.15">Untreated</text>
<text x="255.4" y="46.0" font-size="8.6" text-anchor="start" font-weight="normal" fill="#222" textLength="38.0" lengthAdjust="spacingAndGlyphs" transform="rotate(-90 255.4 46.0)" stroke="#222" stroke-width="0.15">rhIL-7-hyFc</text>
<text x="308.9" y="17.7" font-size="12.3" text-anchor="start" font-weight="bold" fill="#111">I</text>
<line x1="308.5" y1="43.7" x2="318.5" y2="43.7" stroke="#4d4f5a" stroke-width="1.1"/>
<circle cx="314.0" cy="43.7" r="1.3" fill="#4d4f5a"/>
<text x="322.9" y="46.800000000000004" font-size="8.2" text-anchor="start" font-weight="normal" fill="#222" stroke="#222" stroke-width="0.15">Untreated</text>
<line x1="308.5" y1="56.2" x2="318.5" y2="56.2" stroke="#b4193c" stroke-width="1.1"/>
<circle cx="314.0" cy="56.2" r="1.3" fill="#b4193c"/>
<text x="322.9" y="59.300000000000004" font-size="8.2" text-anchor="start" font-weight="normal" fill="#222" textLength="30.4" lengthAdjust="spacingAndGlyphs" stroke="#222" stroke-width="0.15">hyIL-7Fc</text>
<line x1="308.5" y1="68.8" x2="318.5" y2="68.8" stroke="#bdbdbd" stroke-width="1.1"/>
<circle cx="314.0" cy="68.8" r="1.3" fill="#bdbdbd"/>
<text x="322.9" y="71.89999999999999" font-size="8.2" text-anchor="start" font-weight="normal" fill="#222" stroke="#222" stroke-width="0.15">NTD</text>
<line x1="374.0" y1="43.0" x2="384.0" y2="43.0" stroke="#d6d6d6" stroke-width="1.1" stroke-dasharray="2,1.2"/>
<circle cx="379.5" cy="43.0" r="1.3" fill="#d6d6d6"/>
<text x="388.2" y="46.1" font-size="8.2" text-anchor="start" font-weight="normal" fill="#222" textLength="70.4" lengthAdjust="spacingAndGlyphs" stroke="#222" stroke-width="0.15">NTD iNKT hyIL-7Fc</text>
<line x1="374.0" y1="55.8" x2="384.0" y2="55.8" stroke="#1f4a7a" stroke-width="1.1"/>
<circle cx="379.5" cy="55.8" r="1.3" fill="#1f4a7a"/>
<text x="388.2" y="58.9" font-size="8.2" text-anchor="start" font-weight="normal" fill="#222" textLength="90.2" lengthAdjust="spacingAndGlyphs" stroke="#222" stroke-width="0.15">M-BB BCMA CAR-iNKT</text>
<line x1="374.0" y1="68.5" x2="384.0" y2="68.5" stroke="#1f4a7a" stroke-width="1.1" stroke-dasharray="2,1.3"/>
<circle cx="379.5" cy="68.5" r="1.3" fill="#1f4a7a"/>
<text x="388.2" y="71.6" font-size="8.2" text-anchor="start" font-weight="normal" fill="#222" textLength="122.4" lengthAdjust="spacingAndGlyphs" stroke="#222" stroke-width="0.15">M-BB BCMA CAR-iNKT hyIL-7Fc</text>
<line x1="335.8" y1="92.2" x2="335.8" y2="191.2" stroke="#111" stroke-width="1.8"/>
<line x1="332.8" y1="190.6" x2="482.3" y2="190.6" stroke="#222" stroke-width="1.4"/>
<line x1="333" y1="191.40" x2="335.5" y2="191.40" stroke="#111" stroke-width="1"/>
<line x1="333.9" y1="186.58" x2="335.5" y2="186.58" stroke="#222" stroke-width="0.6"/>
<line x1="333.9" y1="183.77" x2="335.5" y2="183.77" stroke="#222" stroke-width="0.6"/>
<line x1="333.9" y1="181.77" x2="335.5" y2="181.77" stroke="#222" stroke-width="0.6"/>
<line x1="333.9" y1="180.22" x2="335.5" y2="180.22" stroke="#222" stroke-width="0.6"/>
<line x1="333.9" y1="178.95" x2="335.5" y2="178.95" stroke="#222" stroke-width="0.6"/>
<line x1="333.9" y1="177.88" x2="335.5" y2="177.88" stroke="#222" stroke-width="0.6"/>
<line x1="333.9" y1="176.95" x2="335.5" y2="176.95" stroke="#222" stroke-width="0.6"/>
<line x1="333.9" y1="176.13" x2="335.5" y2="176.13" stroke="#222" stroke-width="0.6"/>
<text x="324.5868" y="195.3" font-size="7.0" text-anchor="end" font-weight="normal" fill="#222" stroke="#222" stroke-width="0.15">10</text>
<text x="327.9" y="192.5" font-size="4.7" text-anchor="end" font-weight="normal" fill="#333" stroke="#333" stroke-width="0.15">6</text>
<line x1="333" y1="175.40" x2="335.5" y2="175.40" stroke="#111" stroke-width="1"/>
<line x1="333.9" y1="170.58" x2="335.5" y2="170.58" stroke="#222" stroke-width="0.6"/>
<line x1="333.9" y1="167.77" x2="335.5" y2="167.77" stroke="#222" stroke-width="0.6"/>
<line x1="333.9" y1="165.77" x2="335.5" y2="165.77" stroke="#222" stroke-width="0.6"/>
<line x1="333.9" y1="164.22" x2="335.5" y2="164.22" stroke="#222" stroke-width="0.6"/>
<line x1="333.9" y1="162.95" x2="335.5" y2="162.95" stroke="#222" stroke-width="0.6"/>
<line x1="333.9" y1="161.88" x2="335.5" y2="161.88" stroke="#222" stroke-width="0.6"/>
<line x1="333.9" y1="160.95" x2="335.5" y2="160.95" stroke="#222" stroke-width="0.6"/>
<line x1="333.9" y1="160.13" x2="335.5" y2="160.13" stroke="#222" stroke-width="0.6"/>
<text x="324.5868" y="179.3" font-size="7.0" text-anchor="end" font-weight="normal" fill="#222" stroke="#222" stroke-width="0.15">10</text>
<text x="327.9" y="176.5" font-size="4.7" text-anchor="end" font-weight="normal" fill="#333" stroke="#333" stroke-width="0.15">7</text>
<line x1="333" y1="159.40" x2="335.5" y2="159.40" stroke="#111" stroke-width="1"/>
<line x1="333.9" y1="154.58" x2="335.5" y2="154.58" stroke="#222" stroke-width="0.6"/>
<line x1="333.9" y1="151.77" x2="335.5" y2="151.77" stroke="#222" stroke-width="0.6"/>
<line x1="333.9" y1="149.77" x2="335.5" y2="149.77" stroke="#222" stroke-width="0.6"/>
<line x1="333.9" y1="148.22" x2="335.5" y2="148.22" stroke="#222" stroke-width="0.6"/>
<line x1="333.9" y1="146.95" x2="335.5" y2="146.95" stroke="#222" stroke-width="0.6"/>
<line x1="333.9" y1="145.88" x2="335.5" y2="145.88" stroke="#222" stroke-width="0.6"/>
<line x1="333.9" y1="144.95" x2="335.5" y2="144.95" stroke="#222" stroke-width="0.6"/>
<line x1="333.9" y1="144.13" x2="335.5" y2="144.13" stroke="#222" stroke-width="0.6"/>
<text x="324.5868" y="163.3" font-size="7.0" text-anchor="end" font-weight="normal" fill="#222" stroke="#222" stroke-width="0.15">10</text>
<text x="327.9" y="160.5" font-size="4.7" text-anchor="end" font-weight="normal" fill="#333" stroke="#333" stroke-width="0.15">8</text>
<line x1="333" y1="143.40" x2="335.5" y2="143.40" stroke="#111" stroke-width="1"/>
<line x1="333.9" y1="138.58" x2="335.5" y2="138.58" stroke="#222" stroke-width="0.6"/>
<line x1="333.9" y1="135.77" x2="335.5" y2="135.77" stroke="#222" stroke-width="0.6"/>
<line x1="333.9" y1="133.77" x2="335.5" y2="133.77" stroke="#222" stroke-width="0.6"/>
<line x1="333.9" y1="132.22" x2="335.5" y2="132.22" stroke="#222" stroke-width="0.6"/>
<line x1="333.9" y1="130.95" x2="335.5" y2="130.95" stroke="#222" stroke-width="0.6"/>
<line x1="333.9" y1="129.88" x2="335.5" y2="129.88" stroke="#222" stroke-width="0.6"/>
<line x1="333.9" y1="128.95" x2="335.5" y2="128.95" stroke="#222" stroke-width="0.6"/>
<line x1="333.9" y1="128.13" x2="335.5" y2="128.13" stroke="#222" stroke-width="0.6"/>
<text x="324.5868" y="147.3" font-size="7.0" text-anchor="end" font-weight="normal" fill="#222" stroke="#222" stroke-width="0.15">10</text>
<text x="327.9" y="144.5" font-size="4.7" text-anchor="end" font-weight="normal" fill="#333" stroke="#333" stroke-width="0.15">9</text>
<line x1="333" y1="127.40" x2="335.5" y2="127.40" stroke="#111" stroke-width="1"/>
<line x1="333.9" y1="122.58" x2="335.5" y2="122.58" stroke="#222" stroke-width="0.6"/>
<line x1="333.9" y1="119.77" x2="335.5" y2="119.77" stroke="#222" stroke-width="0.6"/>
<line x1="333.9" y1="117.77" x2="335.5" y2="117.77" stroke="#222" stroke-width="0.6"/>
<line x1="333.9" y1="116.22" x2="335.5" y2="116.22" stroke="#222" stroke-width="0.6"/>
<line x1="333.9" y1="114.95" x2="335.5" y2="114.95" stroke="#222" stroke-width="0.6"/>
<line x1="333.9" y1="113.88" x2="335.5" y2="113.88" stroke="#222" stroke-width="0.6"/>
<line x1="333.9" y1="112.95" x2="335.5" y2="112.95" stroke="#222" stroke-width="0.6"/>
<line x1="333.9" y1="112.13" x2="335.5" y2="112.13" stroke="#222" stroke-width="0.6"/>
<text x="321.9736" y="131.3" font-size="7.0" text-anchor="end" font-weight="normal" fill="#222" stroke="#222" stroke-width="0.15">10</text>
<text x="327.9" y="128.5" font-size="4.7" text-anchor="end" font-weight="normal" fill="#333" stroke="#333" stroke-width="0.15">10</text>
<line x1="333" y1="111.40" x2="335.5" y2="111.40" stroke="#111" stroke-width="1"/>
<line x1="333.9" y1="106.58" x2="335.5" y2="106.58" stroke="#222" stroke-width="0.6"/>
<line x1="333.9" y1="103.77" x2="335.5" y2="103.77" stroke="#222" stroke-width="0.6"/>
<line x1="333.9" y1="101.77" x2="335.5" y2="101.77" stroke="#222" stroke-width="0.6"/>
<line x1="333.9" y1="100.22" x2="335.5" y2="100.22" stroke="#222" stroke-width="0.6"/>
<line x1="333.9" y1="98.95" x2="335.5" y2="98.95" stroke="#222" stroke-width="0.6"/>
<line x1="333.9" y1="97.88" x2="335.5" y2="97.88" stroke="#222" stroke-width="0.6"/>
<line x1="333.9" y1="96.95" x2="335.5" y2="96.95" stroke="#222" stroke-width="0.6"/>
<line x1="333.9" y1="96.13" x2="335.5" y2="96.13" stroke="#222" stroke-width="0.6"/>
<text x="321.9736" y="115.30000000000001" font-size="7.0" text-anchor="end" font-weight="normal" fill="#222" stroke="#222" stroke-width="0.15">10</text>
<text x="327.9" y="112.5" font-size="4.7" text-anchor="end" font-weight="normal" fill="#333" stroke="#333" stroke-width="0.15">11</text>
<line x1="333" y1="95.40" x2="335.5" y2="95.40" stroke="#111" stroke-width="1"/>
<text x="321.9736" y="99.30000000000001" font-size="7.0" text-anchor="end" font-weight="normal" fill="#222" stroke="#222" stroke-width="0.15">10</text>
<text x="327.9" y="96.5" font-size="4.7" text-anchor="end" font-weight="normal" fill="#333" stroke="#333" stroke-width="0.15">12</text>
<line x1="343.70" y1="190.6" x2="343.70" y2="193.4" stroke="#222" stroke-width="1"/>
<text x="343.70" y="203.1" font-size="8.2" text-anchor="middle" fill="#222" transform="translate(0 203.1) scale(1 0.9) translate(0 -203.1)">20</text>
<line x1="377.45" y1="190.6" x2="377.45" y2="193.4" stroke="#222" stroke-width="1"/>
<text x="377.45" y="203.1" font-size="8.2" text-anchor="middle" fill="#222" transform="translate(0 203.1) scale(1 0.9) translate(0 -203.1)">40</text>
<line x1="411.20" y1="190.6" x2="411.20" y2="193.4" stroke="#222" stroke-width="1"/>
<text x="411.20" y="203.1" font-size="8.2" text-anchor="middle" fill="#222" transform="translate(0 203.1) scale(1 0.9) translate(0 -203.1)">60</text>
<line x1="444.95" y1="190.6" x2="444.95" y2="193.4" stroke="#222" stroke-width="1"/>
<text x="444.95" y="203.1" font-size="8.2" text-anchor="middle" fill="#222" transform="translate(0 203.1) scale(1 0.9) translate(0 -203.1)">80</text>
<line x1="478.70" y1="190.6" x2="478.70" y2="193.4" stroke="#222" stroke-width="1"/>
<text x="478.70" y="203.1" font-size="8.2" text-anchor="middle" fill="#222" transform="translate(0 203.1) scale(1 0.9) translate(0 -203.1)">100</text>
<text x="391.5" y="213.3" font-size="8.9" text-anchor="start" font-weight="normal" fill="#222" textLength="35.8" lengthAdjust="spacingAndGlyphs" stroke="#222" stroke-width="0.35">Time (days)</text>
<text x="310.4" y="159.5" font-size="8.8" text-anchor="start" font-weight="bold" fill="#222" textLength="35.5" lengthAdjust="spacingAndGlyphs" transform="rotate(-90 310.4 159.5)">Photon flux</text>
<text x="439.6" y="134.3" font-size="8.6" text-anchor="start" font-weight="normal" fill="#222" textLength="31.6" lengthAdjust="spacingAndGlyphs" stroke="#222" stroke-width="0.15"><tspan font-style="italic">P</tspan> &lt; .001</text>
<polyline points="372.39,119.20 384.20,117.20" fill="none" stroke="#d0d0d0" stroke-width="1.2" opacity="1"/>
<line x1="384.20" y1="113.60" x2="384.20" y2="120.70" stroke="#cfcfcf" stroke-width="1.1"/>
<line x1="382.30" y1="113.60" x2="386.10" y2="113.60" stroke="#cfcfcf" stroke-width="1.1"/>
<line x1="382.30" y1="120.70" x2="386.10" y2="120.70" stroke="#cfcfcf" stroke-width="1.1"/>
<line x1="338.64" y1="164.80" x2="338.64" y2="172.30" stroke="#a9b4c4" stroke-width="0.9"/>
<line x1="336.74" y1="164.80" x2="340.54" y2="164.80" stroke="#a9b4c4" stroke-width="0.9"/>
<line x1="336.74" y1="172.30" x2="340.54" y2="172.30" stroke="#a9b4c4" stroke-width="0.9"/>
<polyline points="338.64,161.00 350.45,142.10 360.57,127.70 372.39,120.50" fill="none" stroke="#8c8e94" stroke-width="0.9" opacity="1"/>
<line x1="360.57" y1="121.20" x2="360.57" y2="130.30" stroke="#8a8c90" stroke-width="0.9"/>
<line x1="358.68" y1="121.20" x2="362.47" y2="121.20" stroke="#8a8c90" stroke-width="0.9"/>
<line x1="358.68" y1="130.30" x2="362.47" y2="130.30" stroke="#8a8c90" stroke-width="0.9"/>
<circle cx="350.45" cy="142.10" r="1.2" fill="#6a746a"/>
<polyline points="338.64,162.00 350.45,135.20 360.57,125.20 372.39,119.30" fill="none" stroke="#d8c4c8" stroke-width="1.1" opacity="1"/>
<polyline points="338.64,160.70 350.45,133.00 360.57,123.00 372.39,117.50" fill="none" stroke="#c0203e" stroke-width="1.1" opacity="1"/>
<line x1="350.45" y1="131.30" x2="350.45" y2="134.50" stroke="#c0203e" stroke-width="0.9"/>
<line x1="348.55" y1="131.30" x2="352.35" y2="131.30" stroke="#c0203e" stroke-width="0.9"/>
<line x1="348.55" y1="134.50" x2="352.35" y2="134.50" stroke="#c0203e" stroke-width="0.9"/>
<line x1="372.39" y1="124.20" x2="372.39" y2="128.10" stroke="#c0203e" stroke-width="1.0"/>
<line x1="370.49" y1="124.20" x2="374.29" y2="124.20" stroke="#c0203e" stroke-width="1.0"/>
<line x1="370.49" y1="128.10" x2="374.29" y2="128.10" stroke="#c0203e" stroke-width="1.0"/>
<circle cx="338.64" cy="160.90" r="1.3" fill="#a01830"/>
<circle cx="350.45" cy="133.00" r="1.3" fill="#a01830"/>
<polyline points="338.64,160.70 350.45,176.00 360.57,172.30 372.39,164.80 384.20,168.50 396.01,153.90 407.82,147.20 419.64,144.60 455.07,187.30 477.01,179.60" fill="none" stroke="#1f4a7a" stroke-width="1.1" stroke-dasharray="3.2,1.9" opacity="1"/>
<line x1="350.45" y1="169.50" x2="350.45" y2="180.70" stroke="#3c6a9a" stroke-width="0.9"/>
<line x1="348.55" y1="169.50" x2="352.35" y2="169.50" stroke="#3c6a9a" stroke-width="0.9"/>
<line x1="348.55" y1="180.70" x2="352.35" y2="180.70" stroke="#3c6a9a" stroke-width="0.9"/>
<line x1="360.57" y1="169.50" x2="360.57" y2="177.90" stroke="#3c6a9a" stroke-width="0.9"/>
<line x1="358.68" y1="169.50" x2="362.47" y2="169.50" stroke="#3c6a9a" stroke-width="0.9"/>
<line x1="358.68" y1="177.90" x2="362.47" y2="177.90" stroke="#3c6a9a" stroke-width="0.9"/>
<line x1="384.20" y1="163.40" x2="384.20" y2="168.50" stroke="#1f4a7a" stroke-width="0.9"/>
<line x1="382.30" y1="163.40" x2="386.10" y2="163.40" stroke="#1f4a7a" stroke-width="0.9"/>
<line x1="382.30" y1="168.50" x2="386.10" y2="168.50" stroke="#1f4a7a" stroke-width="0.9"/>
<line x1="396.01" y1="147.50" x2="396.01" y2="153.90" stroke="#1f4a7a" stroke-width="0.9"/>
<line x1="394.11" y1="147.50" x2="397.91" y2="147.50" stroke="#1f4a7a" stroke-width="0.9"/>
<line x1="394.11" y1="153.90" x2="397.91" y2="153.90" stroke="#1f4a7a" stroke-width="0.9"/>
<line x1="407.82" y1="141.00" x2="407.82" y2="147.20" stroke="#1f4a7a" stroke-width="0.9"/>
<line x1="405.93" y1="141.00" x2="409.72" y2="141.00" stroke="#1f4a7a" stroke-width="0.9"/>
<line x1="405.93" y1="147.20" x2="409.72" y2="147.20" stroke="#1f4a7a" stroke-width="0.9"/>
<line x1="419.64" y1="139.00" x2="419.64" y2="144.60" stroke="#1f4a7a" stroke-width="0.9"/>
<line x1="417.74" y1="139.00" x2="421.54" y2="139.00" stroke="#1f4a7a" stroke-width="0.9"/>
<line x1="417.74" y1="144.60" x2="421.54" y2="144.60" stroke="#1f4a7a" stroke-width="0.9"/>
<line x1="477.01" y1="173.70" x2="477.01" y2="179.60" stroke="#1f4a7a" stroke-width="0.9"/>
<line x1="475.11" y1="173.70" x2="478.91" y2="173.70" stroke="#1f4a7a" stroke-width="0.9"/>
<line x1="475.11" y1="179.60" x2="478.91" y2="179.60" stroke="#1f4a7a" stroke-width="0.9"/>
<circle cx="350.45" cy="176.00" r="1.6" fill="#1f4a7a"/>
<circle cx="360.57" cy="172.30" r="1.6" fill="#1f4a7a"/>
<circle cx="372.39" cy="164.80" r="1.6" fill="#1f4a7a"/>
<circle cx="384.20" cy="168.50" r="1.6" fill="#1f4a7a"/>
<circle cx="396.01" cy="153.90" r="1.6" fill="#1f4a7a"/>
<circle cx="407.82" cy="147.20" r="1.6" fill="#1f4a7a"/>
<circle cx="419.64" cy="144.60" r="1.6" fill="#1f4a7a"/>
<circle cx="455.07" cy="187.30" r="1.6" fill="#1f4a7a"/>
<circle cx="477.01" cy="179.60" r="1.6" fill="#1f4a7a"/>
<polyline points="338.64,160.70 350.45,176.00 360.57,157.90 372.39,140.80 384.20,134.00 396.01,120.50 407.82,109.90 419.64,106.30" fill="none" stroke="#1f4a7a" stroke-width="1.2" opacity="1"/>
<line x1="372.39" y1="136.60" x2="372.39" y2="158.00" stroke="#6f8aa8" stroke-width="1.0"/>
<line x1="370.49" y1="136.60" x2="374.29" y2="136.60" stroke="#6f8aa8" stroke-width="1.0"/>
<line x1="370.49" y1="158.00" x2="374.29" y2="158.00" stroke="#6f8aa8" stroke-width="1.0"/>
<line x1="360.57" y1="155.00" x2="360.57" y2="159.50" stroke="#1f4a7a" stroke-width="0.9"/>
<line x1="358.68" y1="155.00" x2="362.47" y2="155.00" stroke="#1f4a7a" stroke-width="0.9"/>
<line x1="358.68" y1="159.50" x2="362.47" y2="159.50" stroke="#1f4a7a" stroke-width="0.9"/>
<line x1="384.20" y1="129.10" x2="384.20" y2="134.00" stroke="#1f4a7a" stroke-width="0.9"/>
<line x1="382.30" y1="129.10" x2="386.10" y2="129.10" stroke="#1f4a7a" stroke-width="0.9"/>
<line x1="382.30" y1="134.00" x2="386.10" y2="134.00" stroke="#1f4a7a" stroke-width="0.9"/>
<line x1="396.01" y1="115.00" x2="396.01" y2="120.50" stroke="#1f4a7a" stroke-width="0.9"/>
<line x1="394.11" y1="115.00" x2="397.91" y2="115.00" stroke="#1f4a7a" stroke-width="0.9"/>
<line x1="394.11" y1="120.50" x2="397.91" y2="120.50" stroke="#1f4a7a" stroke-width="0.9"/>
<line x1="407.82" y1="104.30" x2="407.82" y2="109.90" stroke="#1f4a7a" stroke-width="0.9"/>
<line x1="405.93" y1="104.30" x2="409.72" y2="104.30" stroke="#1f4a7a" stroke-width="0.9"/>
<line x1="405.93" y1="109.90" x2="409.72" y2="109.90" stroke="#1f4a7a" stroke-width="0.9"/>
<line x1="419.64" y1="100.40" x2="419.64" y2="106.30" stroke="#1f4a7a" stroke-width="0.9"/>
<line x1="417.74" y1="100.40" x2="421.54" y2="100.40" stroke="#1f4a7a" stroke-width="0.9"/>
<line x1="417.74" y1="106.30" x2="421.54" y2="106.30" stroke="#1f4a7a" stroke-width="0.9"/>
<circle cx="350.45" cy="176.00" r="1.6" fill="#1f4a7a"/>
<circle cx="360.57" cy="157.90" r="1.6" fill="#1f4a7a"/>
<circle cx="372.39" cy="140.80" r="1.6" fill="#1f4a7a"/>
<circle cx="384.20" cy="134.00" r="1.6" fill="#1f4a7a"/>
<circle cx="396.01" cy="120.50" r="1.6" fill="#1f4a7a"/>
<circle cx="407.82" cy="109.90" r="1.6" fill="#1f4a7a"/>
<circle cx="419.64" cy="106.30" r="1.6" fill="#1f4a7a"/>
<circle cx="338.64" cy="160.70" r="1.6" fill="#8a2a3a"/>
<text x="139.0" y="261.9" font-size="12.3" text-anchor="start" font-weight="bold" fill="#111">J</text>
<text x="171.9" y="285.8" font-size="8.2" text-anchor="start" font-weight="normal" fill="#222" stroke="#222" stroke-width="0.15">Day: 23</text>
<line x1="176.2" y1="290" x2="206.5" y2="290" stroke="#262626" stroke-width="1.5"/>
<text x="232.0" y="285.8" font-size="8.2" text-anchor="middle" font-weight="normal" fill="#222" stroke="#222" stroke-width="0.15">38</text>
<line x1="216.0" y1="290" x2="249.5" y2="290" stroke="#262626" stroke-width="1.5"/>
<text x="273.2" y="285.8" font-size="8.2" text-anchor="middle" font-weight="normal" fill="#222" stroke="#222" stroke-width="0.15">52*</text>
<line x1="256.0" y1="290" x2="290.5" y2="290" stroke="#262626" stroke-width="1.5"/>
<text x="316.0" y="285.8" font-size="8.2" text-anchor="middle" font-weight="normal" fill="#222" stroke="#222" stroke-width="0.15">66</text>
<line x1="299.0" y1="290" x2="332.7" y2="290" stroke="#262626" stroke-width="1.5"/>
<text x="363.5" y="285.8" font-size="8.2" text-anchor="middle" font-weight="normal" fill="#222" stroke="#222" stroke-width="0.15">80</text>
<line x1="346.4" y1="290" x2="381.2" y2="290" stroke="#262626" stroke-width="1.5"/>
<circle cx="401.9" cy="278.6" r="2.0" fill="#1f4a7a"/>
<circle cx="401.9" cy="291.6" r="1.75" fill="none" stroke="#1f4a7a" stroke-width="0.9"/>
<text x="407.0" y="281.8" font-size="8.3" text-anchor="start" font-weight="normal" fill="#2a2a2a" textLength="61.4" lengthAdjust="spacingAndGlyphs" stroke="#2a2a2a" stroke-width="0.05">BCMA CAR-iNKT</text>
<text x="407.0" y="294.6" font-size="8.3" text-anchor="start" font-weight="normal" fill="#2a2a2a" textLength="103.4" lengthAdjust="spacingAndGlyphs" stroke="#2a2a2a" stroke-width="0.05">BCMA CAR iNKT rhIL-7hyFc</text>
<line x1="170.5" y1="299.7" x2="170.5" y2="331" stroke="#111" stroke-width="1.4"/>
<line x1="166.6" y1="331.1" x2="174.9" y2="331.1" stroke="#111" stroke-width="1.4"/>
<line x1="167.3" y1="303.2" x2="170.5" y2="303.2" stroke="#111" stroke-width="1"/>
<text x="163.8" y="305.4" font-size="8.2" text-anchor="end" fill="#222" transform="translate(0 303.2) scale(1 0.8) translate(0 -303.2)">400</text>
<line x1="167.3" y1="310.6" x2="170.5" y2="310.6" stroke="#111" stroke-width="1"/>
<text x="163.8" y="312.8" font-size="8.2" text-anchor="end" fill="#222" transform="translate(0 310.6) scale(1 0.8) translate(0 -310.6)">300</text>
<line x1="167.3" y1="318.0" x2="170.5" y2="318.0" stroke="#111" stroke-width="1"/>
<text x="163.8" y="320.2" font-size="8.2" text-anchor="end" fill="#222" transform="translate(0 318.0) scale(1 0.8) translate(0 -318.0)">200</text>
<line x1="167.3" y1="325.4" x2="170.5" y2="325.4" stroke="#111" stroke-width="1"/>
<text x="163.8" y="327.59999999999997" font-size="8.2" text-anchor="end" fill="#222" transform="translate(0 325.4) scale(1 0.8) translate(0 -325.4)">100</text>
<line x1="170.5" y1="341.5" x2="170.5" y2="416.2" stroke="#111" stroke-width="1.4"/>
<line x1="166.6" y1="341.7" x2="174.9" y2="341.7" stroke="#111" stroke-width="1.4"/>
<text x="163.8" y="344.0" font-size="8.0" text-anchor="end" fill="#222" transform="translate(0 341.6) scale(1 0.9) translate(0 -341.6)">25</text>
<line x1="167.3" y1="356.5" x2="170.5" y2="356.5" stroke="#111" stroke-width="1"/>
<text x="163.8" y="358.9" font-size="8.0" text-anchor="end" fill="#222" transform="translate(0 356.5) scale(1 0.9) translate(0 -356.5)">20</text>
<line x1="167.3" y1="371.4" x2="170.5" y2="371.4" stroke="#111" stroke-width="1"/>
<text x="163.8" y="373.79999999999995" font-size="8.0" text-anchor="end" fill="#222" transform="translate(0 371.4) scale(1 0.9) translate(0 -371.4)">15</text>
<line x1="167.3" y1="386.3" x2="170.5" y2="386.3" stroke="#111" stroke-width="1"/>
<text x="163.8" y="388.7" font-size="8.0" text-anchor="end" fill="#222" transform="translate(0 386.3) scale(1 0.9) translate(0 -386.3)">10</text>
<line x1="167.3" y1="401.2" x2="170.5" y2="401.2" stroke="#111" stroke-width="1"/>
<text x="163.8" y="403.59999999999997" font-size="8.0" text-anchor="end" fill="#222" transform="translate(0 401.2) scale(1 0.9) translate(0 -401.2)">5</text>
<line x1="167.3" y1="416.1" x2="170.5" y2="416.1" stroke="#111" stroke-width="1"/>
<text x="163.8" y="418.5" font-size="8.0" text-anchor="end" fill="#222" transform="translate(0 416.1) scale(1 0.9) translate(0 -416.1)">0</text>
<text x="145.9" y="389.0" font-size="9.2" text-anchor="start" font-weight="normal" fill="#222" textLength="62.5" lengthAdjust="spacingAndGlyphs" transform="rotate(-90 145.9 389.0)" stroke="#222" stroke-width="0.15">CAR+ cells/ul blood</text>
<line x1="169.8" y1="416" x2="206.3" y2="416" stroke="#222" stroke-width="1.5"/>
<line x1="182.7" y1="416" x2="182.7" y2="419" stroke="#222" stroke-width="1.0"/>
<line x1="199.2" y1="416" x2="199.2" y2="419" stroke="#222" stroke-width="1.0"/>
<line x1="216.3" y1="416" x2="249.6" y2="416" stroke="#222" stroke-width="1.5"/>
<line x1="222.6" y1="416" x2="222.6" y2="419" stroke="#222" stroke-width="1.0"/>
<line x1="240.1" y1="416" x2="240.1" y2="419" stroke="#222" stroke-width="1.0"/>
<line x1="256.3" y1="416" x2="290.6" y2="416" stroke="#222" stroke-width="1.5"/>
<line x1="263.5" y1="416" x2="263.5" y2="419" stroke="#222" stroke-width="1.0"/>
<line x1="281.1" y1="416" x2="281.1" y2="419" stroke="#222" stroke-width="1.0"/>
<line x1="299.5" y1="416" x2="334.5" y2="416" stroke="#222" stroke-width="1.5"/>
<line x1="305.6" y1="416" x2="305.6" y2="419" stroke="#222" stroke-width="1.0"/>
<line x1="324.1" y1="416" x2="324.1" y2="419" stroke="#222" stroke-width="1.0"/>
<line x1="346.3" y1="416" x2="382.4" y2="416" stroke="#222" stroke-width="1.5"/>
<line x1="352.0" y1="416" x2="352.0" y2="419" stroke="#222" stroke-width="1.0"/>
<line x1="369.8" y1="416" x2="369.8" y2="419" stroke="#222" stroke-width="1.0"/>
<circle cx="178.8" cy="403.4" r="2.25" fill="#1f4a7a"/>
<circle cx="181.6" cy="406.6" r="2.25" fill="#1f4a7a"/>
<circle cx="185.2" cy="406.4" r="2.25" fill="#1f4a7a"/>
<circle cx="178.4" cy="409.6" r="2.25" fill="#1f4a7a"/>
<circle cx="183.1" cy="410.0" r="2.25" fill="#1f4a7a"/>
<circle cx="218.6" cy="415.6" r="2.25" fill="#1f4a7a"/>
<circle cx="221.2" cy="415.6" r="2.25" fill="#1f4a7a"/>
<circle cx="223.8" cy="415.6" r="2.25" fill="#1f4a7a"/>
<circle cx="226.3" cy="415.6" r="2.25" fill="#1f4a7a"/>
<circle cx="260.1" cy="406.5" r="2.25" fill="#1f4a7a"/>
<circle cx="262.0" cy="409.5" r="2.25" fill="#1f4a7a"/>
<circle cx="259.7" cy="412.2" r="2.25" fill="#1f4a7a"/>
<circle cx="263.5" cy="413.0" r="2.25" fill="#1f4a7a"/>
<circle cx="267.0" cy="412.6" r="2.25" fill="#1f4a7a"/>
<circle cx="306.4" cy="401.2" r="2.25" fill="#1f4a7a"/>
<circle cx="305.2" cy="412.3" r="2.25" fill="#1f4a7a"/>
<circle cx="301.8" cy="415.4" r="2.25" fill="#1f4a7a"/>
<circle cx="309.1" cy="415.4" r="2.25" fill="#1f4a7a"/>
<circle cx="305.6" cy="416.0" r="2.25" fill="#1f4a7a"/>
<circle cx="348.0" cy="415.6" r="2.25" fill="#1f4a7a"/>
<circle cx="350.6" cy="415.6" r="2.25" fill="#1f4a7a"/>
<circle cx="353.2" cy="415.6" r="2.25" fill="#1f4a7a"/>
<circle cx="355.8" cy="415.6" r="2.25" fill="#1f4a7a"/>
<circle cx="195.8" cy="394.2" r="2.25" fill="#fff" stroke="#1f4a7a" stroke-width="1.0"/>
<circle cx="200.0" cy="398.7" r="2.25" fill="#fff" stroke="#1f4a7a" stroke-width="1.0"/>
<circle cx="199.6" cy="403.8" r="2.25" fill="#fff" stroke="#1f4a7a" stroke-width="1.0"/>
<circle cx="195.8" cy="406.9" r="2.25" fill="#fff" stroke="#1f4a7a" stroke-width="1.0"/>
<circle cx="203.5" cy="406.9" r="2.25" fill="#fff" stroke="#1f4a7a" stroke-width="1.0"/>
<circle cx="240.1" cy="374.6" r="2.25" fill="#fff" stroke="#1f4a7a" stroke-width="1.0"/>
<circle cx="236.7" cy="392.1" r="2.25" fill="#fff" stroke="#1f4a7a" stroke-width="1.0"/>
<circle cx="243.7" cy="392.1" r="2.25" fill="#fff" stroke="#1f4a7a" stroke-width="1.0"/>
<circle cx="240.1" cy="401.2" r="2.25" fill="#fff" stroke="#1f4a7a" stroke-width="1.0"/>
<circle cx="240.1" cy="413.2" r="2.25" fill="#fff" stroke="#1f4a7a" stroke-width="1.0"/>
<circle cx="281.2" cy="301.0" r="2.25" fill="#fff" stroke="#1f4a7a" stroke-width="1.0"/>
<circle cx="277.9" cy="326.5" r="2.25" fill="#fff" stroke="#1f4a7a" stroke-width="1.0"/>
<circle cx="280.8" cy="330.6" r="2.25" fill="#fff" stroke="#1f4a7a" stroke-width="1.0"/>
<circle cx="284.6" cy="330.0" r="2.25" fill="#fff" stroke="#1f4a7a" stroke-width="1.0"/>
<circle cx="281.1" cy="412.6" r="2.25" fill="#fff" stroke="#1f4a7a" stroke-width="1.0"/>
<circle cx="320.2" cy="328.5" r="2.25" fill="#fff" stroke="#1f4a7a" stroke-width="1.0"/>
<circle cx="327.5" cy="330.4" r="2.25" fill="#fff" stroke="#1f4a7a" stroke-width="1.0"/>
<circle cx="320.5" cy="392.0" r="2.25" fill="#fff" stroke="#1f4a7a" stroke-width="1.0"/>
<circle cx="327.2" cy="392.0" r="2.25" fill="#fff" stroke="#1f4a7a" stroke-width="1.0"/>
<circle cx="324.1" cy="415.8" r="2.25" fill="#fff" stroke="#1f4a7a" stroke-width="1.0"/>
<circle cx="369.8" cy="353.5" r="2.25" fill="#fff" stroke="#1f4a7a" stroke-width="1.0"/>
<circle cx="369.8" cy="368.4" r="2.25" fill="#fff" stroke="#1f4a7a" stroke-width="1.0"/>
<circle cx="369.8" cy="409.4" r="2.25" fill="#fff" stroke="#1f4a7a" stroke-width="1.0"/>
<circle cx="366.0" cy="413.0" r="2.25" fill="#fff" stroke="#1f4a7a" stroke-width="1.0"/>
<circle cx="373.6" cy="413.0" r="2.25" fill="#fff" stroke="#1f4a7a" stroke-width="1.0"/>
<rect x="0.5" y="0.5" width="519" height="427" fill="none" stroke="#444" stroke-width="1.2"/>
</svg>
</body></html>
